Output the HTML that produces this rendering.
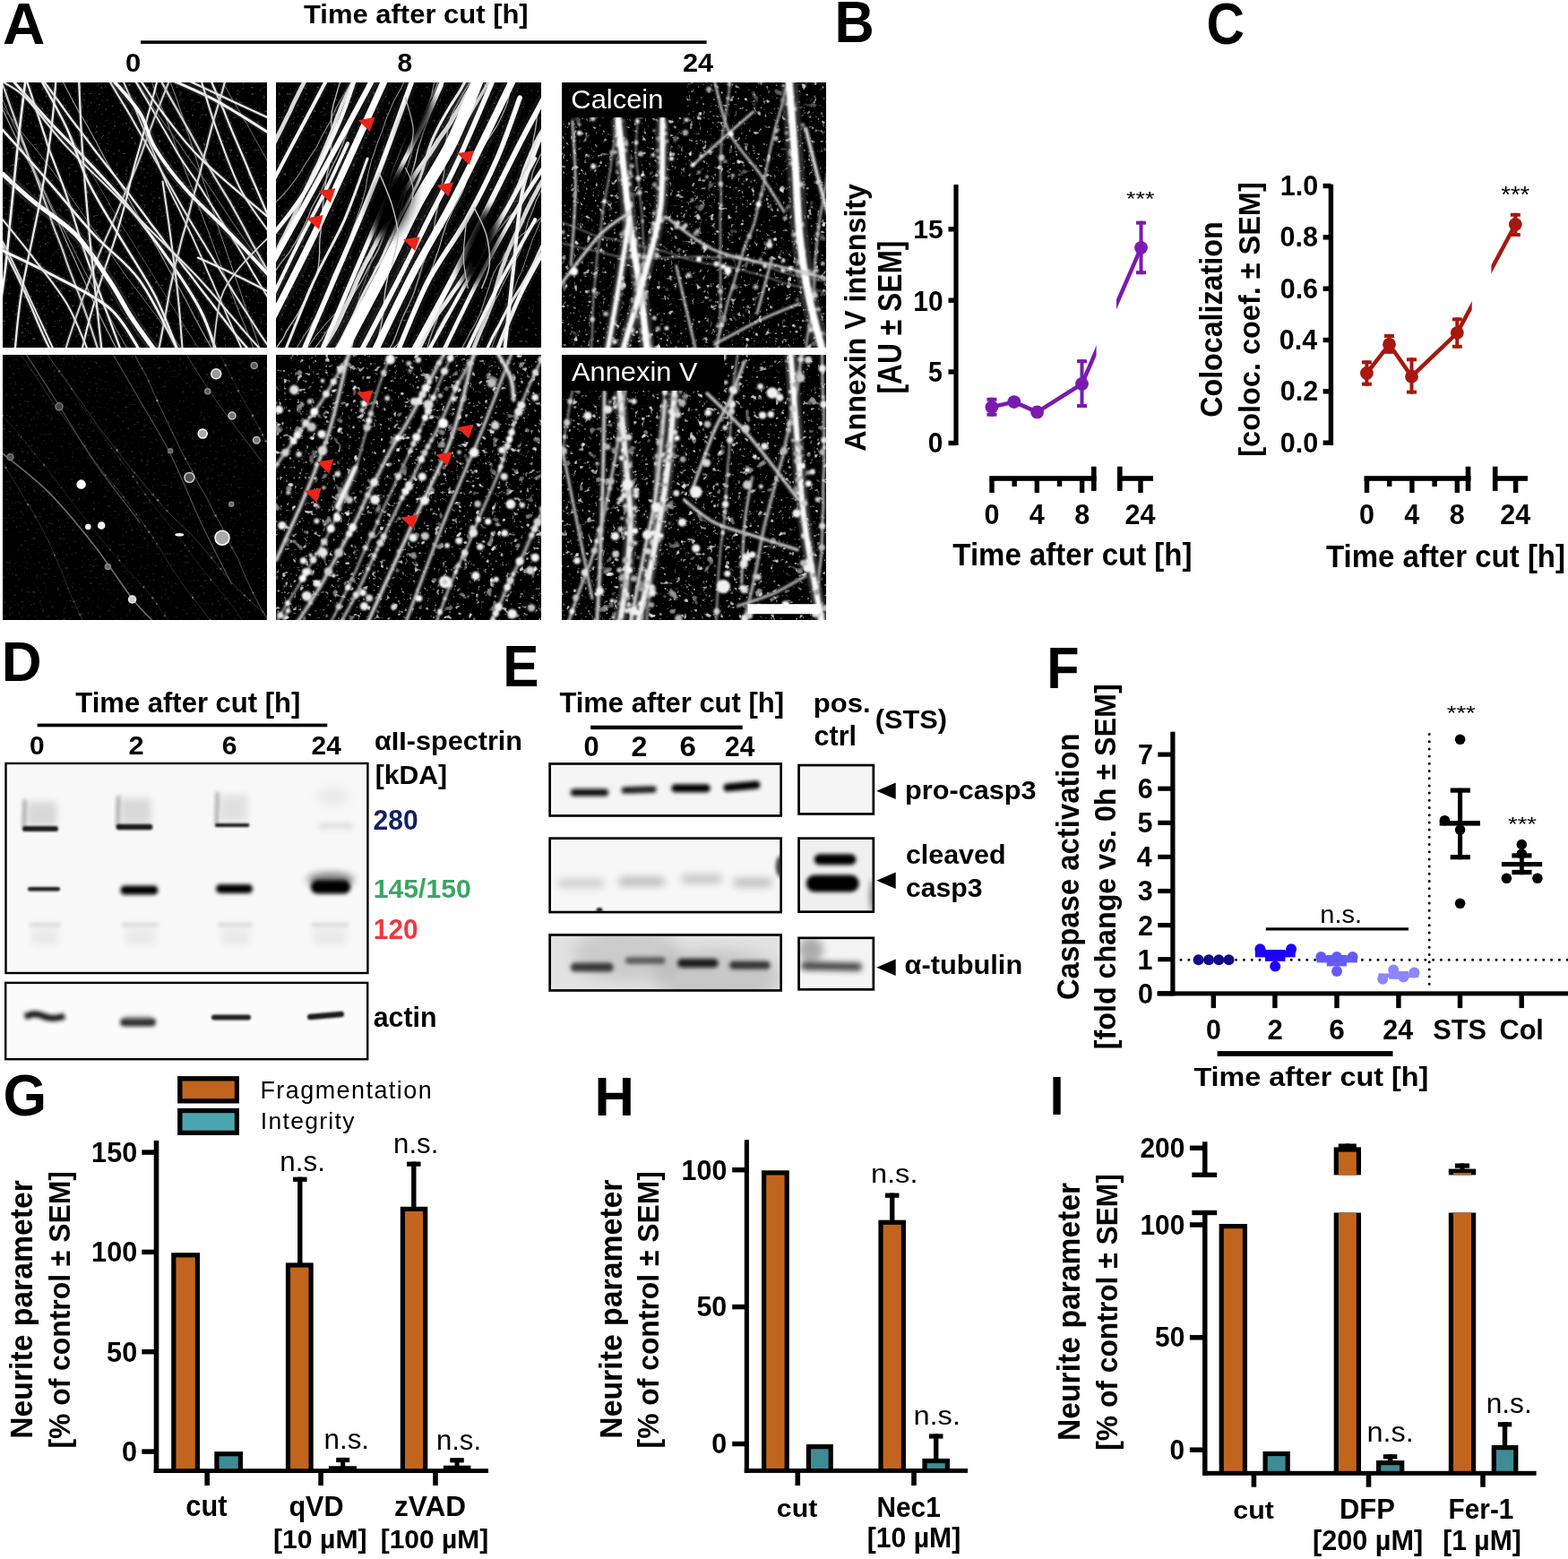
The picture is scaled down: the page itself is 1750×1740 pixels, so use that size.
<!DOCTYPE html>
<html><head><meta charset="utf-8"><title>Figure</title>
<style>html,body{margin:0;padding:0;background:#fff;}svg{display:block;}text{font-family:'Liberation Sans', Arial, Helvetica, sans-serif;font-weight:bold;}</style>
</head><body>
<svg width="1750" height="1740" viewBox="0 0 1750 1740">
<rect width="1750" height="1740" fill="#fff"/>
<text transform="translate(931.61,47.4) scale(0.9507,1)" font-size="64.49">B</text>
<rect x="1064.4" y="206" width="5.2" height="291" fill="#000"/>
<rect x="1058.5" y="491.8" width="8.5" height="5.4" fill="#000"/>
<rect x="1058.5" y="412.3" width="8.5" height="5.4" fill="#000"/>
<rect x="1058.5" y="332.5" width="8.5" height="5.4" fill="#000"/>
<rect x="1058.5" y="253.1" width="8.5" height="5.4" fill="#000"/>
<text transform="translate(1019.3,266.3) scale(0.9969,1)" font-size="30.14">15</text>
<text transform="translate(1019.31,346.59) scale(0.9520,1)" font-size="31.41">10</text>
<text transform="translate(1036.05,425.98) scale(0.8915,1)" font-size="31.86">5</text>
<text transform="translate(1035.7,505.39) scale(0.9518,1)" font-size="31.41">0</text>
<text transform="translate(965.7,503.7) rotate(-90) scale(0.9523,1)" font-size="33.8">Annexin V intensity</text>
<text transform="translate(1006.31,439.45) rotate(-90) scale(0.8787,1)" font-size="36.15">[AU ± SEM]</text>
<rect x="1104.3" y="531.2" width="119.3" height="5.6" fill="#000"/>
<rect x="1247" y="531.2" width="40" height="5.6" fill="#000"/>
<rect x="1104.3" y="534" width="5.4" height="16" fill="#000"/>
<rect x="1154.62" y="534" width="5.4" height="16" fill="#000"/>
<rect x="1204.94" y="534" width="5.4" height="16" fill="#000"/>
<rect x="1129.46" y="534" width="5.4" height="9" fill="#000"/>
<rect x="1179.78" y="534" width="5.4" height="9" fill="#000"/>
<rect x="1270.3" y="534" width="5.4" height="16" fill="#000"/>
<rect x="1218" y="520.7" width="5.6" height="27.2" fill="#000"/>
<rect x="1247" y="520.7" width="5.6" height="27.2" fill="#000"/>
<text transform="translate(1098.54,585.35) scale(1.0000,1)" font-size="30.5">0</text>
<text transform="translate(1148.7,585.04) scale(1.0000,1)" font-size="30.5">4</text>
<text transform="translate(1199.18,585.35) scale(1.0000,1)" font-size="30.5">8</text>
<text transform="translate(1255.61,585.35) scale(1.0000,1)" font-size="30.5">24</text>
<text transform="translate(1063.37,630.9) scale(0.9184,1)" font-size="35.94">Time after cut [h]</text>
<defs><clipPath id="cb1"><rect x="1000" y="150" width="223.6" height="400"/><rect x="1246" y="150" width="100" height="400"/></clipPath></defs>
<g clip-path="url(#cb1)">
<polyline points="1106.9,454.3 1131.8,448.6 1157.6,459.9 1207.5,428.5 1273.5,276.4" fill="none" stroke="#7A1AB0" stroke-width="4.5" stroke-linejoin="round"/>
</g>
<line x1="1106.9" y1="443.8" x2="1106.9" y2="464.7" stroke="#7A1AB0" stroke-width="4"/>
<line x1="1101.4" y1="445.8" x2="1112.4" y2="445.8" stroke="#7A1AB0" stroke-width="4"/>
<line x1="1101.4" y1="462.7" x2="1112.4" y2="462.7" stroke="#7A1AB0" stroke-width="4"/>
<line x1="1207.5" y1="401.2" x2="1207.5" y2="455" stroke="#7A1AB0" stroke-width="4"/>
<line x1="1202" y1="403.2" x2="1213" y2="403.2" stroke="#7A1AB0" stroke-width="4"/>
<line x1="1202" y1="453" x2="1213" y2="453" stroke="#7A1AB0" stroke-width="4"/>
<line x1="1273.5" y1="246.7" x2="1273.5" y2="306.2" stroke="#7A1AB0" stroke-width="4"/>
<line x1="1268" y1="248.7" x2="1279" y2="248.7" stroke="#7A1AB0" stroke-width="4"/>
<line x1="1268" y1="304.2" x2="1279" y2="304.2" stroke="#7A1AB0" stroke-width="4"/>
<circle cx="1106.9" cy="454.3" r="7.4" fill="#7A1AB0"/>
<circle cx="1131.8" cy="448.6" r="7.4" fill="#7A1AB0"/>
<circle cx="1157.6" cy="459.9" r="7.4" fill="#7A1AB0"/>
<circle cx="1207.5" cy="428.5" r="7.4" fill="#7A1AB0"/>
<circle cx="1273.5" cy="276.4" r="7.4" fill="#7A1AB0"/>
<text transform="translate(1257,229.47) scale(1.1743,1)" font-size="22.86" style="font-weight:normal">***</text>
<text transform="translate(1346.55,49.35) scale(0.9072,1)" font-size="64.79">C</text>
<rect x="1482.7" y="205.7" width="5.4" height="291.3" fill="#000"/>
<rect x="1476.6" y="491.5" width="8.8" height="5.4" fill="#000"/>
<rect x="1476.6" y="434.16" width="8.8" height="5.4" fill="#000"/>
<rect x="1476.6" y="376.82" width="8.8" height="5.4" fill="#000"/>
<rect x="1476.6" y="319.48" width="8.8" height="5.4" fill="#000"/>
<rect x="1476.6" y="262.14" width="8.8" height="5.4" fill="#000"/>
<rect x="1476.6" y="204.8" width="8.8" height="5.4" fill="#000"/>
<text transform="translate(1428.83,504.72) scale(1.0000,1)" font-size="30.5">0.0</text>
<text transform="translate(1428.83,447.38) scale(1.0000,1)" font-size="30.5">0.2</text>
<text transform="translate(1427.76,390.04) scale(1.0000,1)" font-size="30.5">0.4</text>
<text transform="translate(1428.67,332.7) scale(1.0000,1)" font-size="30.5">0.6</text>
<text transform="translate(1428.52,275.36) scale(1.0000,1)" font-size="30.5">0.8</text>
<text transform="translate(1428.83,218.02) scale(1.0000,1)" font-size="30.5">1.0</text>
<text transform="translate(1364.16,465.79) rotate(-90) scale(0.9363,1)" font-size="34.42">Colocalization</text>
<text transform="translate(1405.73,509.69) rotate(-90) scale(0.9638,1)" font-size="33.69">[coloc. coef. ± SEM]</text>
<rect x="1522.5" y="531.2" width="119" height="5.6" fill="#000"/>
<rect x="1666" y="531.2" width="39" height="5.6" fill="#000"/>
<rect x="1522.8" y="534" width="5.4" height="16" fill="#000"/>
<rect x="1573.2" y="534" width="5.4" height="16" fill="#000"/>
<rect x="1623.6" y="534" width="5.4" height="16" fill="#000"/>
<rect x="1548" y="534" width="5.4" height="9" fill="#000"/>
<rect x="1598.4" y="534" width="5.4" height="9" fill="#000"/>
<rect x="1688.9" y="534" width="5.4" height="16" fill="#000"/>
<rect x="1635.7" y="520.7" width="5.6" height="27.2" fill="#000"/>
<rect x="1665.9" y="520.7" width="5.6" height="27.2" fill="#000"/>
<text transform="translate(1517.04,585.35) scale(1.0000,1)" font-size="30.5">0</text>
<text transform="translate(1567.28,585.04) scale(1.0000,1)" font-size="30.5">4</text>
<text transform="translate(1617.84,585.35) scale(1.0000,1)" font-size="30.5">8</text>
<text transform="translate(1674.21,585.35) scale(1.0000,1)" font-size="30.5">24</text>
<text transform="translate(1479.97,633) scale(0.9490,1)" font-size="34.78">Time after cut [h]</text>
<defs><clipPath id="cc1"><rect x="1400" y="150" width="242.7" height="400"/><rect x="1664.4" y="150" width="100" height="400"/></clipPath></defs>
<g clip-path="url(#cc1)">
<polyline points="1525.4,416.5 1550.5,384.3 1575.5,420.2 1626.3,371.6 1691.3,250.5" fill="none" stroke="#A6180E" stroke-width="4.5" stroke-linejoin="round"/>
</g>
<line x1="1525.4" y1="402.3" x2="1525.4" y2="430.7" stroke="#A6180E" stroke-width="4"/>
<line x1="1519.9" y1="404.3" x2="1530.9" y2="404.3" stroke="#A6180E" stroke-width="4"/>
<line x1="1519.9" y1="428.7" x2="1530.9" y2="428.7" stroke="#A6180E" stroke-width="4"/>
<line x1="1550.5" y1="373" x2="1550.5" y2="394.8" stroke="#A6180E" stroke-width="4"/>
<line x1="1545" y1="375" x2="1556" y2="375" stroke="#A6180E" stroke-width="4"/>
<line x1="1545" y1="392.8" x2="1556" y2="392.8" stroke="#A6180E" stroke-width="4"/>
<line x1="1575.5" y1="399.3" x2="1575.5" y2="439.6" stroke="#A6180E" stroke-width="4"/>
<line x1="1570" y1="401.3" x2="1581" y2="401.3" stroke="#A6180E" stroke-width="4"/>
<line x1="1570" y1="437.6" x2="1581" y2="437.6" stroke="#A6180E" stroke-width="4"/>
<line x1="1626.3" y1="354.4" x2="1626.3" y2="388.8" stroke="#A6180E" stroke-width="4"/>
<line x1="1620.8" y1="356.4" x2="1631.8" y2="356.4" stroke="#A6180E" stroke-width="4"/>
<line x1="1620.8" y1="386.8" x2="1631.8" y2="386.8" stroke="#A6180E" stroke-width="4"/>
<line x1="1691.3" y1="237.8" x2="1691.3" y2="264" stroke="#A6180E" stroke-width="4"/>
<line x1="1685.8" y1="239.8" x2="1696.8" y2="239.8" stroke="#A6180E" stroke-width="4"/>
<line x1="1685.8" y1="262" x2="1696.8" y2="262" stroke="#A6180E" stroke-width="4"/>
<circle cx="1525.4" cy="416.5" r="7.4" fill="#A6180E"/>
<circle cx="1550.5" cy="384.3" r="7.4" fill="#A6180E"/>
<circle cx="1575.5" cy="420.2" r="7.4" fill="#A6180E"/>
<circle cx="1626.3" cy="371.6" r="7.4" fill="#A6180E"/>
<circle cx="1691.3" cy="250.5" r="7.4" fill="#A6180E"/>
<text transform="translate(1675.19,226.25) scale(1.0832,1)" font-size="25.43" style="font-weight:normal">***</text>
<text transform="translate(2.96,49) scale(1.0183,1)" font-size="64.35">A</text>
<text transform="translate(338.99,25.77) scale(1.0275,1)" font-size="30.16">Time after cut [h]</text>
<rect x="157" y="45.3" width="631.6" height="3.6" fill="#000"/>
<text transform="translate(140.06,80) scale(1.0316,1)" font-size="30">0</text>
<text transform="translate(443.4,79.7) scale(0.9920,1)" font-size="30.14">8</text>
<text transform="translate(761.92,79.8) scale(1.0183,1)" font-size="30.29">24</text>
<defs><clipPath id="cp1"><rect x="3" y="92" width="295" height="296"/></clipPath><filter id="fp1" filterUnits="userSpaceOnUse" x="-2" y="87" width="305" height="306"><feGaussianBlur stdDeviation="0.55"/></filter></defs>
<g clip-path="url(#cp1)"><rect x="3" y="92" width="295" height="296" fill="#000"/>
<filter id="spk1" filterUnits="userSpaceOnUse" x="3" y="92" width="295" height="296"><feTurbulence type="fractalNoise" baseFrequency="0.3" numOctaves="2" seed="2"/><feColorMatrix type="matrix" values="3 0 0 0 -2.05 3 0 0 0 -2.05 3 0 0 0 -2.05 0 0 0 0 1"/><feGaussianBlur stdDeviation="0.6"/></filter>
<rect x="3" y="92" width="295" height="296" filter="url(#spk1)" opacity="0.35" style="mix-blend-mode:screen"/>
<g filter="url(#fp1)">
<path d="M-71.7,243.7 -67.7,250.6 -63.7,257.5" stroke="#757575" stroke-width="1.26" fill="none" stroke-linejoin="round" stroke-linecap="round"/>
<path d="M-30.5,256.4 -26,263.1 -21.5,269.6" stroke="#575757" stroke-width="1.2" fill="none" stroke-linejoin="round" stroke-linecap="round"/>
<path d="M-17,79 -13.7,86.3 -10.2,93.5 -6.8,100.7 -3.5,108 -0.1,115.3 3.2,122.5 6.6,129.8 10,137 13.4,144.3 16.9,151.5 20.4,158.6 24,165.8 27.7,172.9 31.4,180 35.2,187 39,194.1 42.9,201.1 46.4,208.3 49.7,215.6 53,222.8 56.3,230.1 59.7,237.3 63.1,244.6 66.5,251.8 69.7,259.2 72.8,266.5 76.1,273.8 79.3,281.1 82.8,288.4 86,295.7 89.3,303 92.6,310.3 95.9,317.6 98.9,325 102.3,332.2 105.6,339.5 109,346.8 112.3,354 115.8,361.2 119.4,368.4 123,375.5 126.6,382.7 130.3,389.8 133.7,397 137.1,404.2 140.6,411.4" stroke="#9d9d9d" stroke-width="1.29" fill="none" stroke-linejoin="round" stroke-linecap="round"/>
<path d="M-20.3,86.1 -15.6,92.6 -11,99.1 -6.5,105.7 -1.9,112.3 2.8,118.7 7.5,125.2 12.2,131.7 17,138.1 21.9,144.4 26.8,150.7 31.9,156.9 37.1,163 42.2,169.1 47,175.5 51.9,181.9 56.7,188.3 61.4,194.8 66.2,201.1 70.8,207.7 75.3,214.3 79.8,220.9 84.3,227.5 88.8,234.1 93.4,240.7 98.1,247.1 102.8,253.6 107.4,260.2 112,266.8 116.6,273.3 121.1,279.9 125.7,286.4 130.3,293 134.8,299.6 139.3,306.2 144.1,312.6 149,318.9 153.9,325.3 158.7,331.6 163.5,338.1 168.3,344.5 173.1,350.8 177.9,357.2 182.8,363.6 187.9,369.8 192.9,376 197.6,382.4 202.3,388.9 207.2,395.3 212,401.6 216.9,408 221.6,414.5" stroke="#8f8f8f" stroke-width="0.83" fill="none" stroke-linejoin="round" stroke-linecap="round"/>
<path d="M-19.2,67.2 -15.5,74.4 -11.9,81.5 -8.2,88.6 -4.6,95.7 -1,102.9 2.4,110.1 5.7,117.4 8.7,124.8 12,132.1 15.3,139.4 18.6,146.7 22,153.9 25.3,161.2 28.6,168.5 32,175.7 35.4,183 38.8,190.2 42.2,197.5 45.6,204.7 49.2,211.9 52.7,219 56.1,226.3 59.6,233.5 63.2,240.6 66.8,247.7 70.4,254.9 74,262.1 77.6,269.2 81.2,276.3 84.7,283.5 88.4,290.6 92,297.8 95.6,304.9 99.3,312 103.1,319 106.9,326.1 110.8,333.1 114.6,340.1 118.4,347.2 122.4,354.1 126.3,361 130.2,368.1 134.1,375.1 138,382 142.1,388.9 146.1,395.8 150.1,402.7 154.2,409.6" stroke="#919191" stroke-width="0.93" fill="none" stroke-linejoin="round" stroke-linecap="round"/>
<path d="M60,71.5 63.8,78.5 67.4,85.6 71.1,92.7 74.8,99.9 78.4,107 82.2,114.1 86,121.1 90.1,128 94.2,134.8 98.2,141.7 102,148.8 105.9,155.8 109.6,162.8 113.3,169.9 117.1,177 121,184 125,190.9 129.2,197.7 133.4,204.5 137.5,211.4 141.5,218.3 145.4,225.3 149.3,232.3 153.3,239.2 157.5,246 161.6,252.9 165.7,259.8 169.8,266.6 173.8,273.6 177.7,280.6 181.5,287.6 185.2,294.7 189,301.7 193,308.7 196.8,315.7 200.8,322.6 204.6,329.7 208.4,336.7 212,343.8 215.6,351 219.4,358 223.1,365.1 226.9,372.1 230.8,379.1 234.7,386.1 238.5,393.1 242.3,400.2 245.9,407.4 249.7,414.4" stroke="#959595" stroke-width="1.2" fill="none" stroke-linejoin="round" stroke-linecap="round"/>
<path d="M34.2,70.8 38.1,77.8 42,84.7 45.9,91.7 49.9,98.6 54,105.5 57.9,112.5 62.1,119.3 66,126.3 69.8,133.3 73.7,140.4 77.3,147.5 81,154.6 84.7,161.6 88.5,168.7 92.3,175.7 96.1,182.8 100,189.8 104,196.7 108.1,203.6 112.2,210.5 116.2,217.4 120.2,224.3 124.1,231.3 128.1,238.2 132.1,245.1 136.2,252 140.6,258.7 144.9,265.4 149.2,272.2 153.3,279 157.6,285.8 161.8,292.6 166,299.4 170.2,306.2 174.3,313.1 178.5,319.9 182.8,326.7 187.1,333.4 191.3,340.2 195.5,347 199.7,353.8 203.8,360.7 208.1,367.4 212.4,374.2 216.6,381 221,387.7 225.3,394.5 229.7,401.1 234,407.9 238.1,414.7" stroke="#5d5d5d" stroke-width="0.94" fill="none" stroke-linejoin="round" stroke-linecap="round"/>
<path d="M181.2,68.6 183.8,76.2 186.8,83.6 189.8,91 192.7,98.5 195.5,106 198.1,113.5 200.7,121.1 203.2,128.7 205.7,136.3 208.1,143.9 210.7,151.5 213.1,159.1 215.6,166.7 218.2,174.3 220.5,182 222.8,189.6 225.3,197.2 227.8,204.8 230.5,212.3 232.9,220 235.3,227.6 237.8,235.2 240.1,242.9 242.5,250.5 245,258.1 247.6,265.7 250.2,273.2 252.8,280.8 255.4,288.4 258,295.9 260.6,303.5 263.2,311 266,318.6 268.5,326.1 271,333.7 273.5,341.3 276.1,348.9 278.8,356.4 281.4,364 284.1,371.5 286.6,379.1 289.3,386.7 291.8,394.3 294.4,401.8 296.9,409.4" stroke="#828282" stroke-width="1.03" fill="none" stroke-linejoin="round" stroke-linecap="round"/>
<path d="M161.6,71.1 164.4,78.6 167.2,86 170.3,93.4 173,100.9 175.9,108.4 178.8,115.9 181.9,123.3 184.7,130.7 187.4,138.3 190.1,145.8 192.9,153.3 195.4,160.9 198.1,168.4 201,175.9 204,183.3 206.8,190.8 209.7,198.3 212.7,205.7 215.7,213.1 218.5,220.6 221.1,228.1 223.9,235.6 226.7,243.1 229.4,250.6 232.4,258.1 235.2,265.6 237.9,273.1 240.6,280.6 243.4,288.1 246.3,295.6 249.2,303.1 252.2,310.5 255.1,317.9 258,325.4 260.9,332.8 263.8,340.3 266.6,347.8 269.6,355.2 272.8,362.5 275.8,369.9 278.7,377.4 281.5,384.9 284.2,392.4 287,399.9 289.5,407.5 292.2,415.1" stroke="#797979" stroke-width="1.12" fill="none" stroke-linejoin="round" stroke-linecap="round"/>
<path d="M233.6,65.5 237.6,72.4 241.6,79.4 245.6,86.3 249.5,93.3 253.4,100.3 257.3,107.2 261.4,114.1 265.4,121 269.3,128 273.4,134.9 277.4,141.8 281.3,148.8 285.1,155.8 289,162.8 292.9,169.8 296.8,176.8 300.8,183.7 304.8,190.7 308.9,197.5 313,204.4 317.2,211.2 321.4,218" stroke="#595959" stroke-width="1.17" fill="none" stroke-linejoin="round" stroke-linecap="round"/>
<path d="M139.8,71.4 144.4,78 148.8,84.7 153.1,91.4 157.4,98.1 161.8,104.8 166.1,111.6 170.4,118.3 174.6,125.1 179.1,131.7 183.7,138.3 188.4,144.8 193,151.2 197.8,157.7 202.4,164.2 207,170.8 211.5,177.4 216.2,183.9 220.8,190.4 225.5,196.9 230.1,203.4 234.6,210 239,216.7 243.4,223.4 247.8,230.1 252.2,236.8 256.5,243.5 260.9,250.2 265.5,256.7 270.1,263.3 274.7,269.8 279.2,276.4 283.8,283 288.5,289.5 293.2,296 297.7,302.5 302.3,309.1 307.1,315.5 311.8,322 316.4,328.5 321.4,334.8" stroke="#5a5a5a" stroke-width="1.24" fill="none" stroke-linejoin="round" stroke-linecap="round"/>
<path d="M361.3,250.4 364.1,257.9 366.8,265.4" stroke="#888888" stroke-width="0.81" fill="none" stroke-linejoin="round" stroke-linecap="round"/>
<path d="M-64.7,216.3 -60.6,223.2 -56.6,230.1" stroke="#727272" stroke-width="4.67" fill="none" opacity="0.2" stroke-linejoin="round"/>
<path d="M-64.7,216.3 -60.6,223.2 -56.6,230.1" stroke="#d0d0d0" stroke-width="1.8" fill="none" stroke-linejoin="round" stroke-linecap="round"/>
<path d="M-29.3,269.8 -24.8,276.3 -20.1,282.9" stroke="#7f7f7f" stroke-width="6.4" fill="none" opacity="0.2" stroke-linejoin="round"/>
<path d="M-29.3,269.8 -24.8,276.3 -20.1,282.9" stroke="#e7e7e7" stroke-width="2.46" fill="none" stroke-linejoin="round" stroke-linecap="round"/>
<path d="M-17.3,229.8 -13.6,236.9 -10,244.1 -6.4,251.2 -2.9,258.4 0.7,265.5 4.5,272.6 8.1,279.7 11.6,286.9 15.1,294.1 18.6,301.3 22,308.5 25.4,315.8 28.7,323.1 32,330.4 35.3,337.6 38.8,344.9 42.1,352.1 45.5,359.4 48.9,366.6 52.2,373.9 55.5,381.2 58.9,388.4 62.2,395.7 65.6,402.9 69.1,410.2" stroke="#878787" stroke-width="4.83" fill="none" opacity="0.2" stroke-linejoin="round"/>
<path d="M-17.3,229.8 -13.6,236.9 -10,244.1 -6.4,251.2 -2.9,258.4 0.7,265.5 4.5,272.6 8.1,279.7 11.6,286.9 15.1,294.1 18.6,301.3 22,308.5 25.4,315.8 28.7,323.1 32,330.4 35.3,337.6 38.8,344.9 42.1,352.1 45.5,359.4 48.9,366.6 52.2,373.9 55.5,381.2 58.9,388.4 62.2,395.7 65.6,402.9 69.1,410.2" stroke="#f5f5f5" stroke-width="1.86" fill="none" stroke-linejoin="round" stroke-linecap="round"/>
<path d="M-18.2,227.1 -14.9,234.4 -11.6,241.7 -8.5,249.1 -5.2,256.4 -1.9,263.6 1.5,270.9 4.8,278.2 8.1,285.4 11.6,292.7 15.1,299.8 18.7,307 22.1,314.2 25.5,321.5 28.8,328.8 32,336.1 35.2,343.4 38.3,350.8 41.4,358.2 44.5,365.5 47.7,372.9 51.1,380.2 54.5,387.4 57.7,394.7 60.8,402.1 63.9,409.4" stroke="#818181" stroke-width="5.83" fill="none" opacity="0.2" stroke-linejoin="round"/>
<path d="M-18.2,227.1 -14.9,234.4 -11.6,241.7 -8.5,249.1 -5.2,256.4 -1.9,263.6 1.5,270.9 4.8,278.2 8.1,285.4 11.6,292.7 15.1,299.8 18.7,307 22.1,314.2 25.5,321.5 28.8,328.8 32,336.1 35.2,343.4 38.3,350.8 41.4,358.2 44.5,365.5 47.7,372.9 51.1,380.2 54.5,387.4 57.7,394.7 60.8,402.1 63.9,409.4" stroke="#ebebeb" stroke-width="2.24" fill="none" stroke-linejoin="round" stroke-linecap="round"/>
<path d="M-5.8,65.6 -3.5,73.3 -1.2,80.9 1.1,88.6 3.5,96.2 6.3,103.7 8.9,111.3 11.6,118.8 14.3,126.3 17,133.9 19.6,141.4 22.4,148.9 25.1,156.5 28,163.9 30.7,171.4 33.5,178.9 36.2,186.5 38.9,194 41.7,201.5 44.4,209 47.2,216.5 49.8,224.1 52.5,231.6 55.1,239.2 57.6,246.8 60.3,254.3 63.2,261.8 66.1,269.2 69,276.7 71.7,284.2 74.2,291.8 76.9,299.4 79.8,306.8 82.7,314.3 85.4,321.8 88.3,329.2 91.1,336.7 93.8,344.3 96.5,351.8 99.2,359.3 101.8,366.9 104.3,374.5 106.8,382.1 109.2,389.7 111.6,397.3 114.2,404.9 116.9,412.5" stroke="#6f6f6f" stroke-width="5.75" fill="none" opacity="0.2" stroke-linejoin="round"/>
<path d="M-5.8,65.6 -3.5,73.3 -1.2,80.9 1.1,88.6 3.5,96.2 6.3,103.7 8.9,111.3 11.6,118.8 14.3,126.3 17,133.9 19.6,141.4 22.4,148.9 25.1,156.5 28,163.9 30.7,171.4 33.5,178.9 36.2,186.5 38.9,194 41.7,201.5 44.4,209 47.2,216.5 49.8,224.1 52.5,231.6 55.1,239.2 57.6,246.8 60.3,254.3 63.2,261.8 66.1,269.2 69,276.7 71.7,284.2 74.2,291.8 76.9,299.4 79.8,306.8 82.7,314.3 85.4,321.8 88.3,329.2 91.1,336.7 93.8,344.3 96.5,351.8 99.2,359.3 101.8,366.9 104.3,374.5 106.8,382.1 109.2,389.7 111.6,397.3 114.2,404.9 116.9,412.5" stroke="#cacaca" stroke-width="2.21" fill="none" stroke-linejoin="round" stroke-linecap="round"/>
<path d="M23.1,69.6 25.4,77.2 27.9,84.9 30.5,92.4 33.1,100 35.6,107.6 38,115.2 40.4,122.8 43,130.4 45.5,138 47.9,145.6 50.5,153.2 52.8,160.9 55.4,168.4 58.3,175.9 61.2,183.3 64.1,190.8 67,198.3 69.8,205.7 72.5,213.3 75.1,220.9 77.6,228.5 80.1,236.1 82.6,243.7 84.9,251.3 87.2,259 89.6,266.6 92.2,274.2 94.7,281.8 97.2,289.4 100,296.9 102.9,304.3 105.8,311.8 108.6,319.3 111.3,326.8 114,334.3 116.6,341.9 119.5,349.4 122.3,356.8 125.1,364.4 127.8,371.9 130.6,379.4 133.4,386.9 136.3,394.3 139.2,401.8 142.1,409.2" stroke="#898989" stroke-width="5.54" fill="none" opacity="0.2" stroke-linejoin="round"/>
<path d="M23.1,69.6 25.4,77.2 27.9,84.9 30.5,92.4 33.1,100 35.6,107.6 38,115.2 40.4,122.8 43,130.4 45.5,138 47.9,145.6 50.5,153.2 52.8,160.9 55.4,168.4 58.3,175.9 61.2,183.3 64.1,190.8 67,198.3 69.8,205.7 72.5,213.3 75.1,220.9 77.6,228.5 80.1,236.1 82.6,243.7 84.9,251.3 87.2,259 89.6,266.6 92.2,274.2 94.7,281.8 97.2,289.4 100,296.9 102.9,304.3 105.8,311.8 108.6,319.3 111.3,326.8 114,334.3 116.6,341.9 119.5,349.4 122.3,356.8 125.1,364.4 127.8,371.9 130.6,379.4 133.4,386.9 136.3,394.3 139.2,401.8 142.1,409.2" stroke="#f9f9f9" stroke-width="2.13" fill="none" stroke-linejoin="round" stroke-linecap="round"/>
<path d="M33.6,69.7 38.3,76.1 43,82.5 47.7,89 52.4,95.5 57.2,102 61.9,108.4 66.6,114.9 71.2,121.4 75.9,127.9 80.6,134.3 85.5,140.7 90.4,147 95.2,153.4 100,159.8 104.7,166.3 109.6,172.6 114.5,178.9 119.4,185.3 124.3,191.5 129.3,197.9 134.2,204.2 139.1,210.4 144.1,216.7 148.8,223.2 153.6,229.6 158.4,236 163.1,242.4 167.8,249 172.6,255.3 177.6,261.6 182.3,268.1 187.1,274.5 192,280.7 196.9,287.1 201.8,293.4 206.7,299.8 211.7,306 216.5,312.4 221.3,318.8 226.1,325.2 231,331.5 235.9,337.9 240.7,344.2 245.5,350.6 250.4,357 255.2,363.4 260.1,369.7 265.2,375.9 270.3,382 275.5,388.1 280.7,394.2 285.9,400.3 291.1,406.4 296.4,412.4" stroke="#898989" stroke-width="5.86" fill="none" opacity="0.2" stroke-linejoin="round"/>
<path d="M33.6,69.7 38.3,76.1 43,82.5 47.7,89 52.4,95.5 57.2,102 61.9,108.4 66.6,114.9 71.2,121.4 75.9,127.9 80.6,134.3 85.5,140.7 90.4,147 95.2,153.4 100,159.8 104.7,166.3 109.6,172.6 114.5,178.9 119.4,185.3 124.3,191.5 129.3,197.9 134.2,204.2 139.1,210.4 144.1,216.7 148.8,223.2 153.6,229.6 158.4,236 163.1,242.4 167.8,249 172.6,255.3 177.6,261.6 182.3,268.1 187.1,274.5 192,280.7 196.9,287.1 201.8,293.4 206.7,299.8 211.7,306 216.5,312.4 221.3,318.8 226.1,325.2 231,331.5 235.9,337.9 240.7,344.2 245.5,350.6 250.4,357 255.2,363.4 260.1,369.7 265.2,375.9 270.3,382 275.5,388.1 280.7,394.2 285.9,400.3 291.1,406.4 296.4,412.4" stroke="#f9f9f9" stroke-width="2.25" fill="none" stroke-linejoin="round" stroke-linecap="round"/>
<path d="M107.2,65.6 111.2,72.5 115.3,79.4 119.4,86.2 123.7,92.9 127.8,99.8 131.9,106.7 136.1,113.5 140.2,120.4 144.4,127.2 148.3,134.2 152.2,141.2 156.1,148.1 160,155.1 163.9,162.1 167.8,169.1 171.8,176 175.8,183 179.6,190 183.6,197 187.6,203.9 191.7,210.7 195.7,217.7 199.6,224.7 203.5,231.6 207.6,238.5 211.6,245.4 215.7,252.3 219.9,259.1 224,266 228.2,272.8 232.3,279.7 236.5,286.5 240.6,293.4 244.8,300.2 248.9,307 253.2,313.8 257.3,320.6 261.4,327.5 265.7,334.2 270,341 274.3,347.8 278.6,354.5 282.9,361.2 287.2,368 291.5,374.7 296.1,381.3 300.7,387.8 305.1,394.5 309.6,401.1 313.9,407.9 318.2,414.6" stroke="#7c7c7c" stroke-width="5.5" fill="none" opacity="0.2" stroke-linejoin="round"/>
<path d="M107.2,65.6 111.2,72.5 115.3,79.4 119.4,86.2 123.7,92.9 127.8,99.8 131.9,106.7 136.1,113.5 140.2,120.4 144.4,127.2 148.3,134.2 152.2,141.2 156.1,148.1 160,155.1 163.9,162.1 167.8,169.1 171.8,176 175.8,183 179.6,190 183.6,197 187.6,203.9 191.7,210.7 195.7,217.7 199.6,224.7 203.5,231.6 207.6,238.5 211.6,245.4 215.7,252.3 219.9,259.1 224,266 228.2,272.8 232.3,279.7 236.5,286.5 240.6,293.4 244.8,300.2 248.9,307 253.2,313.8 257.3,320.6 261.4,327.5 265.7,334.2 270,341 274.3,347.8 278.6,354.5 282.9,361.2 287.2,368 291.5,374.7 296.1,381.3 300.7,387.8 305.1,394.5 309.6,401.1 313.9,407.9 318.2,414.6" stroke="#e3e3e3" stroke-width="2.12" fill="none" stroke-linejoin="round" stroke-linecap="round"/>
<path d="M127,66 130.2,73.3 133.3,80.7 136.5,88.1 139.6,95.4 142.8,102.7 146,110.1 149.3,117.4 152.3,124.8 155.3,132.2 158.4,139.6 161.5,146.9 164.6,154.3 167.8,161.7 170.9,169 174,176.4 177.2,183.7 180.2,191.2 183.2,198.6 186.2,206 189.7,213.2 193.2,220.4 196.8,227.5 200.4,234.7 203.7,241.9 207.2,249.1 210.8,256.3 214.2,263.5 217.5,270.8 220.8,278.1 224.1,285.4 227.4,292.7 230.5,300.1 233.7,307.4 237,314.7 240.1,322 243.4,329.3 246.7,336.6 249.9,344 253,351.3 256.2,358.7 259.4,366 262.6,373.3 265.9,380.6 269.1,387.9 272.5,395.2 275.9,402.4 279.4,409.6" stroke="#7f7f7f" stroke-width="4.46" fill="none" opacity="0.2" stroke-linejoin="round"/>
<path d="M127,66 130.2,73.3 133.3,80.7 136.5,88.1 139.6,95.4 142.8,102.7 146,110.1 149.3,117.4 152.3,124.8 155.3,132.2 158.4,139.6 161.5,146.9 164.6,154.3 167.8,161.7 170.9,169 174,176.4 177.2,183.7 180.2,191.2 183.2,198.6 186.2,206 189.7,213.2 193.2,220.4 196.8,227.5 200.4,234.7 203.7,241.9 207.2,249.1 210.8,256.3 214.2,263.5 217.5,270.8 220.8,278.1 224.1,285.4 227.4,292.7 230.5,300.1 233.7,307.4 237,314.7 240.1,322 243.4,329.3 246.7,336.6 249.9,344 253,351.3 256.2,358.7 259.4,366 262.6,373.3 265.9,380.6 269.1,387.9 272.5,395.2 275.9,402.4 279.4,409.6" stroke="#e8e8e8" stroke-width="1.71" fill="none" stroke-linejoin="round" stroke-linecap="round"/>
<path d="M139.9,71.8 144.1,78.7 148.1,85.6 152.2,92.4 156.3,99.3 160.5,106.2 164.6,113 168.7,119.9 172.7,126.8 176.7,133.7 180.7,140.6 184.8,147.5 188.7,154.5 192.7,161.4 196.7,168.4 200.9,175.2 205.2,181.9 209.6,188.6 214.2,195.1 218.8,201.7 223.2,208.4 227.4,215.2 231.6,222 235.9,228.8 240.1,235.5 244.3,242.3 248.6,249.1 252.9,255.8 257.3,262.5 261.6,269.3 265.7,276.1 269.9,283 273.9,289.9 277.9,296.8 281.9,303.7 286,310.6 290.2,317.4 294.4,324.2 298.5,331.1 302.5,338 306.5,345 310.7,351.7 314.9,358.6 319,365.4" stroke="#858585" stroke-width="4.83" fill="none" opacity="0.2" stroke-linejoin="round"/>
<path d="M139.9,71.8 144.1,78.7 148.1,85.6 152.2,92.4 156.3,99.3 160.5,106.2 164.6,113 168.7,119.9 172.7,126.8 176.7,133.7 180.7,140.6 184.8,147.5 188.7,154.5 192.7,161.4 196.7,168.4 200.9,175.2 205.2,181.9 209.6,188.6 214.2,195.1 218.8,201.7 223.2,208.4 227.4,215.2 231.6,222 235.9,228.8 240.1,235.5 244.3,242.3 248.6,249.1 252.9,255.8 257.3,262.5 261.6,269.3 265.7,276.1 269.9,283 273.9,289.9 277.9,296.8 281.9,303.7 286,310.6 290.2,317.4 294.4,324.2 298.5,331.1 302.5,338 306.5,345 310.7,351.7 314.9,358.6 319,365.4" stroke="#f3f3f3" stroke-width="1.86" fill="none" stroke-linejoin="round" stroke-linecap="round"/>
<path d="M169.5,71.9 173.5,78.8 177.4,85.8 181.1,92.9 185,99.9 188.8,106.9 192.8,113.9 196.8,120.8 200.7,127.7 204.6,134.7 208.6,141.7 212.5,148.7 216.3,155.7 220.1,162.7 223.9,169.8 227.7,176.8 231.7,183.8 235.6,190.7 239.6,197.7 243.7,204.5 247.9,211.3 252.1,218.2 256.2,225 260.1,232 264,239 267.9,246 271.7,253 275.4,260.1 279.1,267.2 282.9,274.2 286.9,281.2 290.8,288.2 294.7,295.1 298.7,302.1 302.7,309 306.6,316 310.4,323 314.2,330.1 317.8,337.2 321.3,344.4" stroke="#747474" stroke-width="6.01" fill="none" opacity="0.2" stroke-linejoin="round"/>
<path d="M169.5,71.9 173.5,78.8 177.4,85.8 181.1,92.9 185,99.9 188.8,106.9 192.8,113.9 196.8,120.8 200.7,127.7 204.6,134.7 208.6,141.7 212.5,148.7 216.3,155.7 220.1,162.7 223.9,169.8 227.7,176.8 231.7,183.8 235.6,190.7 239.6,197.7 243.7,204.5 247.9,211.3 252.1,218.2 256.2,225 260.1,232 264,239 267.9,246 271.7,253 275.4,260.1 279.1,267.2 282.9,274.2 286.9,281.2 290.8,288.2 294.7,295.1 298.7,302.1 302.7,309 306.6,316 310.4,323 314.2,330.1 317.8,337.2 321.3,344.4" stroke="#d3d3d3" stroke-width="2.31" fill="none" stroke-linejoin="round" stroke-linecap="round"/>
<path d="M225.7,65 228.6,72.4 231.4,79.9 234.4,87.3 237.5,94.7 240.7,102 243.8,109.4 246.9,116.7 250.1,124.1 253,131.6 256,139 259,146.4 262.2,153.7 265.3,161.1 268.4,168.4 271.6,175.8 274.7,183.2 277.7,190.6 280.7,198 283.9,205.3 287.1,212.6 290.3,220 293.4,227.4 296.6,234.7 299.8,242.1 303,249.4 306.1,256.8 309,264.2 311.9,271.7 314.6,279.2 317.4,286.7 320.3,294.1" stroke="#838383" stroke-width="5.84" fill="none" opacity="0.2" stroke-linejoin="round"/>
<path d="M225.7,65 228.6,72.4 231.4,79.9 234.4,87.3 237.5,94.7 240.7,102 243.8,109.4 246.9,116.7 250.1,124.1 253,131.6 256,139 259,146.4 262.2,153.7 265.3,161.1 268.4,168.4 271.6,175.8 274.7,183.2 277.7,190.6 280.7,198 283.9,205.3 287.1,212.6 290.3,220 293.4,227.4 296.6,234.7 299.8,242.1 303,249.4 306.1,256.8 309,264.2 311.9,271.7 314.6,279.2 317.4,286.7 320.3,294.1" stroke="#eeeeee" stroke-width="2.25" fill="none" stroke-linejoin="round" stroke-linecap="round"/>
<path d="M320,313.4 325.7,319 331.2,324.8" stroke="#737373" stroke-width="5.79" fill="none" opacity="0.2" stroke-linejoin="round"/>
<path d="M320,313.4 325.7,319 331.2,324.8" stroke="#d1d1d1" stroke-width="2.23" fill="none" stroke-linejoin="round" stroke-linecap="round"/>
<path d="M372.1,202.9 376.3,209.7 380.5,216.5" stroke="#777777" stroke-width="6.58" fill="none" opacity="0.2" stroke-linejoin="round"/>
<path d="M372.1,202.9 376.3,209.7 380.5,216.5" stroke="#dadada" stroke-width="2.53" fill="none" stroke-linejoin="round" stroke-linecap="round"/>
<path d="M-42.6,304.1 -45,311.8 -47.2,319.5" stroke="#7b7b7b" stroke-width="5.29" fill="none" opacity="0.2" stroke-linejoin="round"/>
<path d="M-42.6,304.1 -45,311.8 -47.2,319.5" stroke="#e1e1e1" stroke-width="2.03" fill="none" stroke-linejoin="round" stroke-linecap="round"/>
<path d="M197.4,66.1 194.8,73.6 192.1,81.2 189.3,88.7 186.5,96.2 183.6,103.6 180.6,111.1 177.6,118.5 174.6,125.9 171.7,133.3 169,140.8 166.2,148.4 163.5,155.9 160.7,163.4 158.1,170.9 155.3,178.4 152.4,185.9 149.3,193.3 146.2,200.6 143,208 139.7,215.2 136.6,222.6 133.5,230 130.5,237.4 127.4,244.8 124.3,252.2 121.1,259.5 117.8,266.8 114.7,274.2 111.5,281.5 108.6,289 105.6,296.4 102.9,303.9 100.2,311.4 97.5,319 94.8,326.5 92,334 89.3,341.5 86.6,349.1 83.9,356.6 81.4,364.2 78.9,371.8 76.4,379.4 74.1,387.1 72.1,394.8 70.1,402.5 67.8,410.2" stroke="#717171" stroke-width="5.41" fill="none" opacity="0.2" stroke-linejoin="round"/>
<path d="M197.4,66.1 194.8,73.6 192.1,81.2 189.3,88.7 186.5,96.2 183.6,103.6 180.6,111.1 177.6,118.5 174.6,125.9 171.7,133.3 169,140.8 166.2,148.4 163.5,155.9 160.7,163.4 158.1,170.9 155.3,178.4 152.4,185.9 149.3,193.3 146.2,200.6 143,208 139.7,215.2 136.6,222.6 133.5,230 130.5,237.4 127.4,244.8 124.3,252.2 121.1,259.5 117.8,266.8 114.7,274.2 111.5,281.5 108.6,289 105.6,296.4 102.9,303.9 100.2,311.4 97.5,319 94.8,326.5 92,334 89.3,341.5 86.6,349.1 83.9,356.6 81.4,364.2 78.9,371.8 76.4,379.4 74.1,387.1 72.1,394.8 70.1,402.5 67.8,410.2" stroke="#cdcdcd" stroke-width="2.08" fill="none" stroke-linejoin="round" stroke-linecap="round"/>
<path d="M181.8,65.7 179.9,73.5 177.8,81.2 175.8,89 173.7,96.7 171.7,104.4 169.7,112.2 167.6,119.9 165.4,127.6 163.4,135.3 161.5,143.1 159.6,150.9 157.6,158.6 155.4,166.3 153.1,174 150.9,181.7 148.9,189.4 147,197.2 145,204.9 143.2,212.7 141.4,220.5 139.4,228.3 137.3,236 135.1,243.7 132.9,251.4 130.7,259.1 128.3,266.7 125.8,274.3 123.1,281.8 120.6,289.4 117.9,297 115.5,304.6 113,312.2 110.6,319.8 108.2,327.5 106.1,335.2 103.8,342.8 101.6,350.5 99.4,358.2 97.3,365.9 95.4,373.7 93.6,381.5 91.7,389.3 89.8,397 87.8,404.8 85.8,412.5" stroke="#848484" stroke-width="5.34" fill="none" opacity="0.2" stroke-linejoin="round"/>
<path d="M181.8,65.7 179.9,73.5 177.8,81.2 175.8,89 173.7,96.7 171.7,104.4 169.7,112.2 167.6,119.9 165.4,127.6 163.4,135.3 161.5,143.1 159.6,150.9 157.6,158.6 155.4,166.3 153.1,174 150.9,181.7 148.9,189.4 147,197.2 145,204.9 143.2,212.7 141.4,220.5 139.4,228.3 137.3,236 135.1,243.7 132.9,251.4 130.7,259.1 128.3,266.7 125.8,274.3 123.1,281.8 120.6,289.4 117.9,297 115.5,304.6 113,312.2 110.6,319.8 108.2,327.5 106.1,335.2 103.8,342.8 101.6,350.5 99.4,358.2 97.3,365.9 95.4,373.7 93.6,381.5 91.7,389.3 89.8,397 87.8,404.8 85.8,412.5" stroke="#f0f0f0" stroke-width="2.05" fill="none" stroke-linejoin="round" stroke-linecap="round"/>
<path d="M256.7,70.7 254.7,78.4 252.6,86.1 250.3,93.8 248.2,101.5 245.9,109.2 243.6,116.9 241.3,124.5 239,132.2 236.8,139.9 234.8,147.6 232.8,155.4 230.9,163.2 228.7,170.8 226.8,178.6 224.9,186.4 222.9,194.1 220.7,201.8 218.6,209.5 216.4,217.2 214.2,224.9 212.3,232.7 210.3,240.4 208.3,248.2 206.1,255.9 203.8,263.5 201.8,271.3 199.9,279 197.9,286.8 195.9,294.5 194.2,302.4 192.5,310.2 190.8,318 189.1,325.8 187.8,333.7 186.4,341.6 185,349.5 183.6,357.3 182,365.2 180.5,373 179,380.9 177.4,388.7 175.7,396.6 174.2,404.4 172.8,412.3" stroke="#777777" stroke-width="5.86" fill="none" opacity="0.2" stroke-linejoin="round"/>
<path d="M256.7,70.7 254.7,78.4 252.6,86.1 250.3,93.8 248.2,101.5 245.9,109.2 243.6,116.9 241.3,124.5 239,132.2 236.8,139.9 234.8,147.6 232.8,155.4 230.9,163.2 228.7,170.8 226.8,178.6 224.9,186.4 222.9,194.1 220.7,201.8 218.6,209.5 216.4,217.2 214.2,224.9 212.3,232.7 210.3,240.4 208.3,248.2 206.1,255.9 203.8,263.5 201.8,271.3 199.9,279 197.9,286.8 195.9,294.5 194.2,302.4 192.5,310.2 190.8,318 189.1,325.8 187.8,333.7 186.4,341.6 185,349.5 183.6,357.3 182,365.2 180.5,373 179,380.9 177.4,388.7 175.7,396.6 174.2,404.4 172.8,412.3" stroke="#d9d9d9" stroke-width="2.25" fill="none" stroke-linejoin="round" stroke-linecap="round"/>
<path d="M3,194.1 C8.7,199.2 23.4,213.4 37,224.7 C50.6,236 70.5,247.4 84.7,262.1 C98.8,276.9 111.6,297.6 122.1,313.2 C132.6,328.8 139.1,342.7 147.6,355.7 C156.1,368.7 168.9,385.5 173.1,391.4" stroke="#7f7f7f" stroke-width="12" fill="none" opacity="0.25"/>
<path d="M3,194.1 C8.7,199.2 23.4,213.4 37,224.7 C50.6,236 70.5,247.4 84.7,262.1 C98.8,276.9 111.6,297.6 122.1,313.2 C132.6,328.8 139.1,342.7 147.6,355.7 C156.1,368.7 168.9,385.5 173.1,391.4" stroke="#ffffff" stroke-width="5" fill="none" stroke-linecap="round"/>
<path d="M13.2,88.6 C20,96.3 39.9,119.2 54,134.5 C68.2,149.8 83.2,164.3 98.3,180.5 C113.3,196.6 128.9,212.8 144.2,231.5 C159.5,250.2 176.8,273.5 190.1,292.7 C203.5,312 215.7,330.7 224.2,347.2 C232.7,363.6 238.3,384 241.2,391.4" stroke="#7d7d7d" stroke-width="7.2" fill="none" opacity="0.25"/>
<path d="M13.2,88.6 C20,96.3 39.9,119.2 54,134.5 C68.2,149.8 83.2,164.3 98.3,180.5 C113.3,196.6 128.9,212.8 144.2,231.5 C159.5,250.2 176.8,273.5 190.1,292.7 C203.5,312 215.7,330.7 224.2,347.2 C232.7,363.6 238.3,384 241.2,391.4" stroke="#fafafa" stroke-width="3" fill="none" stroke-linecap="round"/>
<path d="M125.5,88.6 C130.6,94.8 148.2,113.3 156.1,126 C164.1,138.8 164.6,151 173.1,165.2 C181.6,179.3 193,194.9 207.2,211.1 C221.3,227.3 242.3,245.7 258.2,262.1 C274.1,278.6 295,301.8 302.4,309.8" stroke="#7f7f7f" stroke-width="9.1" fill="none" opacity="0.25"/>
<path d="M125.5,88.6 C130.6,94.8 148.2,113.3 156.1,126 C164.1,138.8 164.6,151 173.1,165.2 C181.6,179.3 193,194.9 207.2,211.1 C221.3,227.3 242.3,245.7 258.2,262.1 C274.1,278.6 295,301.8 302.4,309.8" stroke="#ffffff" stroke-width="3.8" fill="none" stroke-linecap="round"/>
<path d="M190.1,88.6 C198.6,92.6 222.5,102.2 241.2,112.4 C259.9,122.6 292.2,143.6 302.4,149.8" stroke="#7a7a7a" stroke-width="7.2" fill="none" opacity="0.25"/>
<path d="M190.1,88.6 C198.6,92.6 222.5,102.2 241.2,112.4 C259.9,122.6 292.2,143.6 302.4,149.8" stroke="#f5f5f5" stroke-width="3" fill="none" stroke-linecap="round"/>
<path d="M207.2,88.6 C215.7,92.6 242.3,105 258.2,112.4 C274.1,119.8 295,129.4 302.4,132.8" stroke="#757575" stroke-width="5.3" fill="none" opacity="0.25"/>
<path d="M207.2,88.6 C215.7,92.6 242.3,105 258.2,112.4 C274.1,119.8 295,129.4 302.4,132.8" stroke="#ebebeb" stroke-width="2.2" fill="none" stroke-linecap="round"/>
<path d="M28.5,88.6 C27.1,100.5 22.6,136.8 20,160.1 C17.5,183.3 15.5,205.4 13.2,228.1 C10.9,250.8 8.4,278.6 6.4,296.2 C4.4,313.7 2.1,327.3 1.3,333.6" stroke="#7a7a7a" stroke-width="6.2" fill="none" opacity="0.25"/>
<path d="M28.5,88.6 C27.1,100.5 22.6,136.8 20,160.1 C17.5,183.3 15.5,205.4 13.2,228.1 C10.9,250.8 8.4,278.6 6.4,296.2 C4.4,313.7 2.1,327.3 1.3,333.6" stroke="#f5f5f5" stroke-width="2.6" fill="none" stroke-linecap="round"/>
<path d="M62.5,88.6 C61.7,97.7 60,122.6 57.4,143 C54.9,163.5 50.6,191.2 47.2,211.1 C43.8,230.9 41,242.3 37,262.1 C33.1,282 26.8,308.6 23.4,330.2 C20,351.7 17.7,381.2 16.6,391.4" stroke="#787878" stroke-width="5.3" fill="none" opacity="0.25"/>
<path d="M62.5,88.6 C61.7,97.7 60,122.6 57.4,143 C54.9,163.5 50.6,191.2 47.2,211.1 C43.8,230.9 41,242.3 37,262.1 C33.1,282 26.8,308.6 23.4,330.2 C20,351.7 17.7,381.2 16.6,391.4" stroke="#f0f0f0" stroke-width="2.2" fill="none" stroke-linecap="round"/>
<path d="M1.3,279.1 C10.1,283.4 33.9,293.9 54,304.7 C74.2,315.4 105.1,329.3 122.1,343.8 C139.1,358.2 150.4,383.5 156.1,391.4" stroke="#7d7d7d" stroke-width="7.2" fill="none" opacity="0.25"/>
<path d="M1.3,279.1 C10.1,283.4 33.9,293.9 54,304.7 C74.2,315.4 105.1,329.3 122.1,343.8 C139.1,358.2 150.4,383.5 156.1,391.4" stroke="#fafafa" stroke-width="3" fill="none" stroke-linecap="round"/>
<path d="M88.1,88.6 C88.6,100.5 89.8,134 91.5,160.1 C93.2,186.1 96,219.6 98.3,245.1 C100.5,270.6 102.5,288.8 105.1,313.2 C107.6,337.5 112.2,378.4 113.6,391.4" stroke="#757575" stroke-width="5.3" fill="none" opacity="0.25"/>
<path d="M88.1,88.6 C88.6,100.5 89.8,134 91.5,160.1 C93.2,186.1 96,219.6 98.3,245.1 C100.5,270.6 102.5,288.8 105.1,313.2 C107.6,337.5 112.2,378.4 113.6,391.4" stroke="#ebebeb" stroke-width="2.2" fill="none" stroke-linecap="round"/>
<path d="M181.6,202.6 C183,212.5 187.3,240.9 190.1,262.1 C193,283.4 196.4,308.6 198.6,330.2 C200.9,351.7 202.9,381.2 203.7,391.4" stroke="#737373" stroke-width="4.8" fill="none" opacity="0.25"/>
<path d="M181.6,202.6 C183,212.5 187.3,240.9 190.1,262.1 C193,283.4 196.4,308.6 198.6,330.2 C200.9,351.7 202.9,381.2 203.7,391.4" stroke="#e6e6e6" stroke-width="2" fill="none" stroke-linecap="round"/>
<path d="M220.8,287.6 C227,290.5 244.6,298.1 258.2,304.7 C271.8,311.2 295,323.1 302.4,326.8" stroke="#787878" stroke-width="5.3" fill="none" opacity="0.25"/>
<path d="M220.8,287.6 C227,290.5 244.6,298.1 258.2,304.7 C271.8,311.2 295,323.1 302.4,326.8" stroke="#f0f0f0" stroke-width="2.2" fill="none" stroke-linecap="round"/>
<path d="M302.4,262.1 C296.5,268.4 276.1,287.6 266.7,299.6 C257.3,311.5 251.1,318.3 246.3,333.6 C241.5,348.9 239.2,381.8 237.8,391.4" stroke="#6e6e6e" stroke-width="3.8" fill="none" opacity="0.25"/>
<path d="M302.4,262.1 C296.5,268.4 276.1,287.6 266.7,299.6 C257.3,311.5 251.1,318.3 246.3,333.6 C241.5,348.9 239.2,381.8 237.8,391.4" stroke="#dcdcdc" stroke-width="1.6" fill="none" stroke-linecap="round"/>
<path d="M1.3,143 C10.1,153 36.7,182.7 54,202.6 C71.3,222.4 88.1,243.7 105.1,262.1 C122.1,280.6 140.5,291.6 156.1,313.2 C171.7,334.7 191.6,378.4 198.6,391.4" stroke="#7a7a7a" stroke-width="6.2" fill="none" opacity="0.25"/>
<path d="M1.3,143 C10.1,153 36.7,182.7 54,202.6 C71.3,222.4 88.1,243.7 105.1,262.1 C122.1,280.6 140.5,291.6 156.1,313.2 C171.7,334.7 191.6,378.4 198.6,391.4" stroke="#f5f5f5" stroke-width="2.6" fill="none" stroke-linecap="round"/>
<path d="M1.3,90.3 C5.8,93.4 16.9,97.4 28.5,109 C40.1,120.6 55.5,143 71.1,160.1 C86.6,177.1 105.1,194.1 122.1,211.1 C139.1,228.1 156.1,245.1 173.1,262.1 C190.1,279.1 207.2,294.7 224.2,313.2 C241.2,331.6 263.9,359.7 275.2,372.7 C286.5,385.8 289.4,388.3 292.2,391.4" stroke="#757575" stroke-width="4.8" fill="none" opacity="0.25"/>
<path d="M1.3,90.3 C5.8,93.4 16.9,97.4 28.5,109 C40.1,120.6 55.5,143 71.1,160.1 C86.6,177.1 105.1,194.1 122.1,211.1 C139.1,228.1 156.1,245.1 173.1,262.1 C190.1,279.1 207.2,294.7 224.2,313.2 C241.2,331.6 263.9,359.7 275.2,372.7 C286.5,385.8 289.4,388.3 292.2,391.4" stroke="#ebebeb" stroke-width="2" fill="none" stroke-linecap="round"/>
<path d="M156.1,88.6 C160.4,94.8 170.3,111.3 181.6,126 C193,140.8 204,157.2 224.2,177.1 C244.3,196.9 289.4,233.8 302.4,245.1" stroke="#787878" stroke-width="5.3" fill="none" opacity="0.25"/>
<path d="M156.1,88.6 C160.4,94.8 170.3,111.3 181.6,126 C193,140.8 204,157.2 224.2,177.1 C244.3,196.9 289.4,233.8 302.4,245.1" stroke="#f0f0f0" stroke-width="2.2" fill="none" stroke-linecap="round"/>
<path d="M45.5,88.6 C50.4,97.7 65.7,124 74.5,143 C83.2,162 88.6,182.7 98.3,202.6 C107.9,222.4 119.8,240.9 132.3,262.1 C144.8,283.4 162.1,308.6 173.1,330.2 C184.2,351.7 194.4,381.2 198.6,391.4" stroke="#7a7a7a" stroke-width="5.8" fill="none" opacity="0.25"/>
<path d="M45.5,88.6 C50.4,97.7 65.7,124 74.5,143 C83.2,162 88.6,182.7 98.3,202.6 C107.9,222.4 119.8,240.9 132.3,262.1 C144.8,283.4 162.1,308.6 173.1,330.2 C184.2,351.7 194.4,381.2 198.6,391.4" stroke="#f5f5f5" stroke-width="2.4" fill="none" stroke-linecap="round"/>
<path d="M224.2,88.6 C227,97.7 233.8,122.6 241.2,143 C248.5,163.5 258.2,191.2 268.4,211.1 C278.6,230.9 296.8,253.6 302.4,262.1" stroke="#757575" stroke-width="4.8" fill="none" opacity="0.25"/>
<path d="M224.2,88.6 C227,97.7 233.8,122.6 241.2,143 C248.5,163.5 258.2,191.2 268.4,211.1 C278.6,230.9 296.8,253.6 302.4,262.1" stroke="#ebebeb" stroke-width="2" fill="none" stroke-linecap="round"/>
<path d="M3,245.1 C8.7,252.2 25.1,272 37,287.6 C48.9,303.2 64.2,321.4 74.5,338.7 C84.7,356 94.3,382.6 98.3,391.4" stroke="#737373" stroke-width="4.8" fill="none" opacity="0.25"/>
<path d="M3,245.1 C8.7,252.2 25.1,272 37,287.6 C48.9,303.2 64.2,321.4 74.5,338.7 C84.7,356 94.3,382.6 98.3,391.4" stroke="#e6e6e6" stroke-width="2" fill="none" stroke-linecap="round"/>
</g></g>
<defs><clipPath id="cp2"><rect x="308" y="92" width="296" height="296"/></clipPath><filter id="fp2" filterUnits="userSpaceOnUse" x="303" y="87" width="306" height="306"><feGaussianBlur stdDeviation="0.7"/></filter></defs>
<g clip-path="url(#cp2)"><rect x="308" y="92" width="296" height="296" fill="#000"/>
<filter id="spk2" filterUnits="userSpaceOnUse" x="308" y="92" width="296" height="296"><feTurbulence type="fractalNoise" baseFrequency="0.3" numOctaves="2" seed="3"/><feColorMatrix type="matrix" values="3 0 0 0 -2.05 3 0 0 0 -2.05 3 0 0 0 -2.05 0 0 0 0 1"/><feGaussianBlur stdDeviation="0.6"/></filter>
<rect x="308" y="92" width="296" height="296" filter="url(#spk2)" opacity="0.35" style="mix-blend-mode:screen"/>
<g filter="url(#fp2)">
<path d="M166,276.4 168.5,268.8 172.7,262" stroke="#adadad" stroke-width="1.51" fill="none" stroke-linejoin="round" stroke-linecap="round"/>
<path d="M194.1,207.4 198,200.4 202.6,193.9" stroke="#808080" stroke-width="1.31" fill="none" stroke-linejoin="round" stroke-linecap="round"/>
<path d="M214.5,166.6 217.6,159.3 220.4,151.7" stroke="#919191" stroke-width="1.28" fill="none" stroke-linejoin="round" stroke-linecap="round"/>
<path d="M230.7,292.3 234.8,285.4 239.5,278.9" stroke="#919191" stroke-width="1" fill="none" stroke-linejoin="round" stroke-linecap="round"/>
<path d="M269.7,164.2 273.6,157.2 276.5,149.7" stroke="#bbbbbb" stroke-width="1.17" fill="none" stroke-linejoin="round" stroke-linecap="round"/>
<path d="M274,256.9 277.9,249.9 281.1,242.6" stroke="#989898" stroke-width="1.32" fill="none" stroke-linejoin="round" stroke-linecap="round"/>
<path d="M285.9,324.2 292,319.1 297.8,313.5 303.3,307.7 308.1,301.3 312.6,294.7 317.6,288.4 322.6,282.2 326.7,275.4 330.9,268.6 334.8,261.6 338.3,254.4 341.9,247.2 344.9,239.8 347.8,232.3 351.5,225.3 355.4,218.3 359.3,211.3 362.4,203.9 365.9,196.7 369.2,189.4 372.7,182.2 376.3,175.1 379.4,167.7 382.6,160.4 385.4,152.9 388.6,145.6 391.9,138.3 395.1,130.9 399,124 402.6,116.8 405.2,109.2 407.6,101.6 410.3,94.1 413.5,86.7 416.6,79.4 420.1,72.2 423.3,64.8" stroke="#a6a6a6" stroke-width="1.35" fill="none" stroke-linejoin="round" stroke-linecap="round"/>
<path d="M287.4,244.5 293.2,238.9 298.6,233 304.8,228 310.8,222.7 316.4,217 321.6,210.9 326.5,204.6 331.3,198.2 335.7,191.5 339.8,184.6 344.1,177.9 348.6,171.3 353.1,164.6 356.6,157.4 360.2,150.3 364.1,143.4 368.1,136.4 371.1,129 374.5,121.8 378.4,114.8 382.4,107.8 386.6,101 390.7,94.1 394.4,87 398.4,80.1 402.2,73.1 406.1,66.1" stroke="#7f7f7f" stroke-width="1.27" fill="none" stroke-linejoin="round" stroke-linecap="round"/>
<path d="M295.8,411.4 299.6,404.4 303.1,397.2 307.2,390.4 311.6,383.7 316.3,377.2 319.6,369.9 323.9,363.1 328.4,356.6 332.7,349.8 336.3,342.7 340,335.6 342.9,328.1 346.4,320.9 350,313.8 353.2,306.4 355.2,298.7 356.1,290.7 356.6,282.7 356.6,274.7 357,266.7 357.9,258.8 358.5,250.8 359.4,242.9 360,234.9 360.6,226.9 361.7,219 362.6,211 363.6,203.1 364.8,195.2 366.6,187.4 368,179.5 369.6,171.7 369.4,163.7 370.1,155.7 370.5,147.7 369.9,139.7 369.8,131.7 370.5,123.8 372.3,116 374.6,108.3 376.7,100.6 379.1,93 382.1,85.5 385,78.1 387.9,70.6" stroke="#bababa" stroke-width="1.41" fill="none" stroke-linejoin="round" stroke-linecap="round"/>
<path d="M316.9,412.9 321.1,406.1 325.2,399.2 329.2,392.3 332.9,385.2 337.1,378.4 341.4,371.6 346.1,365.1 349.9,358.1 354.4,351.5 358.4,344.5 361.3,337.1 363.7,329.5 366.3,321.9 369,314.4 371.6,306.8 375.2,299.7 378.7,292.5 382.6,285.5 386,278.2 388.6,270.7 391.2,263.1 393.6,255.5 396.6,248 399.2,240.5 401.8,232.9 404.3,225.3 406.3,217.6 408.3,209.8 409.4,201.9 410.9,194 412.8,186.3 414.7,178.5 417.5,171 419.9,163.4 422.6,155.9 425.6,148.4 428.3,140.9 430.8,133.3 433.9,125.9 437,118.6 440.3,111.3 444.3,104.3 448.3,97.4 451.3,90 453.8,82.4 456.9,75 459.8,67.6" stroke="#989898" stroke-width="1.01" fill="none" stroke-linejoin="round" stroke-linecap="round"/>
<path d="M323,414.1 327.8,407.7 332.6,401.3 337.7,395.2 342.6,388.8 347.2,382.3 351.8,375.7 357,369.6 361.9,363.3 367.3,357.4 372.7,351.5 378.4,345.9 383.9,340.1 389.1,334 393.6,327.4 398.1,320.8 403,314.4 406.6,307.3 409.9,300 413.6,292.9 417.7,286 421.4,279 425.3,272 428.4,264.6 431.2,257.1 433.1,249.3 434.8,241.5 437.4,233.9 440.1,226.4 442.8,218.9 445.7,211.4 448.6,204 451.6,196.6 453.9,188.9 456.4,181.3 458.4,173.6 460.7,165.9 463.2,158.3 465.8,150.7 467.9,143 471.1,135.7 473.9,128.2 476.7,120.7 479.3,113.1 481.7,105.5 483.4,97.7 485.4,89.9 488.2,82.4 490.8,74.9 492.3,67" stroke="#b6b6b6" stroke-width="0.97" fill="none" stroke-linejoin="round" stroke-linecap="round"/>
<path d="M336.9,412.3 340.5,405.2 344.9,398.5 349.2,391.8 353.9,385.3 358.7,378.9 362.9,372.1 367.6,365.6 372.5,359.3 377.2,352.8 381.8,346.3 386.6,339.9 391.3,333.4 395.5,326.6 399.9,319.9 404,313 407.6,305.9 411.4,298.8 415,291.7 419.1,284.8 422.8,277.7 425.3,270.2 428,262.6 431.4,255.4 434,247.8 436.4,240.1 437.7,232.3 438.8,224.3 440.7,216.6 442.5,208.8 443.7,200.9 446.2,193.3 448.3,185.6 451.5,178.2 454.3,170.7 456.3,163 459.6,155.6 462.5,148.2 466,141 470.1,134.1 473.4,126.9 476.8,119.6 479.8,112.2 483.2,104.9 486.6,97.7 489.2,90.2 492,82.6 495.2,75.3 498.3,67.9" stroke="#9c9c9c" stroke-width="1.3" fill="none" stroke-linejoin="round" stroke-linecap="round"/>
<path d="M392.5,414.2 393.2,406.2 392.9,398.2 393.1,390.2 393.4,382.3 393.4,374.3 394.1,366.3 395.5,358.4 396.3,350.4 397.9,342.6 400.1,334.9 401.9,327.1 404.9,319.7 407.9,312.3 410.3,304.7 413,297.1 414.7,289.3 416.2,281.5 417,273.5 418.5,265.6 419.9,257.8 422.4,250.2 424.7,242.5 426.5,234.7 429.2,227.2 431.1,219.4 432.8,211.6 434.8,203.8 436.4,196 439,188.4 441.9,181 444.9,173.6 447.7,166.1 450.8,158.7 454.6,151.7 458.4,144.6 463.5,138.4 467.8,131.7 472.6,125.3 477.8,119.2 482.2,112.5 486.8,106 490.3,98.8 494.5,92 498.7,85.2 502.8,78.3 506.7,71.4" stroke="#7e7e7e" stroke-width="0.85" fill="none" stroke-linejoin="round" stroke-linecap="round"/>
<path d="M413.8,413.2 415.7,405.4 417.5,397.6 419.2,389.8 420.8,381.9 422.7,374.2 424.7,366.4 426.2,358.6 427.2,350.6 428,342.7 428.9,334.7 429.6,326.7 430.9,318.9 432.4,311 433.8,303.1 434.5,295.1 435.7,287.2 437.7,279.5 439,271.6 440.2,263.7 442.6,256.1 444.5,248.3 446,240.4 447.7,232.6 449.6,224.8 452.1,217.3 454.5,209.6 457,202 459.4,194.4 461.7,186.7 463.7,179 465.4,171.1 467.3,163.4 469.9,155.8 472.2,148.2 475,140.6 477.9,133.2 480.9,125.8 484.2,118.5 487.2,111.1 490.5,103.8 493.9,96.6 495.2,88.7 496.9,80.9 499,73.1 502.3,65.8" stroke="#d1d1d1" stroke-width="1.38" fill="none" stroke-linejoin="round" stroke-linecap="round"/>
<path d="M418.7,409.5 423.7,403.2 428.5,396.9 433.5,390.6 437.9,383.9 441,376.6 443.8,369 446.6,361.5 449.4,354.1 452.9,346.9 456.4,339.7 459.7,332.4 462.6,324.9 465.1,317.3 467.6,309.7 469.8,302 472,294.3 475,286.9 477.6,279.4 480.2,271.8 482,264 484.3,256.3 485.3,248.4 486.5,240.5 488.1,232.6 489.8,224.8 491.4,217 493,209.1 494,201.2 495.6,193.4 496.1,185.4 497,177.4 496.2,169.5 496.9,161.5 498.7,153.7 499.8,145.8 501.5,138 503.3,130.2 506.5,122.9 510.4,115.9 514.3,108.9 518.2,101.9 522.5,95.2 526.2,88 530.3,81.2 534.6,74.4 538.2,67.3" stroke="#9b9b9b" stroke-width="1.45" fill="none" stroke-linejoin="round" stroke-linecap="round"/>
<path d="M419.8,413.5 425.1,407.5 430,401.2 434.9,394.9 439.4,388.3 445.2,382.8 450.3,376.6 454.2,369.6 457.2,362.2 460.7,355 463,347.3 464.7,339.5 466.7,331.8 470.2,324.6 473.4,317.3 477.1,310.2 480.8,303 483.7,295.6 486.1,288 488.8,280.5 491.3,272.8 493.4,265.1 495.8,257.5 498.3,249.9 501.6,242.6 504.9,235.3 508.7,228.3 512.5,221.2 516.1,214.1 519.1,206.7 521.8,199.1 524.4,191.6 527.9,184.4 531.9,177.4 535.6,170.4 539.5,163.4 543.8,156.7 548.4,150.1 552.8,143.4 556.7,136.4 560.2,129.2 563.4,121.9 566.3,114.4 568.2,106.7 569.4,98.8 571.3,91 572.6,83.1 573.2,75.1 574,67.2" stroke="#c9c9c9" stroke-width="1.02" fill="none" stroke-linejoin="round" stroke-linecap="round"/>
<path d="M468.2,413.1 472.4,406.3 476.7,399.5 480,392.3 482.7,384.7 484.9,377 487.7,369.5 491.7,362.6 495.4,355.5 499.9,348.9 504.2,342.2 507.8,335 511.6,328 516.1,321.4 519.9,314.3 523.6,307.2 526.9,299.9 530.4,292.7 534.7,286 539.6,279.6 544.3,273.2 549.1,266.8 553.7,260.2 558.8,254.1 563.8,247.8 568.7,241.5 574.5,236 579.5,229.8 583.4,222.8 587.8,216.1 591.2,208.9 592.8,201 594.3,193.2 597.3,185.7 600.7,178.5 604.1,171.3 607.1,163.8 610.4,156.5 613.1,149 614.7,141.2 616.2,133.3 618.1,125.5 620.6,117.9 623.1,110.3 625.5,102.7" stroke="#a0a0a0" stroke-width="1.35" fill="none" stroke-linejoin="round" stroke-linecap="round"/>
<path d="M502.9,413.9 506,406.5 510,399.6 513.2,392.3 517.3,385.4 521.1,378.3 524.6,371.1 528.9,364.4 532.5,357.2 535.8,350 538.6,342.5 541,334.8 543.4,327.2 546.1,319.7 548.5,312 551.2,304.5 555.1,297.5 559.7,291 563,283.7 567.8,277.3 573.2,271.4 578.7,265.6 584.7,260.3 591,255.4 596.7,249.7 602.5,244.2 608.8,239.3 614.8,234.1 620.8,228.7 626.4,223" stroke="#8d8d8d" stroke-width="1.19" fill="none" stroke-linejoin="round" stroke-linecap="round"/>
<path d="M472,408.9 474.1,401.2 475.8,393.4 477.6,385.6 479.9,377.9 482.5,370.4 485.3,362.9 488.2,355.4 490.7,347.8 492.8,340.1 495.7,332.6 499.1,325.4 502.4,318.1 506.1,311 510.4,304.2 514.5,297.4 519.1,290.9 523.4,284.1 528.2,277.7 533.9,272.1 540.1,267 545,260.7 549.4,254 554.4,247.7 559.8,241.9 564.7,235.5 568.6,228.6 572.6,221.6 577,215 580.9,208 584.2,200.7 586.7,193.1 589.8,185.7 592.1,178 593.1,170.1 594.6,162.2 595.5,154.3 597.2,146.5 598.4,138.6 599.4,130.6 601.1,122.8 603.2,115.1 605.2,107.3 607.9,99.8 611.1,92.5 614.1,85.1 616.9,77.6 618.7,69.8" stroke="#b6b6b6" stroke-width="1.28" fill="none" stroke-linejoin="round" stroke-linecap="round"/>
<path d="M516.7,414.6 520,407.3 523.7,400.2 525.7,392.4 528.4,384.9 531.5,377.5 534.4,370.1 538,362.9 541.4,355.7 545.5,348.8 549.5,341.9 552.7,334.6 556.9,327.8 560,320.4 563.5,313.2 567.4,306.2 570.7,298.9 574.7,292 578.4,284.9 581.7,277.6 584.3,270 585.6,262.1 587.3,254.3 589.5,246.6 592.8,239.4 595.7,231.9 598.2,224.3 601.8,217.1 605.3,209.9 609.1,202.9 612.2,195.5 614.6,187.9 615,179.9 616.3,172 617.9,164.2 619,156.3 620.7,148.5 622.9,140.8 626.9,133.9" stroke="#c8c8c8" stroke-width="0.91" fill="none" stroke-linejoin="round" stroke-linecap="round"/>
<path d="M541.8,409 544.3,401.4 546.8,393.8 549.5,386.2 552.1,378.6 554.9,371.1 558.1,363.8 561.1,356.4 564.1,349 567.3,341.7 569.8,334.1 572.6,326.6 575.4,319.1 578,311.5 581.7,304.4 584.4,296.9 586.9,289.3 589.4,281.7 592.1,274.2 594.6,266.6 598,259.3 600.9,251.9 604.3,244.6 607.5,237.3 611.5,230.3 615.9,223.7 620.2,216.9 624.7,210.3" stroke="#9b9b9b" stroke-width="0.91" fill="none" stroke-linejoin="round" stroke-linecap="round"/>
<path d="M641.9,296.7 644.8,289.3 647.6,281.8" stroke="#9d9d9d" stroke-width="1" fill="none" stroke-linejoin="round" stroke-linecap="round"/>
<path d="M668.9,239.2 673.6,232.8 678.6,226.5" stroke="#818181" stroke-width="1.48" fill="none" stroke-linejoin="round" stroke-linecap="round"/>
<path d="M690.1,229.2 695.6,223.4 700,216.7" stroke="#c5c5c5" stroke-width="1.29" fill="none" stroke-linejoin="round" stroke-linecap="round"/>
<path d="M707.1,304 710,296.6 712.6,289" stroke="#b8b8b8" stroke-width="1.39" fill="none" stroke-linejoin="round" stroke-linecap="round"/>
<path d="M727.6,211.4 731.7,204.6 736.5,198.2" stroke="#b1b1b1" stroke-width="1.57" fill="none" stroke-linejoin="round" stroke-linecap="round"/>
<path d="M159.9,204.7 163.3,197.5 166.3,190.1" stroke="#878787" stroke-width="8.38" fill="none" opacity="0.12" stroke-linejoin="round"/>
<path d="M159.9,204.7 163.3,197.5 166.3,190.1" stroke="#f7f7f7" stroke-width="3.22" fill="none" stroke-linejoin="round" stroke-linecap="round"/>
<path d="M235.5,326.1 239.8,319.3 243.8,312.4" stroke="#7f7f7f" stroke-width="10.75" fill="none" opacity="0.12" stroke-linejoin="round"/>
<path d="M235.5,326.1 239.8,319.3 243.8,312.4" stroke="#e8e8e8" stroke-width="4.14" fill="none" stroke-linejoin="round" stroke-linecap="round"/>
<path d="M272.1,204.1 275.8,197.1 279.2,189.8" stroke="#7e7e7e" stroke-width="9.71" fill="none" opacity="0.12" stroke-linejoin="round"/>
<path d="M272.1,204.1 275.8,197.1 279.2,189.8" stroke="#e6e6e6" stroke-width="3.74" fill="none" stroke-linejoin="round" stroke-linecap="round"/>
<path d="M287.6,195.6 291.3,188.5 294.9,181.3 298.4,174.1 302,167 305.9,160 309.4,152.8 313.1,145.7 316.6,138.5 320.1,131.3 323.7,124.2 326.9,116.8 330.4,109.7 334,102.5 337.6,95.4 341.2,88.2 344.2,80.8 346.8,73.2 349.3,65.6" stroke="#777777" stroke-width="12.15" fill="none" opacity="0.12" stroke-linejoin="round"/>
<path d="M287.6,195.6 291.3,188.5 294.9,181.3 298.4,174.1 302,167 305.9,160 309.4,152.8 313.1,145.7 316.6,138.5 320.1,131.3 323.7,124.2 326.9,116.8 330.4,109.7 334,102.5 337.6,95.4 341.2,88.2 344.2,80.8 346.8,73.2 349.3,65.6" stroke="#d9d9d9" stroke-width="4.67" fill="none" stroke-linejoin="round" stroke-linecap="round"/>
<path d="M285.2,326.9 289,319.9 292.9,312.9 296.3,305.6 299.8,298.4 303.3,291.3 306.7,284 310.4,276.9 313.8,269.6 317.7,262.7 321.1,255.5 324.6,248.3 328,241 331.2,233.7 334.5,226.4 337.8,219.1 341.1,211.8 344.7,204.7 348,197.4 351.4,190.2 355.1,183.1 358.3,175.7 361.4,168.4 364.5,161 367.6,153.6 370.6,146.2 373.4,138.7 376,131.1 379,123.7 381.9,116.2 385.4,109.1 389.1,102 392.7,94.8 395.9,87.5 399.6,80.4 403.3,73.3 406.6,66" stroke="#818181" stroke-width="10.97" fill="none" opacity="0.12" stroke-linejoin="round"/>
<path d="M285.2,326.9 289,319.9 292.9,312.9 296.3,305.6 299.8,298.4 303.3,291.3 306.7,284 310.4,276.9 313.8,269.6 317.7,262.7 321.1,255.5 324.6,248.3 328,241 331.2,233.7 334.5,226.4 337.8,219.1 341.1,211.8 344.7,204.7 348,197.4 351.4,190.2 355.1,183.1 358.3,175.7 361.4,168.4 364.5,161 367.6,153.6 370.6,146.2 373.4,138.7 376,131.1 379,123.7 381.9,116.2 385.4,109.1 389.1,102 392.7,94.8 395.9,87.5 399.6,80.4 403.3,73.3 406.6,66" stroke="#ebebeb" stroke-width="4.22" fill="none" stroke-linejoin="round" stroke-linecap="round"/>
<path d="M361.6,413.4 365.4,406.4 369.1,399.3 373.1,392.4 377.4,385.6 381.3,378.6 384.8,371.4 388.5,364.3 392.1,357.2 395.6,350 398.9,342.7 402.1,335.4 405.5,328.2 409.3,321.1 413,314 416.7,306.9 420,299.6 424.1,292.7 427.5,285.5 430.6,278.1 433.9,270.8 437.5,263.7 440.5,256.3 443.5,248.8 446.9,241.6 450.7,234.6 454.5,227.5 458.2,220.5 461.7,213.3 465.3,206.1 468.6,198.8 471.3,191.3 473.6,183.6 476,176 478.1,168.3 480.7,160.7 483.7,153.3 487.1,146.1 490.7,138.9 494.6,131.9 498.6,125 502.7,118.1 507,111.4 511.4,104.7 515.4,97.8 519.3,90.8 522.8,83.6 526.6,76.5 530.5,69.5" stroke="#858585" stroke-width="8.19" fill="none" opacity="0.12" stroke-linejoin="round"/>
<path d="M361.6,413.4 365.4,406.4 369.1,399.3 373.1,392.4 377.4,385.6 381.3,378.6 384.8,371.4 388.5,364.3 392.1,357.2 395.6,350 398.9,342.7 402.1,335.4 405.5,328.2 409.3,321.1 413,314 416.7,306.9 420,299.6 424.1,292.7 427.5,285.5 430.6,278.1 433.9,270.8 437.5,263.7 440.5,256.3 443.5,248.8 446.9,241.6 450.7,234.6 454.5,227.5 458.2,220.5 461.7,213.3 465.3,206.1 468.6,198.8 471.3,191.3 473.6,183.6 476,176 478.1,168.3 480.7,160.7 483.7,153.3 487.1,146.1 490.7,138.9 494.6,131.9 498.6,125 502.7,118.1 507,111.4 511.4,104.7 515.4,97.8 519.3,90.8 522.8,83.6 526.6,76.5 530.5,69.5" stroke="#f2f2f2" stroke-width="3.15" fill="none" stroke-linejoin="round" stroke-linecap="round"/>
<path d="M345.8,413.5 349.5,406.4 353.6,399.5 357.8,392.7 362.1,386 366.4,379.3 370.6,372.4 374.6,365.5 378.1,358.3 381.5,351.1 384.7,343.8 388.3,336.6 391.9,329.4 394.8,322 397.9,314.6 401.2,307.3 404.7,300.2 408.3,293 412.2,286 415.9,278.9 419.5,271.8 423.1,264.6 427,257.6 431,250.7 434.7,243.6 438.4,236.5 442.1,229.4 445.7,222.3 449.8,215.4 454.3,208.8 458.9,202.3 462.9,195.4 467.3,188.7 472,182.2 476.6,175.6 481.3,169.2 485.6,162.4 489.8,155.6 494.4,149 499.1,142.6 503.4,135.8 507.3,128.8 511.5,122.1 515.6,115.2 519.2,108 523.3,101.2 527.4,94.3 531.2,87.3 535.3,80.4 539.1,73.4 542.8,66.3" stroke="#7c7c7c" stroke-width="12.9" fill="none" opacity="0.12" stroke-linejoin="round"/>
<path d="M345.8,413.5 349.5,406.4 353.6,399.5 357.8,392.7 362.1,386 366.4,379.3 370.6,372.4 374.6,365.5 378.1,358.3 381.5,351.1 384.7,343.8 388.3,336.6 391.9,329.4 394.8,322 397.9,314.6 401.2,307.3 404.7,300.2 408.3,293 412.2,286 415.9,278.9 419.5,271.8 423.1,264.6 427,257.6 431,250.7 434.7,243.6 438.4,236.5 442.1,229.4 445.7,222.3 449.8,215.4 454.3,208.8 458.9,202.3 462.9,195.4 467.3,188.7 472,182.2 476.6,175.6 481.3,169.2 485.6,162.4 489.8,155.6 494.4,149 499.1,142.6 503.4,135.8 507.3,128.8 511.5,122.1 515.6,115.2 519.2,108 523.3,101.2 527.4,94.3 531.2,87.3 535.3,80.4 539.1,73.4 542.8,66.3" stroke="#e2e2e2" stroke-width="4.96" fill="none" stroke-linejoin="round" stroke-linecap="round"/>
<path d="M380.7,413.2 383.9,405.8 386.6,398.3 389.6,390.9 392.4,383.4 394.3,375.6 396.5,367.9 398.5,360.2 401,352.6 403.8,345.1 407,337.8 410.2,330.4 413.7,323.2 417.5,316.2 421.8,309.4 425.8,302.5 430,295.7 434.1,288.9 438,281.9 442,274.9 445.8,267.9 449.7,260.9 453.4,253.8 456.9,246.6 460.2,239.3 463.8,232.2 467,224.9 470.6,217.7 474.5,210.7 478.2,203.6 481.7,196.4 485,189.1 488.4,181.9 492.4,175 496.9,168.4 501.7,162 506.4,155.5 510.8,148.8 515.3,142.2 519.6,135.4 523.6,128.5 527.6,121.6 531.7,114.8 535.8,107.9 539.9,101 543.8,94 547.6,87 551.3,79.9 555.3,73 559.4,66" stroke="#7b7b7b" stroke-width="9.12" fill="none" opacity="0.12" stroke-linejoin="round"/>
<path d="M380.7,413.2 383.9,405.8 386.6,398.3 389.6,390.9 392.4,383.4 394.3,375.6 396.5,367.9 398.5,360.2 401,352.6 403.8,345.1 407,337.8 410.2,330.4 413.7,323.2 417.5,316.2 421.8,309.4 425.8,302.5 430,295.7 434.1,288.9 438,281.9 442,274.9 445.8,267.9 449.7,260.9 453.4,253.8 456.9,246.6 460.2,239.3 463.8,232.2 467,224.9 470.6,217.7 474.5,210.7 478.2,203.6 481.7,196.4 485,189.1 488.4,181.9 492.4,175 496.9,168.4 501.7,162 506.4,155.5 510.8,148.8 515.3,142.2 519.6,135.4 523.6,128.5 527.6,121.6 531.7,114.8 535.8,107.9 539.9,101 543.8,94 547.6,87 551.3,79.9 555.3,73 559.4,66" stroke="#e1e1e1" stroke-width="3.51" fill="none" stroke-linejoin="round" stroke-linecap="round"/>
<path d="M458,409.9 460.9,402.4 464.4,395.2 468.2,388.1 471.6,380.9 475.2,373.8 478.8,366.6 482.6,359.6 486.6,352.7 491.4,346.3 496.2,339.8 500.7,333.3 505.2,326.6 510,320.2 514.5,313.6 518.9,306.9 523.1,300.1 527.6,293.5 531.8,286.7 535.9,279.8 539.8,272.9 544.2,266.2 548.4,259.3 553,252.8 557.3,246.1 561.6,239.3 565.8,232.5 569.6,225.5 573.5,218.5 577.1,211.4 580.4,204.1 583.2,196.6 585.6,188.9 588.5,181.5 591.6,174.1 594.8,166.8 598,159.4 601.7,152.3 605.8,145.5 609.8,138.6 613.9,131.7 618.4,125.1 622.9,118.5 627.3,111.8" stroke="#858585" stroke-width="12.25" fill="none" opacity="0.12" stroke-linejoin="round"/>
<path d="M458,409.9 460.9,402.4 464.4,395.2 468.2,388.1 471.6,380.9 475.2,373.8 478.8,366.6 482.6,359.6 486.6,352.7 491.4,346.3 496.2,339.8 500.7,333.3 505.2,326.6 510,320.2 514.5,313.6 518.9,306.9 523.1,300.1 527.6,293.5 531.8,286.7 535.9,279.8 539.8,272.9 544.2,266.2 548.4,259.3 553,252.8 557.3,246.1 561.6,239.3 565.8,232.5 569.6,225.5 573.5,218.5 577.1,211.4 580.4,204.1 583.2,196.6 585.6,188.9 588.5,181.5 591.6,174.1 594.8,166.8 598,159.4 601.7,152.3 605.8,145.5 609.8,138.6 613.9,131.7 618.4,125.1 622.9,118.5 627.3,111.8" stroke="#f2f2f2" stroke-width="4.71" fill="none" stroke-linejoin="round" stroke-linecap="round"/>
<path d="M519.1,413.5 522.4,406.2 525.1,398.7 527.6,391.1 530.5,383.6 533.5,376.2 536.5,368.8 539.8,361.5 542.8,354.1 545.7,346.6 548.7,339.2 551,331.6 553,323.8 555.1,316.1 557.5,308.4 559.6,300.7 562.5,293.3 565.1,285.7 568.1,278.3 571.3,271 574.5,263.6 578,256.4 581.5,249.2 584.7,241.9 587.9,234.6 591.5,227.4 595.1,220.3 598.9,213.3 602.7,206.2 606.9,199.4 611.2,192.6 615.5,185.9 619.7,179.1 623.9,172.3 628.1,165.5" stroke="#767676" stroke-width="12" fill="none" opacity="0.12" stroke-linejoin="round"/>
<path d="M519.1,413.5 522.4,406.2 525.1,398.7 527.6,391.1 530.5,383.6 533.5,376.2 536.5,368.8 539.8,361.5 542.8,354.1 545.7,346.6 548.7,339.2 551,331.6 553,323.8 555.1,316.1 557.5,308.4 559.6,300.7 562.5,293.3 565.1,285.7 568.1,278.3 571.3,271 574.5,263.6 578,256.4 581.5,249.2 584.7,241.9 587.9,234.6 591.5,227.4 595.1,220.3 598.9,213.3 602.7,206.2 606.9,199.4 611.2,192.6 615.5,185.9 619.7,179.1 623.9,172.3 628.1,165.5" stroke="#d7d7d7" stroke-width="4.62" fill="none" stroke-linejoin="round" stroke-linecap="round"/>
<path d="M533.9,411.3 537.1,404 540.2,396.6 543.6,389.3 547,382.1 550.5,374.9 554.3,367.9 558.2,360.9 561.8,353.7 565.4,346.6 569.4,339.7 573.4,332.8 577.7,326 582.1,319.3 586.1,312.4 589.9,305.4 593.7,298.3 597.3,291.2 600.4,283.8 603.8,276.6 607.3,269.4 610.6,262.1 613.5,254.6 616.3,247.1 620.1,240.1 624.1,233.2" stroke="#848484" stroke-width="8.21" fill="none" opacity="0.12" stroke-linejoin="round"/>
<path d="M533.9,411.3 537.1,404 540.2,396.6 543.6,389.3 547,382.1 550.5,374.9 554.3,367.9 558.2,360.9 561.8,353.7 565.4,346.6 569.4,339.7 573.4,332.8 577.7,326 582.1,319.3 586.1,312.4 589.9,305.4 593.7,298.3 597.3,291.2 600.4,283.8 603.8,276.6 607.3,269.4 610.6,262.1 613.5,254.6 616.3,247.1 620.1,240.1 624.1,233.2" stroke="#f1f1f1" stroke-width="3.16" fill="none" stroke-linejoin="round" stroke-linecap="round"/>
<path d="M627.3,194.7 631.2,187.7 636,181.3" stroke="#888888" stroke-width="12.37" fill="none" opacity="0.12" stroke-linejoin="round"/>
<path d="M627.3,194.7 631.2,187.7 636,181.3" stroke="#f8f8f8" stroke-width="4.76" fill="none" stroke-linejoin="round" stroke-linecap="round"/>
<path d="M670.6,285.6 673.4,278.1 675.9,270.5" stroke="#797979" stroke-width="12.72" fill="none" opacity="0.12" stroke-linejoin="round"/>
<path d="M670.6,285.6 673.4,278.1 675.9,270.5" stroke="#dddddd" stroke-width="4.89" fill="none" stroke-linejoin="round" stroke-linecap="round"/>
<path d="M737.5,327.2 740.4,319.8 744.2,312.7" stroke="#7d7d7d" stroke-width="10.16" fill="none" opacity="0.12" stroke-linejoin="round"/>
<path d="M737.5,327.2 740.4,319.8 744.2,312.7" stroke="#e4e4e4" stroke-width="3.91" fill="none" stroke-linejoin="round" stroke-linecap="round"/>
<path d="M304.6,292.7 C313.7,276.3 340.3,228.4 359,194.1 C377.8,159.8 407.2,104.8 416.9,86.9" stroke="#7f7f7f" stroke-width="14.4" fill="none" opacity="0.12"/>
<path d="M304.6,292.7 C313.7,276.3 340.3,228.4 359,194.1 C377.8,159.8 407.2,104.8 416.9,86.9" stroke="#ffffff" stroke-width="6" fill="none" stroke-linecap="round"/>
<path d="M304.6,202.6 L365.8,86.9" stroke="#7a7a7a" stroke-width="9.6" fill="none" opacity="0.12"/>
<path d="M304.6,202.6 L365.8,86.9" stroke="#f5f5f5" stroke-width="4" fill="none" stroke-linecap="round"/>
<path d="M304.6,354 C312.3,338.7 336.4,291.6 350.5,262.1 C364.7,232.6 376.3,206.3 389.7,177.1 C403,147.9 423.7,101.9 430.5,86.9" stroke="#7f7f7f" stroke-width="18" fill="none" opacity="0.12"/>
<path d="M304.6,354 C312.3,338.7 336.4,291.6 350.5,262.1 C364.7,232.6 376.3,206.3 389.7,177.1 C403,147.9 423.7,101.9 430.5,86.9" stroke="#ffffff" stroke-width="7.5" fill="none" stroke-linecap="round"/>
<path d="M338.6,391.4 C345.4,375.5 366.1,327.6 379.5,296.2 C392.8,264.7 405,237.5 418.6,202.6 C432.2,167.7 454,106.2 461.1,86.9" stroke="#7d7d7d" stroke-width="13.2" fill="none" opacity="0.12"/>
<path d="M338.6,391.4 C345.4,375.5 366.1,327.6 379.5,296.2 C392.8,264.7 405,237.5 418.6,202.6 C432.2,167.7 454,106.2 461.1,86.9" stroke="#fafafa" stroke-width="5.5" fill="none" stroke-linecap="round"/>
<path d="M381.2,391.4 C388.8,377 413.2,331.9 427.1,304.7 C441,277.4 451.8,252.2 464.5,228.1 C477.3,204 492,183.6 503.6,160.1 C515.3,136.5 529.2,99.1 534.3,86.9" stroke="#7f7f7f" stroke-width="31.2" fill="none" opacity="0.12"/>
<path d="M381.2,391.4 C388.8,377 413.2,331.9 427.1,304.7 C441,277.4 451.8,252.2 464.5,228.1 C477.3,204 492,183.6 503.6,160.1 C515.3,136.5 529.2,99.1 534.3,86.9" stroke="#ffffff" stroke-width="13" fill="none" stroke-linecap="round"/>
<path d="M418.6,391.4 C425.7,377 446.9,331.9 461.1,304.7 C475.3,277.4 489.5,255 503.6,228.1 C517.8,201.2 534.6,166.6 546.2,143 C557.8,119.5 568.9,96.3 573.4,86.9" stroke="#7f7f7f" stroke-width="19.2" fill="none" opacity="0.12"/>
<path d="M418.6,391.4 C425.7,377 446.9,331.9 461.1,304.7 C475.3,277.4 489.5,255 503.6,228.1 C517.8,201.2 534.6,166.6 546.2,143 C557.8,119.5 568.9,96.3 573.4,86.9" stroke="#ffffff" stroke-width="8" fill="none" stroke-linecap="round"/>
<path d="M461.1,391.4 C468.2,378.4 489.5,340.4 503.6,313.2 C517.8,285.9 533.4,253.6 546.2,228.1 C558.9,202.6 570,179.9 580.2,160.1 C590.4,140.2 602.9,117.5 607.4,109" stroke="#7d7d7d" stroke-width="14.4" fill="none" opacity="0.12"/>
<path d="M461.1,391.4 C468.2,378.4 489.5,340.4 503.6,313.2 C517.8,285.9 533.4,253.6 546.2,228.1 C558.9,202.6 570,179.9 580.2,160.1 C590.4,140.2 602.9,117.5 607.4,109" stroke="#fafafa" stroke-width="6" fill="none" stroke-linecap="round"/>
<path d="M495.1,391.4 C502.2,377 523.5,331.9 537.7,304.7 C551.8,277.4 568.6,247.9 580.2,228.1 C591.8,208.3 602.9,192.7 607.4,185.6" stroke="#7a7a7a" stroke-width="10.8" fill="none" opacity="0.12"/>
<path d="M495.1,391.4 C502.2,377 523.5,331.9 537.7,304.7 C551.8,277.4 568.6,247.9 580.2,228.1 C591.8,208.3 602.9,192.7 607.4,185.6" stroke="#f5f5f5" stroke-width="4.5" fill="none" stroke-linecap="round"/>
<path d="M554.7,391.4 C558.9,381.2 571.4,348.9 580.2,330.2 C589,311.5 602.9,287.6 607.4,279.1" stroke="#7a7a7a" stroke-width="10.8" fill="none" opacity="0.12"/>
<path d="M554.7,391.4 C558.9,381.2 571.4,348.9 580.2,330.2 C589,311.5 602.9,287.6 607.4,279.1" stroke="#f5f5f5" stroke-width="4.5" fill="none" stroke-linecap="round"/>
<path d="M359,391.4 C366.4,374.1 389.1,320.5 403.3,287.6 C417.4,254.8 431.6,221 444.1,194.1 C456.6,167.1 469.6,143.9 478.1,126 C486.6,108.2 492.3,93.4 495.1,86.9" stroke="#7d7d7d" stroke-width="12" fill="none" opacity="0.12"/>
<path d="M359,391.4 C366.4,374.1 389.1,320.5 403.3,287.6 C417.4,254.8 431.6,221 444.1,194.1 C456.6,167.1 469.6,143.9 478.1,126 C486.6,108.2 492.3,93.4 495.1,86.9" stroke="#fafafa" stroke-width="5" fill="none" stroke-linecap="round"/>
<path d="M318.2,391.4 C323.6,378.4 339.5,337.5 350.5,313.2 C361.6,288.8 374.6,267.8 384.6,245.1 C394.5,222.4 405.8,188.4 410.1,177.1" stroke="#757575" stroke-width="7.2" fill="none" opacity="0.12"/>
<path d="M318.2,391.4 C323.6,378.4 339.5,337.5 350.5,313.2 C361.6,288.8 374.6,267.8 384.6,245.1 C394.5,222.4 405.8,188.4 410.1,177.1" stroke="#ebebeb" stroke-width="3" fill="none" stroke-linecap="round"/>
<path d="M563.2,391.4 C564.9,375.5 570,326.2 573.4,296.2 C576.8,266.1 577.9,236.6 583.6,211.1 C589.3,185.6 603.5,154.4 607.4,143" stroke="#7a7a7a" stroke-width="9.6" fill="none" opacity="0.12"/>
<path d="M563.2,391.4 C564.9,375.5 570,326.2 573.4,296.2 C576.8,266.1 577.9,236.6 583.6,211.1 C589.3,185.6 603.5,154.4 607.4,143" stroke="#f5f5f5" stroke-width="4" fill="none" stroke-linecap="round"/>
<path d="M444.1,391.4 C449.8,378.4 465.4,337.5 478.1,313.2 C490.9,288.8 507.9,267.8 520.7,245.1 C533.4,222.4 544.8,199.7 554.7,177.1 C564.6,154.4 575.9,120.4 580.2,109" stroke="#7d7d7d" stroke-width="13.2" fill="none" opacity="0.12"/>
<path d="M444.1,391.4 C449.8,378.4 465.4,337.5 478.1,313.2 C490.9,288.8 507.9,267.8 520.7,245.1 C533.4,222.4 544.8,199.7 554.7,177.1 C564.6,154.4 575.9,120.4 580.2,109" stroke="#fafafa" stroke-width="5.5" fill="none" stroke-linecap="round"/>
<path d="M304.6,262.1 C310.8,253.6 329.5,232.4 342,211.1 C354.5,189.8 370.4,155.2 379.5,134.5 C388.5,113.8 393.6,94.8 396.5,86.9" stroke="#7a7a7a" stroke-width="10.8" fill="none" opacity="0.12"/>
<path d="M304.6,262.1 C310.8,253.6 329.5,232.4 342,211.1 C354.5,189.8 370.4,155.2 379.5,134.5 C388.5,113.8 393.6,94.8 396.5,86.9" stroke="#f5f5f5" stroke-width="4.5" fill="none" stroke-linecap="round"/>
<path d="M520.7,391.4 C526.3,379.8 541.9,346.1 554.7,321.7 C567.4,297.3 590.1,257.9 597.2,245.1" stroke="#7a7a7a" stroke-width="9.6" fill="none" opacity="0.12"/>
<path d="M520.7,391.4 C526.3,379.8 541.9,346.1 554.7,321.7 C567.4,297.3 590.1,257.9 597.2,245.1" stroke="#f5f5f5" stroke-width="4" fill="none" stroke-linecap="round"/>
<path d="M403.3,391.4 C410.1,378.4 431.6,337.5 444.1,313.2 C456.6,288.8 466.8,267.8 478.1,245.1 C489.5,222.4 500,203.4 512.2,177.1 C524.3,150.7 544.8,101.9 551.3,86.9" stroke="#7d7d7d" stroke-width="13.2" fill="none" opacity="0.12"/>
<path d="M403.3,391.4 C410.1,378.4 431.6,337.5 444.1,313.2 C456.6,288.8 466.8,267.8 478.1,245.1 C489.5,222.4 500,203.4 512.2,177.1 C524.3,150.7 544.8,101.9 551.3,86.9" stroke="#fafafa" stroke-width="5.5" fill="none" stroke-linecap="round"/>
<path d="M304.6,330.2 C309.4,320.3 323.6,290.5 333.5,270.6 C343.4,250.8 355.1,229.5 364.1,211.1 C373.2,192.7 384,168.6 388,160.1" stroke="#7a7a7a" stroke-width="9.6" fill="none" opacity="0.12"/>
<path d="M304.6,330.2 C309.4,320.3 323.6,290.5 333.5,270.6 C343.4,250.8 355.1,229.5 364.1,211.1 C373.2,192.7 384,168.6 388,160.1" stroke="#f5f5f5" stroke-width="4" fill="none" stroke-linecap="round"/>
<path d="M478.1,391.4 C483.8,381.2 499.4,353.1 512.2,330.2 C524.9,307.2 540.5,279.1 554.7,253.6 C568.9,228.1 590.1,189.8 597.2,177.1" stroke="#7a7a7a" stroke-width="9.6" fill="none" opacity="0.12"/>
<path d="M478.1,391.4 C483.8,381.2 499.4,353.1 512.2,330.2 C524.9,307.2 540.5,279.1 554.7,253.6 C568.9,228.1 590.1,189.8 597.2,177.1" stroke="#f5f5f5" stroke-width="4" fill="none" stroke-linecap="round"/>
<filter id="soft5" filterUnits="userSpaceOnUse" x="300" y="80" width="320" height="320"><feGaussianBlur stdDeviation="7"/></filter>
<ellipse cx="437" cy="226" rx="20" ry="42" transform="rotate(20 437 226)" fill="#000" filter="url(#soft5)"/>
<ellipse cx="535" cy="275" rx="18" ry="44" transform="rotate(15 535 275)" fill="#000" filter="url(#soft5)"/>
<ellipse cx="465" cy="137" rx="12" ry="34" transform="rotate(25 465 137)" fill="#000" filter="url(#soft5)"/>
<path d="M423.7,194.1 C426,199.7 433.9,216.8 437.3,228.1 C440.7,239.4 444.1,250.8 444.1,262.1 C444.1,273.5 438.4,290.5 437.3,296.2" stroke="#c8c8c8" stroke-width="1.4" fill="none" stroke-linecap="round"/>
<path d="M452.6,187.3 C454,191.2 460.5,201.4 461.1,211.1 C461.7,220.7 456.9,239.4 456,245.1" stroke="#bebebe" stroke-width="1.2" fill="none" stroke-linecap="round"/>
<path d="M529.2,231.5 C531.4,236.6 539.9,251.4 542.8,262.1 C545.6,272.9 547,286.2 546.2,296.2 C545.3,306.1 539.1,317.4 537.7,321.7" stroke="#c8c8c8" stroke-width="1.4" fill="none" stroke-linecap="round"/>
<path d="M520.7,245.1 C520.1,252.2 517,274.9 517.3,287.6 C517.5,300.4 521.5,316 522.4,321.7" stroke="#bebebe" stroke-width="1.2" fill="none" stroke-linecap="round"/>
<path d="M452.6,109 C454,114.7 460.3,133.1 461.1,143 C462,153 458.3,164.3 457.7,168.6" stroke="#b4b4b4" stroke-width="1.2" fill="none" stroke-linecap="round"/>
</g></g>
<polygon points="399.9,134.2 418.6,130.8 412.6,146.8" fill="#EA2418"/>
<polygon points="510.1,171.1 529.2,168.2 523.7,183.9" fill="#EA2418"/>
<polygon points="355.6,213.1 374.3,210.2 368.9,226.4" fill="#EA2418"/>
<polygon points="487.5,206.8 506.2,203.4 500.6,219.3" fill="#EA2418"/>
<polygon points="342,243.4 360.7,240 356,256.2" fill="#EA2418"/>
<polygon points="450.1,267.2 468.8,264.2 463.2,280" fill="#EA2418"/>
<defs><clipPath id="cp3"><rect x="627" y="92" width="295" height="296"/></clipPath><filter id="fp3" filterUnits="userSpaceOnUse" x="622" y="87" width="305" height="306"><feGaussianBlur stdDeviation="0.8"/></filter></defs>
<g clip-path="url(#cp3)"><rect x="627" y="92" width="295" height="296" fill="#000"/>
<filter id="spk3" filterUnits="userSpaceOnUse" x="627" y="92" width="295" height="296"><feTurbulence type="fractalNoise" baseFrequency="0.25" numOctaves="2" seed="4"/><feColorMatrix type="matrix" values="6 0 0 0 -4.1 6 0 0 0 -4.1 6 0 0 0 -4.1 0 0 0 0 1"/><feGaussianBlur stdDeviation="0.6"/></filter>
<rect x="627" y="92" width="295" height="296" filter="url(#spk3)" opacity="0.6" style="mix-blend-mode:screen"/>
<filter id="spk4" filterUnits="userSpaceOnUse" x="627" y="92" width="295" height="296"><feTurbulence type="fractalNoise" baseFrequency="0.13" numOctaves="2" seed="24"/><feColorMatrix type="matrix" values="5 0 0 0 -3.5 5 0 0 0 -3.5 5 0 0 0 -3.5 0 0 0 0 1"/><feGaussianBlur stdDeviation="0.6"/></filter>
<rect x="627" y="92" width="295" height="296" filter="url(#spk4)" opacity="0.95" style="mix-blend-mode:screen"/>
<filter id="spk5" filterUnits="userSpaceOnUse" x="627" y="92" width="295" height="296"><feTurbulence type="fractalNoise" baseFrequency="0.08" numOctaves="2" seed="14"/><feColorMatrix type="matrix" values="4 0 0 0 -2.9 4 0 0 0 -2.9 4 0 0 0 -2.9 0 0 0 0 1"/><feGaussianBlur stdDeviation="0.6"/></filter>
<rect x="627" y="92" width="295" height="296" filter="url(#spk5)" opacity="0.5" style="mix-blend-mode:screen"/>
<g filter="url(#fp3)">
<path d="M602,176 601.7,184 601.3,192" stroke="#4e4e4e" stroke-width="4.2" fill="none" opacity="0.3" stroke-linejoin="round"/>
<path d="M602,176 601.7,184 601.3,192" stroke="#8f8f8f" stroke-width="1.62" fill="none" stroke-linejoin="round" stroke-linecap="round"/>
<circle cx="601.3" cy="192" r="2.3" fill="#f1f1f1"/>
<circle cx="601.7" cy="184" r="2.6" fill="#dbdbdb"/>
<circle cx="602" cy="176" r="1.6" fill="#c4c4c4"/>
<circle cx="602" cy="176" r="2.9" fill="#fdfdfd"/>
<circle cx="601.3" cy="192" r="2.3" fill="#c0c0c0"/>
<circle cx="601.7" cy="184" r="2.5" fill="#bbbbbb"/>
<circle cx="601.7" cy="184" r="2.7" fill="#fcfcfc"/>
<circle cx="601.7" cy="184" r="2" fill="#fefefe"/>
<path d="M696.2,70.9 694.5,78.7 693.4,86.6 692.3,94.6 691.7,102.5 690.1,110.4 689,118.3 688,126.2 687.5,134.2 686.9,142.2 686,150.2 685.3,158.1 684.3,166.1 683.2,174 682.1,181.9 681.1,189.8 679.8,197.7 678.3,205.6 676.8,213.5 675.1,221.3 673.8,229.2 672.6,237.1 671.8,245 670.9,253 670.2,261 669.2,268.9 667.7,276.8 666.6,284.7 665.8,292.6 665.2,300.6 664.7,308.6 663.8,316.5 662.9,324.5 662.3,332.5 662.1,340.5 661.5,348.4 661.1,356.4 661.2,364.4 661,372.4 660.3,380.4 659.8,388.4 658.9,396.3 658.1,404.3 657.8,412.3" stroke="#5f5f5f" stroke-width="3.58" fill="none" opacity="0.3" stroke-linejoin="round"/>
<path d="M696.2,70.9 694.5,78.7 693.4,86.6 692.3,94.6 691.7,102.5 690.1,110.4 689,118.3 688,126.2 687.5,134.2 686.9,142.2 686,150.2 685.3,158.1 684.3,166.1 683.2,174 682.1,181.9 681.1,189.8 679.8,197.7 678.3,205.6 676.8,213.5 675.1,221.3 673.8,229.2 672.6,237.1 671.8,245 670.9,253 670.2,261 669.2,268.9 667.7,276.8 666.6,284.7 665.8,292.6 665.2,300.6 664.7,308.6 663.8,316.5 662.9,324.5 662.3,332.5 662.1,340.5 661.5,348.4 661.1,356.4 661.2,364.4 661,372.4 660.3,380.4 659.8,388.4 658.9,396.3 658.1,404.3 657.8,412.3" stroke="#acacac" stroke-width="1.38" fill="none" stroke-linejoin="round" stroke-linecap="round"/>
<circle cx="672.6" cy="237.1" r="1.9" fill="#bbbbbb"/>
<circle cx="657.8" cy="412.3" r="1.5" fill="#d7d7d7"/>
<circle cx="688" cy="126.2" r="2.2" fill="#f9f9f9"/>
<circle cx="662.9" cy="324.5" r="2.5" fill="#e7e7e7"/>
<circle cx="658.1" cy="404.3" r="2.2" fill="#c8c8c8"/>
<circle cx="661.1" cy="356.4" r="2.8" fill="#dedede"/>
<circle cx="692.3" cy="94.6" r="1.6" fill="#d9d9d9"/>
<circle cx="664.7" cy="308.6" r="1.6" fill="#bebebe"/>
<path d="M709.8,71.3 709.8,79.3 710,87.3 710.8,95.3 711.4,103.3 711.6,111.3 711.5,119.3 711.2,127.3 711.4,135.3 711,143.3 710.4,151.2 710,159.2 709.7,167.2 709.8,175.2 710.5,183.2 711.5,191.1 712.4,199.1 713.1,207 713.8,215 714.6,223 715.6,230.9 716.5,238.9 717.1,246.8 717.3,254.8 717.6,262.8 718.2,270.8 719,278.8 719,286.8 718.7,294.8 718.2,302.7 717.8,310.7 717.5,318.7 717,326.7 717.4,334.7 718.1,342.7 719.2,350.6 720.6,358.5 722.3,366.3 724.7,373.9 726.4,381.7 727.3,389.7 729,397.5 730.4,405.4 731.4,413.3" stroke="#575757" stroke-width="3.28" fill="none" opacity="0.3" stroke-linejoin="round"/>
<path d="M709.8,71.3 709.8,79.3 710,87.3 710.8,95.3 711.4,103.3 711.6,111.3 711.5,119.3 711.2,127.3 711.4,135.3 711,143.3 710.4,151.2 710,159.2 709.7,167.2 709.8,175.2 710.5,183.2 711.5,191.1 712.4,199.1 713.1,207 713.8,215 714.6,223 715.6,230.9 716.5,238.9 717.1,246.8 717.3,254.8 717.6,262.8 718.2,270.8 719,278.8 719,286.8 718.7,294.8 718.2,302.7 717.8,310.7 717.5,318.7 717,326.7 717.4,334.7 718.1,342.7 719.2,350.6 720.6,358.5 722.3,366.3 724.7,373.9 726.4,381.7 727.3,389.7 729,397.5 730.4,405.4 731.4,413.3" stroke="#9f9f9f" stroke-width="1.26" fill="none" stroke-linejoin="round" stroke-linecap="round"/>
<circle cx="713.8" cy="215" r="2.8" fill="#cbcbcb"/>
<circle cx="710" cy="159.2" r="2.4" fill="#eeeeee"/>
<circle cx="712.4" cy="199.1" r="3" fill="#e2e2e2"/>
<circle cx="711.4" cy="135.3" r="2.6" fill="#e6e6e6"/>
<circle cx="719" cy="286.8" r="2.8" fill="#ededed"/>
<circle cx="709.8" cy="71.3" r="2.4" fill="#fafafa"/>
<circle cx="727.3" cy="389.7" r="2.9" fill="#c4c4c4"/>
<circle cx="717.1" cy="246.8" r="1.6" fill="#f6f6f6"/>
<path d="M815.3,69.9 814.6,77.9 814.6,85.9 814,93.8 813.6,101.8 812.7,109.8 811.5,117.7 810.5,125.6 809.4,133.6 807.9,141.4 806.4,149.3 805.4,157.2 804.7,165.2 804.5,173.2 804.3,181.2 804.1,189.2 804.1,197.2 804.3,205.2 804.6,213.2 804.7,221.2 804.6,229.2 804.2,237.1 803.8,245.1 803.8,253.1 804,261.1 804.1,269.1 804,277.1 803.8,285.1 803.7,293.1 803.9,301.1 804.3,309.1 804,317.1 804,325.1 804.5,333.1 804.2,341.1 803.6,349.1 803.5,357.1 803.3,365.1 802.2,373 801,380.9 800.7,388.9 800.2,396.9 799.5,404.8 799.3,412.8" stroke="#646464" stroke-width="3.84" fill="none" opacity="0.3" stroke-linejoin="round"/>
<path d="M815.3,69.9 814.6,77.9 814.6,85.9 814,93.8 813.6,101.8 812.7,109.8 811.5,117.7 810.5,125.6 809.4,133.6 807.9,141.4 806.4,149.3 805.4,157.2 804.7,165.2 804.5,173.2 804.3,181.2 804.1,189.2 804.1,197.2 804.3,205.2 804.6,213.2 804.7,221.2 804.6,229.2 804.2,237.1 803.8,245.1 803.8,253.1 804,261.1 804.1,269.1 804,277.1 803.8,285.1 803.7,293.1 803.9,301.1 804.3,309.1 804,317.1 804,325.1 804.5,333.1 804.2,341.1 803.6,349.1 803.5,357.1 803.3,365.1 802.2,373 801,380.9 800.7,388.9 800.2,396.9 799.5,404.8 799.3,412.8" stroke="#b7b7b7" stroke-width="1.48" fill="none" stroke-linejoin="round" stroke-linecap="round"/>
<circle cx="800.7" cy="388.9" r="2.3" fill="#e4e4e4"/>
<circle cx="804" cy="325.1" r="2.9" fill="#c6c6c6"/>
<circle cx="804.2" cy="341.1" r="2.1" fill="#b4b4b4"/>
<circle cx="812.7" cy="109.8" r="1.8" fill="#ededed"/>
<circle cx="814" cy="93.8" r="2.4" fill="#c1c1c1"/>
<circle cx="804.3" cy="205.2" r="2.7" fill="#dfdfdf"/>
<circle cx="804.6" cy="229.2" r="1.9" fill="#efefef"/>
<circle cx="814.6" cy="85.9" r="2.6" fill="#d6d6d6"/>
<path d="M881.7,68.8 881.1,76.8 879.9,84.7 878.5,92.6 876.6,100.3 874.7,108.1 873,115.9 870.8,123.6 868.7,131.3 866.3,139 864.5,146.8 862.6,154.5 860.7,162.3 859,170.1 857.4,178 855.9,185.8 854.5,193.7 853.2,201.6 851.5,209.4 849.6,217.2 847.6,224.9 845.6,232.7 844,240.5 842.1,248.3 839.4,255.8 836.3,263.2 833,270.5 830.2,278 827.8,285.6 825.6,293.3 823.3,300.9 821,308.6 818.9,316.3 816.5,324 813.9,331.5 811.7,339.2 809.9,347 807.9,354.8 805.7,362.5 803.7,370.2 801.6,377.9 800.1,385.8 799,393.7 797.7,401.6 796.8,409.6" stroke="#717171" stroke-width="4.6" fill="none" opacity="0.3" stroke-linejoin="round"/>
<path d="M881.7,68.8 881.1,76.8 879.9,84.7 878.5,92.6 876.6,100.3 874.7,108.1 873,115.9 870.8,123.6 868.7,131.3 866.3,139 864.5,146.8 862.6,154.5 860.7,162.3 859,170.1 857.4,178 855.9,185.8 854.5,193.7 853.2,201.6 851.5,209.4 849.6,217.2 847.6,224.9 845.6,232.7 844,240.5 842.1,248.3 839.4,255.8 836.3,263.2 833,270.5 830.2,278 827.8,285.6 825.6,293.3 823.3,300.9 821,308.6 818.9,316.3 816.5,324 813.9,331.5 811.7,339.2 809.9,347 807.9,354.8 805.7,362.5 803.7,370.2 801.6,377.9 800.1,385.8 799,393.7 797.7,401.6 796.8,409.6" stroke="#cecece" stroke-width="1.77" fill="none" stroke-linejoin="round" stroke-linecap="round"/>
<circle cx="847.6" cy="224.9" r="1.8" fill="#b5b5b5"/>
<circle cx="849.6" cy="217.2" r="2.4" fill="#bababa"/>
<circle cx="823.3" cy="300.9" r="2.4" fill="#dddddd"/>
<circle cx="799" cy="393.7" r="2.1" fill="#f7f7f7"/>
<circle cx="836.3" cy="263.2" r="2.8" fill="#b9b9b9"/>
<circle cx="857.4" cy="178" r="1.9" fill="#eaeaea"/>
<circle cx="805.7" cy="362.5" r="2.5" fill="#e6e6e6"/>
<circle cx="830.2" cy="278" r="1.8" fill="#cacaca"/>
<path d="M942.9,71.6 941.7,79.5 940,87.4 938,95.1 936.7,103 935,110.8 933.4,118.7 932.1,126.5 931,134.5 930.3,142.4 929.4,150.4 929,158.4 927.9,166.3 926.9,174.2 925.6,182.1 924.3,190 923,197.9 922,205.9 920.3,213.7 918.8,221.5 917.5,229.4 916,237.3 914.8,245.2 913.6,253.1 912.6,261 911.9,269 911.2,277 910.4,285 909.6,292.9 909.4,300.9 908.9,308.9 908.8,316.9 908,324.9 907.1,332.8 906.7,340.8 905.5,348.7 904.8,356.7 903.2,364.5 901.6,372.3 900.4,380.3 900.2,388.3 899.8,396.2 898.8,404.2 898,412.1" stroke="#686868" stroke-width="4.95" fill="none" opacity="0.3" stroke-linejoin="round"/>
<path d="M942.9,71.6 941.7,79.5 940,87.4 938,95.1 936.7,103 935,110.8 933.4,118.7 932.1,126.5 931,134.5 930.3,142.4 929.4,150.4 929,158.4 927.9,166.3 926.9,174.2 925.6,182.1 924.3,190 923,197.9 922,205.9 920.3,213.7 918.8,221.5 917.5,229.4 916,237.3 914.8,245.2 913.6,253.1 912.6,261 911.9,269 911.2,277 910.4,285 909.6,292.9 909.4,300.9 908.9,308.9 908.8,316.9 908,324.9 907.1,332.8 906.7,340.8 905.5,348.7 904.8,356.7 903.2,364.5 901.6,372.3 900.4,380.3 900.2,388.3 899.8,396.2 898.8,404.2 898,412.1" stroke="#bebebe" stroke-width="1.9" fill="none" stroke-linejoin="round" stroke-linecap="round"/>
<circle cx="933.4" cy="118.7" r="2.4" fill="#d6d6d6"/>
<circle cx="907.1" cy="332.8" r="2.3" fill="#d4d4d4"/>
<circle cx="941.7" cy="79.5" r="2.9" fill="#cecece"/>
<circle cx="938" cy="95.1" r="1.6" fill="#cacaca"/>
<circle cx="929.4" cy="150.4" r="2.5" fill="#f2f2f2"/>
<circle cx="912.6" cy="261" r="2.6" fill="#bebebe"/>
<circle cx="903.2" cy="364.5" r="2.3" fill="#b5b5b5"/>
<circle cx="913.6" cy="253.1" r="2.1" fill="#d2d2d2"/>
<path d="M603.5,237.7 610.7,241.2 618,244.5 625.5,247.4 632.9,250.3 640.4,253.1 647.8,256.2 655.1,259.3 662.5,262.4 670.3,264.4 678.1,266 686,267.3 693.8,269.2 701.6,271 709.3,273 716.9,275.4 724.8,276.9 732.6,278.8 740.5,280.2 748.1,282.6 755.6,285.2 763.2,287.9 770.9,290.1 778.7,291.9 786.5,293.7 794.4,294.9 802.3,296 810.3,296.9 818.1,298.5 825.7,300.8 833.5,302.8 841.2,305 848.9,307 856.6,309.3 864.1,312.1 871.6,314.9 879.3,317.1 887,319 894.9,320.6 902.7,322.3 910.6,323.7 918.4,325.4 926.3,326.7 934,328.7 941.8,330.8 949.6,332.5" stroke="#8e8e8e" stroke-width="1.38" fill="none" stroke-linejoin="round" stroke-linecap="round"/>
<path d="M600,264.5 607.7,266.3 615.6,268 623.3,270.1 631,272.3 638.8,274 646.5,276.1 654.3,277.8 662.1,279.6 669.9,281.5 677.7,283.3 685.5,285.3 693.3,287 701.2,287.9 709.2,288.3 717.2,288.1 725.2,287.9 733.2,287.7 741.2,287.8 749.2,287.3 757.2,287.1 765.2,286.8 773.2,286.4 781.2,286.4 789.1,287 797.1,287.5 805.1,287.3 813.1,287.4 821.1,288.4 829,289.6 836.8,291.4 844.5,293.5 852.2,295.7 859.7,298.4 867,301.6 874.7,304 882.3,306.4 890.1,308.2 897.9,309.9 905.8,311.1 913.7,312.5 921.6,313.5 929.6,314.4 937.5,315.8 945.5,315.7" stroke="#a5a5a5" stroke-width="1.28" fill="none" stroke-linejoin="round" stroke-linecap="round"/>
<path d="M972,298.6 979.5,301.3 986.9,304.5" stroke="#787878" stroke-width="1" fill="none" stroke-linejoin="round" stroke-linecap="round"/>
<circle cx="702.1" cy="246.3" r="2.8" fill="#cccccc"/>
<circle cx="702.8" cy="244.4" r="1.2" fill="#c5c5c5"/>
<circle cx="705" cy="185.2" r="2.7" fill="#a2a2a2"/>
<circle cx="689.5" cy="156.8" r="1.9" fill="#cbcbcb"/>
<circle cx="690.1" cy="141.8" r="2.9" fill="#c9c9c9"/>
<circle cx="697.7" cy="168" r="2.4" fill="#e2e2e2"/>
<circle cx="696.3" cy="259.4" r="2.2" fill="#cacaca"/>
<circle cx="690.8" cy="146.8" r="2.5" fill="#a7a7a7"/>
<circle cx="703.1" cy="268.8" r="2.6" fill="#fdfdfd"/>
<circle cx="717.2" cy="370.5" r="2.4" fill="#f6f6f6"/>
<circle cx="708.6" cy="289.3" r="1.4" fill="#f2f2f2"/>
<circle cx="710.1" cy="271.4" r="1.4" fill="#e7e7e7"/>
<circle cx="695.8" cy="193.1" r="2.5" fill="#dedede"/>
<circle cx="720.2" cy="331.8" r="2.8" fill="#d6d6d6"/>
<circle cx="715.7" cy="391" r="2.5" fill="#b0b0b0"/>
<circle cx="683.1" cy="170.3" r="2.7" fill="#aeaeae"/>
<circle cx="719.1" cy="357.3" r="2.3" fill="#bbbbbb"/>
<circle cx="707" cy="308.7" r="1.5" fill="#a2a2a2"/>
<circle cx="693.7" cy="154.2" r="1.8" fill="#f7f7f7"/>
<circle cx="719.2" cy="310" r="2.3" fill="#dbdbdb"/>
<circle cx="725.3" cy="374.4" r="1.8" fill="#cfcfcf"/>
<circle cx="693.9" cy="164.4" r="1.7" fill="#d2d2d2"/>
<circle cx="709.7" cy="267.9" r="2.3" fill="#d1d1d1"/>
<circle cx="703.4" cy="193" r="2.3" fill="#d4d4d4"/>
<circle cx="703.5" cy="247.5" r="2.1" fill="#fafafa"/>
<circle cx="693.8" cy="163.9" r="1.9" fill="#b7b7b7"/>
<circle cx="696.9" cy="168.4" r="1.7" fill="#939393"/>
<circle cx="705.4" cy="196.6" r="1.5" fill="#d6d6d6"/>
<circle cx="687" cy="169.8" r="1.7" fill="#fdfdfd"/>
<circle cx="714" cy="337.5" r="1.4" fill="#bfbfbf"/>
<circle cx="700.7" cy="251.5" r="1.1" fill="#ebebeb"/>
<circle cx="719" cy="333.3" r="2.5" fill="#979797"/>
<circle cx="692.7" cy="129" r="1.1" fill="#e8e8e8"/>
<circle cx="734.3" cy="366.9" r="2.7" fill="#adadad"/>
<circle cx="702.1" cy="205.4" r="2.6" fill="#f1f1f1"/>
<circle cx="717.6" cy="377.6" r="1.5" fill="#aeaeae"/>
<circle cx="701.4" cy="198.5" r="2.5" fill="#d5d5d5"/>
<circle cx="710" cy="298.3" r="1.5" fill="#cccccc"/>
<circle cx="689.9" cy="157.6" r="2.2" fill="#d9d9d9"/>
<circle cx="711.8" cy="289.8" r="1.6" fill="#a6a6a6"/>
<circle cx="697.1" cy="257.2" r="1.5" fill="#c5c5c5"/>
<circle cx="698.9" cy="157.4" r="1.9" fill="#cecece"/>
<circle cx="688.6" cy="191.6" r="1.5" fill="#d8d8d8"/>
<circle cx="716.9" cy="359" r="2" fill="#d1d1d1"/>
<circle cx="707.2" cy="272.8" r="2.2" fill="#e0e0e0"/>
<circle cx="698.1" cy="160" r="2.3" fill="#c1c1c1"/>
<circle cx="698.7" cy="269.3" r="2.8" fill="#e8e8e8"/>
<circle cx="695.9" cy="173.4" r="2.3" fill="#aaaaaa"/>
<circle cx="708.7" cy="278.7" r="2.6" fill="#c9c9c9"/>
<circle cx="717.7" cy="299.1" r="2.9" fill="#9a9a9a"/>
<circle cx="705.2" cy="285.7" r="2.7" fill="#cacaca"/>
<circle cx="690.6" cy="181.1" r="2.3" fill="#b6b6b6"/>
<circle cx="716.2" cy="379" r="1.5" fill="#a9a9a9"/>
<circle cx="709" cy="257" r="1.1" fill="#d6d6d6"/>
<circle cx="693.8" cy="261.5" r="2.7" fill="#9e9e9e"/>
<circle cx="703.8" cy="229.5" r="2.7" fill="#f5f5f5"/>
<circle cx="704.9" cy="226.6" r="1.9" fill="#d5d5d5"/>
<circle cx="692.8" cy="201.1" r="1.7" fill="#bfbfbf"/>
<circle cx="700.1" cy="203.9" r="1.9" fill="#ededed"/>
<circle cx="705.8" cy="260.1" r="1.5" fill="#c9c9c9"/>
<circle cx="698.7" cy="224.5" r="2.9" fill="#dfdfdf"/>
<circle cx="693.7" cy="147.9" r="1.6" fill="#fafafa"/>
<circle cx="709" cy="316.9" r="2.7" fill="#959595"/>
<circle cx="690" cy="161.5" r="2.9" fill="#f9f9f9"/>
<circle cx="697" cy="245.8" r="1.5" fill="#9d9d9d"/>
<circle cx="710" cy="299" r="2.8" fill="#dfdfdf"/>
<circle cx="694.6" cy="135" r="1.3" fill="#999999"/>
<circle cx="721.1" cy="358.9" r="1.3" fill="#b2b2b2"/>
<circle cx="688.7" cy="184.3" r="1.1" fill="#dddddd"/>
<circle cx="701.8" cy="248.5" r="3" fill="#b2b2b2"/>
<circle cx="738.1" cy="246.1" r="2.7" fill="#f4f4f4"/>
<circle cx="734.4" cy="175.7" r="1.8" fill="#e5e5e5"/>
<circle cx="698.3" cy="378.1" r="1.9" fill="#a0a0a0"/>
<circle cx="740.4" cy="138.8" r="2.9" fill="#e9e9e9"/>
<circle cx="743.9" cy="199.2" r="2.1" fill="#acacac"/>
<circle cx="733.5" cy="168" r="2.2" fill="#aaaaaa"/>
<circle cx="737.1" cy="192.3" r="2.9" fill="#a5a5a5"/>
<circle cx="730" cy="145.7" r="1.5" fill="#bcbcbc"/>
<circle cx="706" cy="349.1" r="1.2" fill="#a5a5a5"/>
<circle cx="723.6" cy="291.5" r="2" fill="#c7c7c7"/>
<circle cx="698.8" cy="390.3" r="2.6" fill="#bdbdbd"/>
<circle cx="730.4" cy="206.2" r="2.6" fill="#9a9a9a"/>
<circle cx="736.7" cy="192.7" r="1.5" fill="#dbdbdb"/>
<circle cx="739.9" cy="171.7" r="1.1" fill="#b8b8b8"/>
<circle cx="732.9" cy="284.7" r="2.8" fill="#d0d0d0"/>
<circle cx="720.9" cy="294.7" r="2.1" fill="#d4d4d4"/>
<circle cx="714.2" cy="273.8" r="1.2" fill="#939393"/>
<circle cx="711.1" cy="323.5" r="2.9" fill="#e8e8e8"/>
<circle cx="734.7" cy="210.1" r="2.1" fill="#e5e5e5"/>
<circle cx="730.2" cy="268.3" r="1.2" fill="#e2e2e2"/>
<circle cx="726.8" cy="278.2" r="2" fill="#b0b0b0"/>
<circle cx="734.2" cy="264.6" r="1.3" fill="#d3d3d3"/>
<circle cx="714.1" cy="328.7" r="1.7" fill="#d4d4d4"/>
<circle cx="736.1" cy="176.1" r="1.4" fill="#d2d2d2"/>
<circle cx="733" cy="210.1" r="1.6" fill="#959595"/>
<circle cx="736" cy="254.6" r="1.6" fill="#999999"/>
<circle cx="729" cy="275.1" r="2.5" fill="#f2f2f2"/>
<circle cx="716.7" cy="295.5" r="1.9" fill="#eaeaea"/>
<circle cx="705.9" cy="335" r="2.6" fill="#999999"/>
<circle cx="728.8" cy="173" r="2.3" fill="#d2d2d2"/>
<circle cx="744.5" cy="157.5" r="2" fill="#b7b7b7"/>
<circle cx="706.4" cy="368.4" r="2.3" fill="#d8d8d8"/>
<circle cx="717.1" cy="332" r="2.3" fill="#bdbdbd"/>
<circle cx="743.1" cy="149" r="2.1" fill="#d0d0d0"/>
<circle cx="727.7" cy="275.6" r="2.9" fill="#a4a4a4"/>
<circle cx="718.9" cy="298.8" r="2.3" fill="#bebebe"/>
<circle cx="712.5" cy="320.1" r="2.2" fill="#d6d6d6"/>
<circle cx="733.1" cy="219.4" r="1.2" fill="#8c8c8c"/>
<circle cx="711.3" cy="353.3" r="1.6" fill="#ededed"/>
<circle cx="726.1" cy="266.3" r="1.1" fill="#e5e5e5"/>
<circle cx="720.4" cy="326.8" r="2.8" fill="#fbfbfb"/>
<circle cx="716.5" cy="318.1" r="2.1" fill="#f6f6f6"/>
<circle cx="731.6" cy="282.7" r="1.4" fill="#b4b4b4"/>
<circle cx="734.3" cy="154.8" r="2.6" fill="#929292"/>
<circle cx="720.2" cy="308.5" r="1.4" fill="#b3b3b3"/>
<circle cx="729.7" cy="249.9" r="2.6" fill="#f8f8f8"/>
<circle cx="735.1" cy="181.5" r="1.2" fill="#ececec"/>
<circle cx="743" cy="142.3" r="1.2" fill="#fbfbfb"/>
<circle cx="700" cy="378.5" r="1.7" fill="#c9c9c9"/>
<circle cx="740.5" cy="160.7" r="2.9" fill="#a5a5a5"/>
<circle cx="728.3" cy="255" r="2.2" fill="#b0b0b0"/>
<circle cx="737.7" cy="148.1" r="1.1" fill="#aeaeae"/>
<circle cx="706" cy="371" r="1.2" fill="#eeeeee"/>
<circle cx="729.7" cy="237.9" r="2.2" fill="#bebebe"/>
<circle cx="732.2" cy="264.6" r="1.5" fill="#adadad"/>
<circle cx="696.3" cy="367.7" r="1.9" fill="#919191"/>
<circle cx="723.6" cy="285.6" r="2.2" fill="#8c8c8c"/>
<circle cx="710.5" cy="332.1" r="2.6" fill="#d0d0d0"/>
<circle cx="717.4" cy="324.4" r="2.1" fill="#9e9e9e"/>
<circle cx="734.3" cy="235.4" r="2.3" fill="#979797"/>
<circle cx="894.5" cy="205.8" r="2.9" fill="#dcdcdc"/>
<circle cx="907.3" cy="331" r="2.9" fill="#f3f3f3"/>
<circle cx="909.1" cy="328" r="2.8" fill="#ebebeb"/>
<circle cx="903.5" cy="333.7" r="2.8" fill="#d0d0d0"/>
<circle cx="882.1" cy="135.6" r="2.8" fill="#ababab"/>
<circle cx="910.6" cy="360.9" r="2.3" fill="#eaeaea"/>
<circle cx="887.4" cy="215.2" r="1.8" fill="#dbdbdb"/>
<circle cx="911.2" cy="330" r="1.9" fill="#f6f6f6"/>
<circle cx="892" cy="267.5" r="1.9" fill="#a8a8a8"/>
<circle cx="882.6" cy="136.4" r="1.9" fill="#e8e8e8"/>
<circle cx="881.1" cy="121.3" r="1.4" fill="#b8b8b8"/>
<circle cx="889.5" cy="243.1" r="1.6" fill="#8e8e8e"/>
<circle cx="899.6" cy="316.5" r="2.4" fill="#a2a2a2"/>
<circle cx="906.7" cy="357.9" r="2.3" fill="#adadad"/>
<circle cx="897.1" cy="295.6" r="3" fill="#f9f9f9"/>
<circle cx="922.2" cy="373.6" r="1.2" fill="#959595"/>
<circle cx="906.7" cy="348.9" r="1.6" fill="#f4f4f4"/>
<circle cx="891.3" cy="268.9" r="2.8" fill="#e3e3e3"/>
<circle cx="918" cy="372.1" r="2.5" fill="#9b9b9b"/>
<circle cx="881.9" cy="170" r="2.5" fill="#999999"/>
<circle cx="880.4" cy="98.4" r="2.3" fill="#b2b2b2"/>
<circle cx="892.6" cy="304.6" r="2.5" fill="#929292"/>
<circle cx="881.3" cy="200.2" r="1.1" fill="#cfcfcf"/>
<circle cx="897.2" cy="300" r="1.6" fill="#bebebe"/>
<circle cx="879.2" cy="115" r="1.8" fill="#dedede"/>
<circle cx="888.6" cy="214.9" r="1.9" fill="#eaeaea"/>
<circle cx="898.1" cy="314.8" r="2.8" fill="#ececec"/>
<circle cx="896" cy="139.5" r="2.2" fill="#9b9b9b"/>
<circle cx="901.6" cy="329.8" r="1.3" fill="#afafaf"/>
<circle cx="877.7" cy="148.2" r="1.7" fill="#fdfdfd"/>
<circle cx="910.3" cy="345.2" r="1.9" fill="#c3c3c3"/>
<circle cx="881.7" cy="119.3" r="1.9" fill="#e5e5e5"/>
<circle cx="889.5" cy="269.5" r="2.7" fill="#b6b6b6"/>
<circle cx="880.1" cy="104.9" r="2" fill="#c3c3c3"/>
<circle cx="881.6" cy="155.6" r="1.4" fill="#f3f3f3"/>
<circle cx="896.8" cy="280.3" r="2.8" fill="#929292"/>
<circle cx="886.3" cy="261.8" r="2.8" fill="#cecece"/>
<circle cx="902" cy="315.2" r="2" fill="#b5b5b5"/>
<circle cx="879.4" cy="97.1" r="2.2" fill="#aeaeae"/>
<circle cx="882.7" cy="182.4" r="2.4" fill="#b2b2b2"/>
<circle cx="906.4" cy="342.4" r="1.7" fill="#bababa"/>
<circle cx="905.1" cy="368.2" r="2.6" fill="#fefefe"/>
<circle cx="881" cy="127.5" r="1.7" fill="#a8a8a8"/>
<circle cx="887.3" cy="121.1" r="2.2" fill="#eaeaea"/>
<circle cx="877.6" cy="116.5" r="1.8" fill="#afafaf"/>
<circle cx="917.4" cy="385.9" r="2.6" fill="#e0e0e0"/>
<circle cx="883" cy="98.1" r="1.9" fill="#bdbdbd"/>
<circle cx="908.3" cy="352.4" r="1.4" fill="#e1e1e1"/>
<circle cx="898.1" cy="310.7" r="2.2" fill="#e9e9e9"/>
<circle cx="888.1" cy="228.1" r="1.4" fill="#dfdfdf"/>
<circle cx="892.5" cy="268.2" r="2.7" fill="#e4e4e4"/>
<circle cx="897.5" cy="315.7" r="1.9" fill="#aaaaaa"/>
<circle cx="891.5" cy="292.2" r="3" fill="#b1b1b1"/>
<circle cx="884.8" cy="135.5" r="2.7" fill="#9a9a9a"/>
<circle cx="895.5" cy="251" r="2.4" fill="#adadad"/>
<circle cx="873.9" cy="112" r="2.8" fill="#979797"/>
<circle cx="884.7" cy="125" r="2" fill="#c2c2c2"/>
<circle cx="910.5" cy="362.4" r="1.8" fill="#fefefe"/>
<circle cx="882.5" cy="172.3" r="2.7" fill="#9e9e9e"/>
<circle cx="893.4" cy="260.4" r="2.8" fill="#afafaf"/>
<circle cx="775.6" cy="260" r="1.7" fill="#d3d3d3"/>
<circle cx="834" cy="288.1" r="1.6" fill="#ededed"/>
<circle cx="890.7" cy="302.9" r="2" fill="#c5c5c5"/>
<circle cx="762.6" cy="254.5" r="2.6" fill="#ededed"/>
<circle cx="781.6" cy="268.3" r="1" fill="#f5f5f5"/>
<circle cx="904.9" cy="305.7" r="2.9" fill="#a7a7a7"/>
<circle cx="897.3" cy="304.8" r="1.6" fill="#9a9a9a"/>
<circle cx="761.8" cy="252.7" r="1.2" fill="#cecece"/>
<circle cx="889.1" cy="302.6" r="1.8" fill="#a7a7a7"/>
<circle cx="823.6" cy="287" r="3" fill="#9a9a9a"/>
<circle cx="900.1" cy="305.7" r="2" fill="#b3b3b3"/>
<circle cx="908.3" cy="303.8" r="2.3" fill="#c1c1c1"/>
<circle cx="872.1" cy="300.1" r="1.1" fill="#bfbfbf"/>
<circle cx="841.3" cy="292.5" r="1.9" fill="#b3b3b3"/>
<circle cx="896.8" cy="305.6" r="2.9" fill="#8d8d8d"/>
<circle cx="786.5" cy="276" r="2.8" fill="#fefefe"/>
<circle cx="848.9" cy="289.2" r="1.8" fill="#c7c7c7"/>
<circle cx="853.7" cy="297.1" r="2.3" fill="#f1f1f1"/>
<circle cx="778.7" cy="258" r="2.7" fill="#b0b0b0"/>
<circle cx="776" cy="261.3" r="1.9" fill="#9b9b9b"/>
<circle cx="788.8" cy="273.5" r="1.6" fill="#a2a2a2"/>
<circle cx="874" cy="302.2" r="2.1" fill="#fdfdfd"/>
<circle cx="903.1" cy="302.3" r="2.1" fill="#c9c9c9"/>
<circle cx="802.1" cy="285.9" r="2" fill="#a3a3a3"/>
<circle cx="756.4" cy="248.8" r="2.6" fill="#f8f8f8"/>
<circle cx="765.2" cy="251.5" r="2.4" fill="#dedede"/>
<circle cx="761.4" cy="252.8" r="1.2" fill="#989898"/>
<circle cx="755.1" cy="253.3" r="2.4" fill="#eaeaea"/>
<circle cx="911.7" cy="302" r="2.1" fill="#cacaca"/>
<circle cx="741.6" cy="243.5" r="2.5" fill="#9b9b9b"/>
<path d="M689.9,132.8 C691.4,145.9 696.2,191 698.5,211.1 C700.7,231.2 700.7,233.8 703.6,253.6 C706.4,273.5 712.3,307.2 715.5,330.2 C718.6,353.1 721.1,381.2 722.3,391.4" stroke="#7f7f7f" stroke-width="16.8" fill="none" opacity="0.35"/>
<path d="M689.9,132.8 C691.4,145.9 696.2,191 698.5,211.1 C700.7,231.2 700.7,233.8 703.6,253.6 C706.4,273.5 712.3,307.2 715.5,330.2 C718.6,353.1 721.1,381.2 722.3,391.4" stroke="#ffffff" stroke-width="7" fill="none" stroke-linecap="round"/>
<path d="M739.3,132.8 C739,148.7 740.4,200.9 737.6,228.1 C734.7,255.3 729.4,268.9 722.3,296.2 C715.2,323.4 699.6,375.5 695.1,391.4" stroke="#7d7d7d" stroke-width="14.4" fill="none" opacity="0.35"/>
<path d="M739.3,132.8 C739,148.7 740.4,200.9 737.6,228.1 C734.7,255.3 729.4,268.9 722.3,296.2 C715.2,323.4 699.6,375.5 695.1,391.4" stroke="#fafafa" stroke-width="6" fill="none" stroke-linecap="round"/>
<path d="M701.9,245.1 C700.2,256.5 695.6,288.8 691.6,313.2 C687.7,337.5 680.3,378.4 678,391.4" stroke="#7d7d7d" stroke-width="12" fill="none" opacity="0.35"/>
<path d="M701.9,245.1 C700.2,256.5 695.6,288.8 691.6,313.2 C687.7,337.5 680.3,378.4 678,391.4" stroke="#fafafa" stroke-width="5" fill="none" stroke-linecap="round"/>
<path d="M880.5,88.6 C881.6,103.3 885.3,148.1 887.3,177.1 C889.3,206 889.8,236.6 892.4,262.1 C894.9,287.6 898.4,308.6 902.6,330.2 C906.9,351.7 915.4,381.2 917.9,391.4" stroke="#7f7f7f" stroke-width="19.2" fill="none" opacity="0.35"/>
<path d="M880.5,88.6 C881.6,103.3 885.3,148.1 887.3,177.1 C889.3,206 889.8,236.6 892.4,262.1 C894.9,287.6 898.4,308.6 902.6,330.2 C906.9,351.7 915.4,381.2 917.9,391.4" stroke="#ffffff" stroke-width="8" fill="none" stroke-linecap="round"/>
<path d="M742.7,241.7 C751.8,247.9 776.7,270.1 797.1,279.1 C817.5,288.2 843.6,290.8 865.2,296.2 C886.7,301.5 916.2,308.9 926.4,311.5" stroke="#6e6e6e" stroke-width="5.3" fill="none" opacity="0.35"/>
<path d="M742.7,241.7 C751.8,247.9 776.7,270.1 797.1,279.1 C817.5,288.2 843.6,290.8 865.2,296.2 C886.7,301.5 916.2,308.9 926.4,311.5" stroke="#dcdcdc" stroke-width="2.2" fill="none" stroke-linecap="round"/>
<path d="M797.1,88.6 C800,98.5 805.6,130.6 814.1,148.1 C822.6,165.7 838,179.3 848.2,194.1 C858.4,208.8 870.8,229.5 875.4,236.6" stroke="#696969" stroke-width="4.8" fill="none" opacity="0.35"/>
<path d="M797.1,88.6 C800,98.5 805.6,130.6 814.1,148.1 C822.6,165.7 838,179.3 848.2,194.1 C858.4,208.8 870.8,229.5 875.4,236.6" stroke="#d2d2d2" stroke-width="2" fill="none" stroke-linecap="round"/>
<path d="M771.6,185.6 C778.7,179.3 802.5,158.3 814.1,148.1 C825.8,137.9 836.8,128.3 841.4,124.3" stroke="#6e6e6e" stroke-width="4.8" fill="none" opacity="0.35"/>
<path d="M771.6,185.6 C778.7,179.3 802.5,158.3 814.1,148.1 C825.8,137.9 836.8,128.3 841.4,124.3" stroke="#dcdcdc" stroke-width="2" fill="none" stroke-linecap="round"/>
<path d="M797.1,384.6 C805.6,380.1 832.3,365.1 848.2,357.4 C864,349.7 885,341.8 892.4,338.7" stroke="#6e6e6e" stroke-width="4.8" fill="none" opacity="0.35"/>
<path d="M797.1,384.6 C805.6,380.1 832.3,365.1 848.2,357.4 C864,349.7 885,341.8 892.4,338.7" stroke="#dcdcdc" stroke-width="2" fill="none" stroke-linecap="round"/>
<path d="M861.8,287.6 L844.8,350.6" stroke="#696969" stroke-width="4.8" fill="none" opacity="0.35"/>
<path d="M861.8,287.6 L844.8,350.6" stroke="#d2d2d2" stroke-width="2" fill="none" stroke-linecap="round"/>
<path d="M625.3,318.3 C632.7,308.9 656.5,275.7 669.5,262.1 C682.6,248.5 697.9,240.9 703.6,236.6" stroke="#6e6e6e" stroke-width="6" fill="none" opacity="0.35"/>
<path d="M625.3,318.3 C632.7,308.9 656.5,275.7 669.5,262.1 C682.6,248.5 697.9,240.9 703.6,236.6" stroke="#dcdcdc" stroke-width="2.5" fill="none" stroke-linecap="round"/>
<path d="M754.6,296.2 L776.7,391.4" stroke="#696969" stroke-width="4.8" fill="none" opacity="0.35"/>
<path d="M754.6,296.2 L776.7,391.4" stroke="#d2d2d2" stroke-width="2" fill="none" stroke-linecap="round"/>
<path d="M899.2,143 C902,154.4 911.7,194.1 916.2,211.1 C920.8,228.1 924.7,239.4 926.4,245.1" stroke="#737373" stroke-width="7.2" fill="none" opacity="0.35"/>
<path d="M899.2,143 C902,154.4 911.7,194.1 916.2,211.1 C920.8,228.1 924.7,239.4 926.4,245.1" stroke="#e6e6e6" stroke-width="3" fill="none" stroke-linecap="round"/>
<path d="M638.9,134.5 C639.5,147.3 642.6,184.2 642.3,211.1 C642,238 638.1,282 637.2,296.2" stroke="#696969" stroke-width="4.8" fill="none" opacity="0.35"/>
<path d="M638.9,134.5 C639.5,147.3 642.6,184.2 642.3,211.1 C642,238 638.1,282 637.2,296.2" stroke="#d2d2d2" stroke-width="2" fill="none" stroke-linecap="round"/>
<circle cx="640.6" cy="303" r="4.5" fill="#fff"/>
<circle cx="812.4" cy="302.1" r="4" fill="#fff"/>
<circle cx="815.8" cy="149.8" r="3" fill="#fff"/>
<circle cx="846.5" cy="228.1" r="3" fill="#fff"/>
<circle cx="749.5" cy="177.1" r="2.5" fill="#fff"/>
<circle cx="773.3" cy="183.9" r="2.5" fill="#fff"/>
<circle cx="674.6" cy="224.7" r="2.5" fill="#fff"/>
<circle cx="882.2" cy="299.6" r="2.5" fill="#fff"/>
<circle cx="780.1" cy="289.3" r="3" fill="#fff"/>
<circle cx="646.6" cy="139" r="1.9" fill="#c7c7c7"/>
<circle cx="876.2" cy="243.6" r="2.4" fill="#bcbcbc"/>
<circle cx="748.6" cy="119.5" r="3.2" fill="#cccccc"/>
<circle cx="817.8" cy="195.9" r="2.2" fill="#b9b9b9"/>
<circle cx="686.1" cy="381.4" r="2.6" fill="#e7e7e7"/>
<circle cx="792.7" cy="169.8" r="1.9" fill="#e9e9e9"/>
<circle cx="866.1" cy="154.6" r="2.6" fill="#b8b8b8"/>
<circle cx="791.2" cy="99.8" r="3.1" fill="#adadad"/>
<circle cx="843.5" cy="320.3" r="2.7" fill="#bfbfbf"/>
<circle cx="646.7" cy="148.5" r="2.8" fill="#f6f6f6"/>
<circle cx="764.9" cy="148" r="3.3" fill="#aaaaaa"/>
<circle cx="812.3" cy="306.8" r="1.8" fill="#dbdbdb"/>
<circle cx="698.7" cy="160.7" r="2.7" fill="#b2b2b2"/>
<circle cx="805.2" cy="176" r="3.5" fill="#cbcbcb"/>
<circle cx="676" cy="350.2" r="2.8" fill="#bebebe"/>
<circle cx="661.6" cy="132.2" r="3.1" fill="#c3c3c3"/>
<circle cx="889.7" cy="334.8" r="1.6" fill="#b8b8b8"/>
<circle cx="859" cy="268.5" r="2.1" fill="#dadada"/>
<circle cx="719.1" cy="123.5" r="3.4" fill="#ababab"/>
<circle cx="744" cy="366.3" r="2.4" fill="#fbfbfb"/>
<circle cx="807.4" cy="297.4" r="2.9" fill="#f0f0f0"/>
<circle cx="629.2" cy="287.7" r="1.9" fill="#e6e6e6"/>
<circle cx="799.6" cy="294.6" r="3.1" fill="#ececec"/>
<circle cx="766" cy="133.7" r="2.5" fill="#d6d6d6"/>
<circle cx="782.2" cy="173.8" r="1.7" fill="#f9f9f9"/>
<circle cx="715.3" cy="171.7" r="3" fill="#bbbbbb"/>
<circle cx="717.9" cy="317.8" r="2.5" fill="#f5f5f5"/>
<circle cx="789" cy="197.4" r="1.8" fill="#d4d4d4"/>
<circle cx="780" cy="192.2" r="1.8" fill="#cfcfcf"/>
<circle cx="662.2" cy="185.8" r="3" fill="#f2f2f2"/>
<circle cx="694.8" cy="318.8" r="3.5" fill="#d3d3d3"/>
<circle cx="874.2" cy="290.9" r="2.2" fill="#f1f1f1"/>
<circle cx="706.3" cy="346.6" r="2.6" fill="#aeaeae"/>
<circle cx="768.6" cy="307.2" r="3" fill="#cbcbcb"/>
<circle cx="809.9" cy="180.2" r="1.6" fill="#b7b7b7"/>
<circle cx="866.2" cy="145.9" r="2.6" fill="#bcbcbc"/>
<circle cx="713.2" cy="284.8" r="2.4" fill="#d8d8d8"/>
<circle cx="686" cy="360.7" r="1.7" fill="#ececec"/>
<circle cx="913.7" cy="345.2" r="2.2" fill="#c2c2c2"/>
<circle cx="858.7" cy="273.6" r="3.5" fill="#efefef"/>
<circle cx="628" cy="259.1" r="2.3" fill="#bababa"/>
<circle cx="918.4" cy="294.1" r="2.2" fill="#d5d5d5"/>
<circle cx="800.9" cy="364.1" r="2" fill="#c7c7c7"/>
<circle cx="772.7" cy="223.2" r="1.9" fill="#bdbdbd"/>
<circle cx="730.3" cy="354.9" r="2.4" fill="#e0e0e0"/>
</g></g>
<rect x="627" y="92" width="139.5" height="39" fill="#000"/>
<text transform="translate(637.35,120.71) scale(1.0663,1)" font-size="28.98" style="font-weight:normal" fill="#fff">Calcein</text>
<defs><clipPath id="cp4"><rect x="3" y="396" width="295" height="296"/></clipPath><filter id="fp4" filterUnits="userSpaceOnUse" x="-2" y="391" width="305" height="306"><feGaussianBlur stdDeviation="0.6"/></filter></defs>
<g clip-path="url(#cp4)"><rect x="3" y="396" width="295" height="296" fill="#000"/>
<filter id="spk6" filterUnits="userSpaceOnUse" x="3" y="396" width="295" height="296"><feTurbulence type="fractalNoise" baseFrequency="0.3" numOctaves="2" seed="5"/><feColorMatrix type="matrix" values="3 0 0 0 -2.05 3 0 0 0 -2.05 3 0 0 0 -2.05 0 0 0 0 1"/><feGaussianBlur stdDeviation="0.6"/></filter>
<rect x="3" y="396" width="295" height="296" filter="url(#spk6)" opacity="0.2" style="mix-blend-mode:screen"/>
<g filter="url(#fp4)">
<path d="M-56,613.9 -52.2,621 -48.2,627.9" stroke="#3b3b3b" stroke-width="0.69" fill="none" stroke-linejoin="round" stroke-linecap="round"/>
<circle cx="-52.2" cy="621" r="1.2" fill="#5a5a5a"/>
<circle cx="-48.2" cy="627.9" r="1.4" fill="#666666"/>
<circle cx="-48.2" cy="627.9" r="0.8" fill="#787878"/>
<circle cx="-52.2" cy="621" r="0.9" fill="#595959"/>
<circle cx="-56" cy="613.9" r="1" fill="#626262"/>
<circle cx="-48.2" cy="627.9" r="0.8" fill="#464646"/>
<circle cx="-56" cy="613.9" r="0.7" fill="#818181"/>
<circle cx="-56" cy="613.9" r="1" fill="#797979"/>
<circle cx="-52.2" cy="621" r="1.4" fill="#737373"/>
<circle cx="-52.2" cy="621" r="0.7" fill="#5c5c5c"/>
<circle cx="-56" cy="613.9" r="0.9" fill="#6b6b6b"/>
<circle cx="-52.2" cy="621" r="0.9" fill="#5e5e5e"/>
<circle cx="-48.2" cy="627.9" r="1.1" fill="#777777"/>
<circle cx="-48.2" cy="627.9" r="0.7" fill="#3e3e3e"/>
<circle cx="-48.2" cy="627.9" r="0.8" fill="#565656"/>
<circle cx="-52.2" cy="621" r="1.2" fill="#595959"/>
<path d="M-19.5,481.7 -15.1,488.4 -10.6,495 -6.4,501.8 -2.2,508.6 2.1,515.4 6.5,522 10.7,528.8 14.9,535.7 19.1,542.5 23.1,549.4 27.2,556.3 31.3,563.1 35.5,570 39.6,576.8 43.5,583.8 47.4,590.8 51,597.9 54.6,605.1 58,612.3 61,619.7 64.1,627.1 67.3,634.5 70.5,641.8 73.3,649.3 76.2,656.7 79.1,664.2 82.4,671.5 85.9,678.7 89.3,685.9 92.5,693.2 96,700.4 99.6,707.6 102.9,714.9" stroke="#414141" stroke-width="0.68" fill="none" stroke-linejoin="round" stroke-linecap="round"/>
<circle cx="31.3" cy="563.1" r="1.2" fill="#767676"/>
<circle cx="102.9" cy="714.9" r="0.8" fill="#727272"/>
<circle cx="6.5" cy="522" r="1.3" fill="#414141"/>
<circle cx="39.6" cy="576.8" r="0.7" fill="#636363"/>
<circle cx="54.6" cy="605.1" r="0.6" fill="#555555"/>
<circle cx="85.9" cy="678.7" r="0.8" fill="#3c3c3c"/>
<circle cx="76.2" cy="656.7" r="0.8" fill="#585858"/>
<circle cx="61" cy="619.7" r="1.2" fill="#525252"/>
<circle cx="102.9" cy="714.9" r="1.3" fill="#777777"/>
<circle cx="39.6" cy="576.8" r="1.2" fill="#3c3c3c"/>
<circle cx="92.5" cy="693.2" r="0.8" fill="#767676"/>
<circle cx="89.3" cy="685.9" r="1.2" fill="#4d4d4d"/>
<circle cx="76.2" cy="656.7" r="0.6" fill="#525252"/>
<circle cx="102.9" cy="714.9" r="0.9" fill="#6b6b6b"/>
<circle cx="82.4" cy="671.5" r="1" fill="#555555"/>
<circle cx="6.5" cy="522" r="1" fill="#666666"/>
<path d="M-19.2,440.5 -13.8,446.4 -8.3,452.2 -2.8,458 2.6,463.9 8,469.8 13.4,475.7 18.5,481.9 23.7,488 28.8,494.1 33.8,500.3 38.8,506.6 43.8,512.8 49.1,518.9 54.1,525.1 59,531.4 63.5,538 68.4,544.4 73.2,550.8 78,557.1 82.9,563.5 87.8,569.8 92.7,576.1 97.7,582.4 102.7,588.6 107.6,594.9 112.7,601.1 117.7,607.4 122.8,613.5 128.1,619.5 133.3,625.6 138.5,631.6 143.8,637.6 149.4,643.4 154.8,649.3 160.2,655.2 165.5,661.2 170.4,667.5 175,674 179.3,680.8 183.9,687.3 188.8,693.7 193.6,700 198.3,706.5 202.9,713.1" stroke="#262626" stroke-width="0.9" fill="none" stroke-linejoin="round" stroke-linecap="round"/>
<circle cx="183.9" cy="687.3" r="1.1" fill="#626262"/>
<circle cx="175" cy="674" r="0.9" fill="#7b7b7b"/>
<circle cx="38.8" cy="506.6" r="0.8" fill="#6c6c6c"/>
<circle cx="23.7" cy="488" r="0.9" fill="#515151"/>
<circle cx="122.8" cy="613.5" r="0.7" fill="#646464"/>
<circle cx="-13.8" cy="446.4" r="1.2" fill="#747474"/>
<circle cx="170.4" cy="667.5" r="1.4" fill="#5b5b5b"/>
<circle cx="122.8" cy="613.5" r="1" fill="#4f4f4f"/>
<circle cx="49.1" cy="518.9" r="1.3" fill="#595959"/>
<circle cx="160.2" cy="655.2" r="1.2" fill="#5a5a5a"/>
<circle cx="68.4" cy="544.4" r="0.6" fill="#4f4f4f"/>
<circle cx="133.3" cy="625.6" r="1" fill="#737373"/>
<circle cx="2.6" cy="463.9" r="1.3" fill="#808080"/>
<circle cx="198.3" cy="706.5" r="0.8" fill="#3d3d3d"/>
<circle cx="28.8" cy="494.1" r="0.7" fill="#505050"/>
<circle cx="188.8" cy="693.7" r="1.1" fill="#757575"/>
<path d="M37.4,375.7 42.3,382 47.1,388.4 51.9,394.8 56.8,401.2 61.5,407.7 66.1,414.2 71,420.5 75.5,427.1 79.8,433.9 83.8,440.8 87.9,447.7 92.2,454.4 96.6,461.1 101.1,467.7 105.9,474.1 110.7,480.5 115.6,486.8 119.8,493.6 124.4,500.2 129.3,506.5 134.2,512.8 139.1,519.1 143.8,525.6 148.6,532 153.2,538.6 157.5,545.3 162.1,551.9 166.9,558.2 171.9,564.5 176.8,570.8 181.9,577 187,583.2 192.1,589.3 197,595.6 201.8,602.1 206.4,608.6 211,615.1 215.5,621.7 220.4,628.1 225.2,634.4 230.4,640.6 235.3,646.9 240.3,653.1 245.5,659.2 250.7,665.2 255.5,671.7 260.5,677.9 265.1,684.5 269.7,691 273.7,697.9 277.9,704.7 282.2,711.5 286.5,718.2" stroke="#262626" stroke-width="0.85" fill="none" stroke-linejoin="round" stroke-linecap="round"/>
<circle cx="148.6" cy="532" r="0.9" fill="#4d4d4d"/>
<circle cx="124.4" cy="500.2" r="0.9" fill="#474747"/>
<circle cx="153.2" cy="538.6" r="1.1" fill="#505050"/>
<circle cx="273.7" cy="697.9" r="0.9" fill="#6d6d6d"/>
<circle cx="162.1" cy="551.9" r="1.3" fill="#4a4a4a"/>
<circle cx="66.1" cy="414.2" r="1.2" fill="#767676"/>
<circle cx="148.6" cy="532" r="1.3" fill="#585858"/>
<circle cx="211" cy="615.1" r="1" fill="#3d3d3d"/>
<circle cx="206.4" cy="608.6" r="0.9" fill="#676767"/>
<circle cx="37.4" cy="375.7" r="1.4" fill="#5e5e5e"/>
<circle cx="273.7" cy="697.9" r="0.9" fill="#5d5d5d"/>
<circle cx="286.5" cy="718.2" r="0.6" fill="#414141"/>
<circle cx="235.3" cy="646.9" r="0.9" fill="#6c6c6c"/>
<circle cx="79.8" cy="433.9" r="0.9" fill="#7e7e7e"/>
<circle cx="166.9" cy="558.2" r="0.8" fill="#606060"/>
<circle cx="134.2" cy="512.8" r="0.9" fill="#4c4c4c"/>
<path d="M7.7,373 12.3,379.5 16.8,386.1 21.4,392.6 25.8,399.3 30.3,405.9 34.8,412.5 39.3,419.1 43.8,425.8 48,432.6 52.5,439.2 56.9,445.9 61.5,452.5 66.2,458.9 70.9,465.4 75.5,471.9 80.3,478.3 85.1,484.7 89.9,491.1 94.4,497.7 98.9,504.4 103.4,511 108,517.5 112.8,523.9 117.7,530.2 122.8,536.4 127.9,542.6 133.1,548.7 138.1,554.9 143,561.2 147.7,567.7 152.3,574.2 157.1,580.6 161.8,587.1 166.4,593.7 170.9,600.2 175,607.1 179.4,613.8 183.5,620.7 187.6,627.6 191.8,634.4 196.3,641 200.9,647.5 205.5,654.1 210.2,660.5 215.1,666.9 220,673.2 224.9,679.5 229.8,685.8 234.6,692.3 239.3,698.7 244.3,705 249.3,711.2 253.9,717.7" stroke="#262626" stroke-width="1.07" fill="none" stroke-linejoin="round" stroke-linecap="round"/>
<circle cx="161.8" cy="587.1" r="1.2" fill="#535353"/>
<circle cx="143" cy="561.2" r="0.6" fill="#404040"/>
<circle cx="16.8" cy="386.1" r="0.9" fill="#727272"/>
<circle cx="94.4" cy="497.7" r="1" fill="#7d7d7d"/>
<circle cx="166.4" cy="593.7" r="1.2" fill="#797979"/>
<circle cx="175" cy="607.1" r="0.9" fill="#666666"/>
<circle cx="127.9" cy="542.6" r="0.7" fill="#7b7b7b"/>
<circle cx="138.1" cy="554.9" r="1.1" fill="#4a4a4a"/>
<circle cx="152.3" cy="574.2" r="1" fill="#4c4c4c"/>
<circle cx="253.9" cy="717.7" r="0.6" fill="#4c4c4c"/>
<circle cx="215.1" cy="666.9" r="1.1" fill="#808080"/>
<circle cx="234.6" cy="692.3" r="1.1" fill="#6f6f6f"/>
<circle cx="234.6" cy="692.3" r="1" fill="#707070"/>
<circle cx="117.7" cy="530.2" r="0.9" fill="#707070"/>
<circle cx="12.3" cy="379.5" r="1.2" fill="#474747"/>
<circle cx="170.9" cy="600.2" r="1.2" fill="#464646"/>
<path d="M35.5,373.9 40.5,380.2 45.5,386.4 50.6,392.5 55.4,399 59.8,405.6 64.5,412.1 69.3,418.5 74,425 78.7,431.4 83.3,438 87.9,444.5 92.6,451 97,457.7 101.5,464.3 106,470.9 110.7,477.4 115.7,483.7 120.6,490 125.7,496.1 130.6,502.5 135.5,508.8 140.2,515.3 145.3,521.5 150.2,527.7 155.4,533.9 160.4,540.1 165.6,546.2 170.8,552.2 176.1,558.2 181,564.5 186.5,570.3 192.1,576 197.8,581.7 203.7,587.1 209.4,592.7 215.1,598.3 220.5,604.2 225.7,610.3 230.9,616.4 235.9,622.6 241,628.8 246.1,635 251.2,641.1 256.4,647.2 261.5,653.3 267.2,658.9 272.9,664.6 278.8,670 284.6,675.5 290.6,680.8 296.3,686.4 301.8,692.3 307.2,698.1 312.8,703.8 318.3,709.6" stroke="#464646" stroke-width="0.83" fill="none" stroke-linejoin="round" stroke-linecap="round"/>
<circle cx="150.2" cy="527.7" r="1.2" fill="#4a4a4a"/>
<circle cx="278.8" cy="670" r="1" fill="#767676"/>
<circle cx="130.6" cy="502.5" r="1.4" fill="#767676"/>
<circle cx="272.9" cy="664.6" r="0.7" fill="#6f6f6f"/>
<circle cx="278.8" cy="670" r="1" fill="#474747"/>
<circle cx="176.1" cy="558.2" r="1.3" fill="#7f7f7f"/>
<circle cx="69.3" cy="418.5" r="1.1" fill="#414141"/>
<circle cx="272.9" cy="664.6" r="1.2" fill="#636363"/>
<circle cx="312.8" cy="703.8" r="1.2" fill="#5f5f5f"/>
<circle cx="35.5" cy="373.9" r="1" fill="#5b5b5b"/>
<circle cx="235.9" cy="622.6" r="1.4" fill="#535353"/>
<circle cx="170.8" cy="552.2" r="1.4" fill="#4f4f4f"/>
<circle cx="186.5" cy="570.3" r="1.3" fill="#545454"/>
<circle cx="40.5" cy="380.2" r="0.8" fill="#5c5c5c"/>
<circle cx="246.1" cy="635" r="1" fill="#6e6e6e"/>
<circle cx="278.8" cy="670" r="0.8" fill="#818181"/>
<path d="M139.6,375.7 143.3,382.8 147.2,389.8 150.9,396.9 154.6,404 158.5,411 162.5,417.9 165.8,425.2 169.1,432.5 172.1,439.9 175.4,447.2 178.8,454.4 182.3,461.6 185.7,468.8 189.1,476.1 192.8,483.2 196.3,490.4 199.5,497.7 203.1,504.8 206.8,511.9 210.7,518.9 214.5,526 218,533.2 221.8,540.2 225.6,547.2 229.8,554.1 233.5,561.2 236.9,568.4 240.7,575.5 244.7,582.4 248.4,589.5 251.8,596.7 255,604 258.7,611.1 262.6,618.1 266.4,625.1 269.3,632.6 272.3,640 275.6,647.3 278.9,654.6 282.4,661.8 286.1,668.9 289.7,676 293.6,683 297.4,690.1 301.1,697.1 304.9,704.2 308.6,711.3 311.8,718.6" stroke="#494949" stroke-width="1.03" fill="none" stroke-linejoin="round" stroke-linecap="round"/>
<circle cx="293.6" cy="683" r="1.1" fill="#575757"/>
<circle cx="258.7" cy="611.1" r="1.2" fill="#616161"/>
<circle cx="214.5" cy="526" r="0.9" fill="#818181"/>
<circle cx="192.8" cy="483.2" r="0.7" fill="#797979"/>
<circle cx="206.8" cy="511.9" r="1.1" fill="#5a5a5a"/>
<circle cx="206.8" cy="511.9" r="0.9" fill="#727272"/>
<circle cx="240.7" cy="575.5" r="1.3" fill="#7b7b7b"/>
<circle cx="206.8" cy="511.9" r="1" fill="#696969"/>
<circle cx="143.3" cy="382.8" r="1.4" fill="#818181"/>
<circle cx="162.5" cy="417.9" r="1.1" fill="#414141"/>
<circle cx="158.5" cy="411" r="1.2" fill="#5c5c5c"/>
<circle cx="175.4" cy="447.2" r="1.4" fill="#7c7c7c"/>
<circle cx="258.7" cy="611.1" r="0.9" fill="#505050"/>
<circle cx="165.8" cy="425.2" r="1" fill="#727272"/>
<circle cx="282.4" cy="661.8" r="1" fill="#787878"/>
<circle cx="275.6" cy="647.3" r="0.7" fill="#414141"/>
<path d="M233.6,372 237.2,379.1 240.6,386.4 244.3,393.5 248.1,400.5 251.7,407.7 255.2,414.8 258.8,422 262.5,429.1 266,436.3 269.8,443.3 273.8,450.3 278,457.1 282,464 285.9,471 289.5,478.1 293,485.3 296.7,492.4 300.5,499.5 304.3,506.5 307.9,513.6 311.4,520.9 314.6,528.2 317.8,535.5 321,542.9" stroke="#242424" stroke-width="1.08" fill="none" stroke-linejoin="round" stroke-linecap="round"/>
<circle cx="293" cy="485.3" r="1.2" fill="#646464"/>
<circle cx="289.5" cy="478.1" r="1.1" fill="#515151"/>
<circle cx="314.6" cy="528.2" r="1.3" fill="#5d5d5d"/>
<circle cx="304.3" cy="506.5" r="1" fill="#484848"/>
<circle cx="266" cy="436.3" r="1.4" fill="#3e3e3e"/>
<circle cx="307.9" cy="513.6" r="1.3" fill="#4b4b4b"/>
<circle cx="282" cy="464" r="1.4" fill="#686868"/>
<circle cx="251.7" cy="407.7" r="1.4" fill="#494949"/>
<circle cx="251.7" cy="407.7" r="1.3" fill="#4d4d4d"/>
<circle cx="307.9" cy="513.6" r="0.7" fill="#4b4b4b"/>
<circle cx="304.3" cy="506.5" r="0.8" fill="#656565"/>
<circle cx="296.7" cy="492.4" r="1.2" fill="#787878"/>
<circle cx="314.6" cy="528.2" r="1.3" fill="#4a4a4a"/>
<circle cx="266" cy="436.3" r="1.1" fill="#636363"/>
<circle cx="293" cy="485.3" r="1.1" fill="#626262"/>
<circle cx="258.8" cy="422" r="0.9" fill="#5d5d5d"/>
<path d="M342.5,499.4 347.4,505.8 352.3,512.1" stroke="#3c3c3c" stroke-width="0.83" fill="none" stroke-linejoin="round" stroke-linecap="round"/>
<circle cx="352.3" cy="512.1" r="1.1" fill="#3c3c3c"/>
<circle cx="347.4" cy="505.8" r="0.9" fill="#484848"/>
<circle cx="342.5" cy="499.4" r="1.3" fill="#5d5d5d"/>
<circle cx="342.5" cy="499.4" r="1" fill="#5d5d5d"/>
<circle cx="342.5" cy="499.4" r="1.2" fill="#5c5c5c"/>
<circle cx="342.5" cy="499.4" r="1" fill="#747474"/>
<circle cx="347.4" cy="505.8" r="1.3" fill="#535353"/>
<circle cx="342.5" cy="499.4" r="0.9" fill="#6f6f6f"/>
<circle cx="347.4" cy="505.8" r="1.2" fill="#747474"/>
<circle cx="347.4" cy="505.8" r="0.7" fill="#6e6e6e"/>
<circle cx="347.4" cy="505.8" r="1" fill="#737373"/>
<circle cx="342.5" cy="499.4" r="1.1" fill="#7b7b7b"/>
<circle cx="352.3" cy="512.1" r="0.9" fill="#5c5c5c"/>
<circle cx="342.5" cy="499.4" r="1.2" fill="#7c7c7c"/>
<circle cx="352.3" cy="512.1" r="1.2" fill="#7c7c7c"/>
<circle cx="347.4" cy="505.8" r="1" fill="#7d7d7d"/>
<path d="M1.3,504.9 C10.1,512.3 36.7,531.8 54,549.1 C71.3,566.4 89.5,588.8 105.1,608.7 C120.7,628.5 136.3,653.7 147.6,668.2 C158.9,682.7 168.9,690.9 173.1,695.4" stroke="#6e6e6e" stroke-width="1.6" fill="none" stroke-linecap="round"/>
<path d="M125.5,394.3 C130.6,403.1 145.3,428.3 156.1,447 C166.9,465.8 178.8,483.9 190.1,506.6 C201.5,529.3 212.8,559 224.2,583.1 C235.5,607.2 252.5,639.8 258.2,651.2" stroke="#505050" stroke-width="1.2" fill="none" stroke-linecap="round"/>
<path d="M28.5,394.3 C34.2,403.1 49.8,426.9 62.5,447 C75.3,467.2 89.5,492.4 105.1,515.1 C120.7,537.8 147.6,571.8 156.1,583.1" stroke="#505050" stroke-width="1.2" fill="none" stroke-linecap="round"/>
<path d="M207.2,394.3 C212.8,403.1 227,426.9 241.2,447 C255.4,467.2 283.7,503.7 292.2,515.1" stroke="#464646" stroke-width="1" fill="none" stroke-linecap="round"/>
<circle cx="241.2" cy="417.3" r="5.5" fill="#999" stroke="#eee" stroke-width="1.5"/>
<circle cx="283.7" cy="407.9" r="3.5" fill="#555" stroke="#999" stroke-width="1.5"/>
<circle cx="231.8" cy="436.8" r="3" fill="#555" stroke="#888" stroke-width="1.5"/>
<circle cx="259" cy="464" r="4" fill="#777" stroke="#ccc" stroke-width="1.5"/>
<circle cx="226.2" cy="484.1" r="5" fill="#aaa" stroke="#fff" stroke-width="1.5"/>
<circle cx="286.3" cy="491.3" r="3.8" fill="#777" stroke="#bbb" stroke-width="1.5"/>
<circle cx="211.4" cy="533" r="5.5" fill="#555" stroke="#ccc" stroke-width="1.5"/>
<circle cx="248" cy="600.2" r="8" fill="#aaa" stroke="#fff" stroke-width="1.5"/>
<circle cx="90.6" cy="540.6" r="4.5" fill="#fff" stroke="#fff" stroke-width="1.5"/>
<circle cx="98.3" cy="587.9" r="2.5" fill="#fff" stroke="#fff" stroke-width="1.5"/>
<circle cx="113.2" cy="586.5" r="3.5" fill="#eee" stroke="#fff" stroke-width="1.5"/>
<circle cx="190.1" cy="503.2" r="2.5" fill="#555" stroke="#777" stroke-width="1.5"/>
<circle cx="258.2" cy="562.7" r="2.5" fill="#666" stroke="#888" stroke-width="1.5"/>
<circle cx="147.6" cy="669" r="4" fill="#ccc" stroke="#eee" stroke-width="1.5"/>
<circle cx="120.4" cy="632.5" r="3" fill="#666" stroke="#888" stroke-width="1.5"/>
<circle cx="66" cy="453.8" r="4" fill="#444" stroke="#777" stroke-width="1.5"/>
<circle cx="11.5" cy="510" r="3.5" fill="#555" stroke="#777" stroke-width="1.5"/>
<ellipse cx="200.3" cy="596.7" rx="5" ry="1.8" fill="#fff"/>
</g></g>
<defs><clipPath id="cp5"><rect x="308" y="396" width="296" height="296"/></clipPath><filter id="fp5" filterUnits="userSpaceOnUse" x="303" y="391" width="306" height="306"><feGaussianBlur stdDeviation="1.0"/></filter></defs>
<g clip-path="url(#cp5)"><rect x="308" y="396" width="296" height="296" fill="#000"/>
<filter id="spk7" filterUnits="userSpaceOnUse" x="308" y="396" width="296" height="296"><feTurbulence type="fractalNoise" baseFrequency="0.25" numOctaves="2" seed="6"/><feColorMatrix type="matrix" values="6 0 0 0 -4.1 6 0 0 0 -4.1 6 0 0 0 -4.1 0 0 0 0 1"/><feGaussianBlur stdDeviation="0.6"/></filter>
<rect x="308" y="396" width="296" height="296" filter="url(#spk7)" opacity="0.6" style="mix-blend-mode:screen"/>
<filter id="spk8" filterUnits="userSpaceOnUse" x="308" y="396" width="296" height="296"><feTurbulence type="fractalNoise" baseFrequency="0.13" numOctaves="2" seed="26"/><feColorMatrix type="matrix" values="5 0 0 0 -3.45 5 0 0 0 -3.45 5 0 0 0 -3.45 0 0 0 0 1"/><feGaussianBlur stdDeviation="0.6"/></filter>
<rect x="308" y="396" width="296" height="296" filter="url(#spk8)" opacity="0.95" style="mix-blend-mode:screen"/>
<filter id="spk9" filterUnits="userSpaceOnUse" x="308" y="396" width="296" height="296"><feTurbulence type="fractalNoise" baseFrequency="0.07" numOctaves="2" seed="16"/><feColorMatrix type="matrix" values="4 0 0 0 -2.8 4 0 0 0 -2.8 4 0 0 0 -2.8 0 0 0 0 1"/><feGaussianBlur stdDeviation="0.6"/></filter>
<rect x="308" y="396" width="296" height="296" filter="url(#spk9)" opacity="0.75" style="mix-blend-mode:screen"/>
<g filter="url(#fp5)">
<path d="M155.1,495.8 159.2,489 163.1,482" stroke="#585858" stroke-width="5.98" fill="none" opacity="0.35" stroke-linejoin="round"/>
<path d="M155.1,495.8 159.2,489 163.1,482" stroke="#a1a1a1" stroke-width="2.3" fill="none" stroke-linejoin="round" stroke-linecap="round"/>
<circle cx="155.1" cy="495.8" r="2.5" fill="#f3f3f3"/>
<circle cx="159.2" cy="489" r="4" fill="#e1e1e1"/>
<circle cx="155.1" cy="495.8" r="4.8" fill="#dddddd"/>
<circle cx="159.2" cy="489" r="2.3" fill="#e9e9e9"/>
<circle cx="163.1" cy="482" r="4.5" fill="#d0d0d0"/>
<circle cx="163.1" cy="482" r="3.5" fill="#fefefe"/>
<circle cx="159.2" cy="489" r="2.8" fill="#f6f6f6"/>
<circle cx="159.2" cy="489" r="4.4" fill="#fefefe"/>
<circle cx="155.1" cy="495.8" r="5" fill="#cacaca"/>
<circle cx="159.2" cy="489" r="4.5" fill="#fafafa"/>
<circle cx="155.1" cy="495.8" r="3.8" fill="#f9f9f9"/>
<circle cx="155.1" cy="495.8" r="4.2" fill="#e8e8e8"/>
<circle cx="163.1" cy="482" r="4.8" fill="#cdcdcd"/>
<circle cx="155.1" cy="495.8" r="2.9" fill="#e9e9e9"/>
<circle cx="159.2" cy="489" r="2.9" fill="#d8d8d8"/>
<circle cx="155.1" cy="495.8" r="4.4" fill="#fdfdfd"/>
<circle cx="155.1" cy="495.8" r="4.5" fill="#d8d8d8"/>
<circle cx="159.2" cy="489" r="4.9" fill="#efefef"/>
<circle cx="159.2" cy="489" r="2.9" fill="#fcfcfc"/>
<circle cx="159.2" cy="489" r="2.8" fill="#e7e7e7"/>
<circle cx="159.2" cy="489" r="3.1" fill="#cbcbcb"/>
<circle cx="159.2" cy="489" r="4.1" fill="#f4f4f4"/>
<path d="M194,553.5 197.6,546.4 201.3,539.3" stroke="#5a5a5a" stroke-width="7.73" fill="none" opacity="0.35" stroke-linejoin="round"/>
<path d="M194,553.5 197.6,546.4 201.3,539.3" stroke="#a5a5a5" stroke-width="2.97" fill="none" stroke-linejoin="round" stroke-linecap="round"/>
<circle cx="201.3" cy="539.3" r="4.3" fill="#f0f0f0"/>
<circle cx="197.6" cy="546.4" r="2.4" fill="#fafafa"/>
<circle cx="201.3" cy="539.3" r="2.2" fill="#cccccc"/>
<circle cx="201.3" cy="539.3" r="4.8" fill="#f6f6f6"/>
<circle cx="201.3" cy="539.3" r="2.6" fill="#e1e1e1"/>
<circle cx="194" cy="553.5" r="3.7" fill="#ececec"/>
<circle cx="194" cy="553.5" r="3.8" fill="#cccccc"/>
<circle cx="197.6" cy="546.4" r="4.2" fill="#cdcdcd"/>
<circle cx="194" cy="553.5" r="2.2" fill="#d2d2d2"/>
<circle cx="197.6" cy="546.4" r="3.7" fill="#e8e8e8"/>
<circle cx="194" cy="553.5" r="3.9" fill="#fcfcfc"/>
<circle cx="201.3" cy="539.3" r="3.8" fill="#fefefe"/>
<circle cx="201.3" cy="539.3" r="3.8" fill="#dcdcdc"/>
<circle cx="201.3" cy="539.3" r="4.6" fill="#f6f6f6"/>
<circle cx="194" cy="553.5" r="4.9" fill="#cfcfcf"/>
<circle cx="197.6" cy="546.4" r="2.6" fill="#fefefe"/>
<circle cx="194" cy="553.5" r="2" fill="#f6f6f6"/>
<circle cx="201.3" cy="539.3" r="2" fill="#f8f8f8"/>
<circle cx="194" cy="553.5" r="2.3" fill="#d4d4d4"/>
<circle cx="197.6" cy="546.4" r="2.2" fill="#f2f2f2"/>
<circle cx="201.3" cy="539.3" r="5" fill="#fefefe"/>
<circle cx="197.6" cy="546.4" r="2.4" fill="#e5e5e5"/>
<path d="M239.1,512.3 242.9,505.3 246.9,498.3" stroke="#616161" stroke-width="5.8" fill="none" opacity="0.35" stroke-linejoin="round"/>
<path d="M239.1,512.3 242.9,505.3 246.9,498.3" stroke="#b2b2b2" stroke-width="2.23" fill="none" stroke-linejoin="round" stroke-linecap="round"/>
<circle cx="242.9" cy="505.3" r="3.5" fill="#d5d5d5"/>
<circle cx="242.9" cy="505.3" r="2.1" fill="#c9c9c9"/>
<circle cx="242.9" cy="505.3" r="3.3" fill="#f6f6f6"/>
<circle cx="242.9" cy="505.3" r="3.8" fill="#d4d4d4"/>
<circle cx="239.1" cy="512.3" r="3.7" fill="#d6d6d6"/>
<circle cx="242.9" cy="505.3" r="3.3" fill="#d5d5d5"/>
<circle cx="246.9" cy="498.3" r="3.4" fill="#d5d5d5"/>
<circle cx="242.9" cy="505.3" r="2.1" fill="#c9c9c9"/>
<circle cx="242.9" cy="505.3" r="3.7" fill="#cacaca"/>
<circle cx="239.1" cy="512.3" r="4.6" fill="#ededed"/>
<circle cx="239.1" cy="512.3" r="4.1" fill="#f8f8f8"/>
<circle cx="239.1" cy="512.3" r="2.1" fill="#c8c8c8"/>
<circle cx="246.9" cy="498.3" r="3.5" fill="#f5f5f5"/>
<circle cx="239.1" cy="512.3" r="2.1" fill="#c9c9c9"/>
<circle cx="242.9" cy="505.3" r="2.5" fill="#d9d9d9"/>
<circle cx="242.9" cy="505.3" r="3.1" fill="#cfcfcf"/>
<circle cx="246.9" cy="498.3" r="2.6" fill="#d9d9d9"/>
<circle cx="239.1" cy="512.3" r="3.8" fill="#dadada"/>
<circle cx="242.9" cy="505.3" r="3.3" fill="#d4d4d4"/>
<circle cx="239.1" cy="512.3" r="2.3" fill="#cecece"/>
<circle cx="242.9" cy="505.3" r="4.2" fill="#dbdbdb"/>
<circle cx="246.9" cy="498.3" r="3.9" fill="#d4d4d4"/>
<path d="M283.3,558.7 287.5,551.9 291.8,545.2 296,538.3 300.4,531.7 304.7,525 309.2,518.3 313.7,511.7 318.4,505.3 323.1,498.7 327.6,492.2 332,485.4 336.6,479 341.3,472.5 345.9,465.9 350.8,459.6 355.4,453 359.9,446.4 364,439.6 368.1,432.7 372.3,425.9 376.3,418.9 380.4,412.1 384.5,405.2 388.4,398.2 392.5,391.4 396.8,384.6 401.1,377.9 405.9,371.4" stroke="#6e6e6e" stroke-width="5.93" fill="none" opacity="0.35" stroke-linejoin="round"/>
<path d="M283.3,558.7 287.5,551.9 291.8,545.2 296,538.3 300.4,531.7 304.7,525 309.2,518.3 313.7,511.7 318.4,505.3 323.1,498.7 327.6,492.2 332,485.4 336.6,479 341.3,472.5 345.9,465.9 350.8,459.6 355.4,453 359.9,446.4 364,439.6 368.1,432.7 372.3,425.9 376.3,418.9 380.4,412.1 384.5,405.2 388.4,398.2 392.5,391.4 396.8,384.6 401.1,377.9 405.9,371.4" stroke="#c8c8c8" stroke-width="2.28" fill="none" stroke-linejoin="round" stroke-linecap="round"/>
<circle cx="396.8" cy="384.6" r="4.4" fill="#cfcfcf"/>
<circle cx="318.4" cy="505.3" r="4.3" fill="#f7f7f7"/>
<circle cx="405.9" cy="371.4" r="2.3" fill="#dfdfdf"/>
<circle cx="364" cy="439.6" r="3.9" fill="#e3e3e3"/>
<circle cx="396.8" cy="384.6" r="3.7" fill="#f0f0f0"/>
<circle cx="341.3" cy="472.5" r="3.3" fill="#f7f7f7"/>
<circle cx="380.4" cy="412.1" r="4.3" fill="#cccccc"/>
<circle cx="318.4" cy="505.3" r="3.6" fill="#d1d1d1"/>
<circle cx="396.8" cy="384.6" r="3.8" fill="#d2d2d2"/>
<circle cx="350.8" cy="459.6" r="4.6" fill="#fcfcfc"/>
<circle cx="332" cy="485.4" r="3.5" fill="#e0e0e0"/>
<circle cx="364" cy="439.6" r="3.7" fill="#ededed"/>
<circle cx="332" cy="485.4" r="4.4" fill="#f3f3f3"/>
<circle cx="396.8" cy="384.6" r="2.2" fill="#e7e7e7"/>
<circle cx="380.4" cy="412.1" r="2.9" fill="#d0d0d0"/>
<circle cx="291.8" cy="545.2" r="4.7" fill="#f2f2f2"/>
<circle cx="380.4" cy="412.1" r="4.3" fill="#e7e7e7"/>
<circle cx="396.8" cy="384.6" r="4.4" fill="#cecece"/>
<circle cx="341.3" cy="472.5" r="4.1" fill="#e1e1e1"/>
<circle cx="327.6" cy="492.2" r="3.9" fill="#f8f8f8"/>
<circle cx="309.2" cy="518.3" r="2.4" fill="#cacaca"/>
<circle cx="372.3" cy="425.9" r="3.5" fill="#f1f1f1"/>
<path d="M320,712.5 324.4,705.8 329,699.2 333.2,692.4 337.7,685.8 342.1,679.1 346.4,672.4 350.6,665.6 354.9,658.8 359,652 362.8,644.9 366.5,637.8 370.3,630.8 374.3,623.8 378.2,616.9 382,609.8 385.8,602.8 389.7,595.8 393.5,588.8 397,581.6 400.4,574.3 403.8,567.1 407,559.8 410.4,552.5 414,545.4 417.6,538.3 421.4,531.2 424.9,524 428.4,516.8 432.2,509.7 435.8,502.6 439.8,495.7 443.9,488.8 448.1,482 452.3,475.2 456.3,468.3 460.3,461.3 464.1,454.3 467.8,447.2 471.6,440.2 475.2,433 479.1,426 482.8,418.9 486.4,411.8 490.2,404.8 494.1,397.8 498.1,390.9 502,383.9 506,376.9 510.2,370.1" stroke="#727272" stroke-width="7.26" fill="none" opacity="0.35" stroke-linejoin="round"/>
<path d="M320,712.5 324.4,705.8 329,699.2 333.2,692.4 337.7,685.8 342.1,679.1 346.4,672.4 350.6,665.6 354.9,658.8 359,652 362.8,644.9 366.5,637.8 370.3,630.8 374.3,623.8 378.2,616.9 382,609.8 385.8,602.8 389.7,595.8 393.5,588.8 397,581.6 400.4,574.3 403.8,567.1 407,559.8 410.4,552.5 414,545.4 417.6,538.3 421.4,531.2 424.9,524 428.4,516.8 432.2,509.7 435.8,502.6 439.8,495.7 443.9,488.8 448.1,482 452.3,475.2 456.3,468.3 460.3,461.3 464.1,454.3 467.8,447.2 471.6,440.2 475.2,433 479.1,426 482.8,418.9 486.4,411.8 490.2,404.8 494.1,397.8 498.1,390.9 502,383.9 506,376.9 510.2,370.1" stroke="#d0d0d0" stroke-width="2.79" fill="none" stroke-linejoin="round" stroke-linecap="round"/>
<circle cx="378.2" cy="616.9" r="5" fill="#cdcdcd"/>
<circle cx="471.6" cy="440.2" r="4.1" fill="#e1e1e1"/>
<circle cx="393.5" cy="588.8" r="3.8" fill="#f8f8f8"/>
<circle cx="490.2" cy="404.8" r="2.8" fill="#dcdcdc"/>
<circle cx="417.6" cy="538.3" r="4.8" fill="#ebebeb"/>
<circle cx="475.2" cy="433" r="4.6" fill="#f8f8f8"/>
<circle cx="403.8" cy="567.1" r="2.2" fill="#e8e8e8"/>
<circle cx="479.1" cy="426" r="3.1" fill="#d6d6d6"/>
<circle cx="479.1" cy="426" r="2" fill="#d3d3d3"/>
<circle cx="346.4" cy="672.4" r="2.5" fill="#d0d0d0"/>
<circle cx="510.2" cy="370.1" r="3.4" fill="#f3f3f3"/>
<circle cx="366.5" cy="637.8" r="4.8" fill="#d0d0d0"/>
<circle cx="393.5" cy="588.8" r="2.7" fill="#dcdcdc"/>
<circle cx="479.1" cy="426" r="2.1" fill="#eeeeee"/>
<circle cx="329" cy="699.2" r="5" fill="#dcdcdc"/>
<circle cx="389.7" cy="595.8" r="3.7" fill="#efefef"/>
<circle cx="490.2" cy="404.8" r="2.4" fill="#e5e5e5"/>
<circle cx="410.4" cy="552.5" r="3.2" fill="#d7d7d7"/>
<circle cx="393.5" cy="588.8" r="4.7" fill="#f6f6f6"/>
<circle cx="403.8" cy="567.1" r="2.3" fill="#cecece"/>
<circle cx="443.9" cy="488.8" r="3.5" fill="#fefefe"/>
<circle cx="467.8" cy="447.2" r="4" fill="#f0f0f0"/>
<path d="M298.4,715.2 301.8,708 305.6,700.9 309,693.6 312.8,686.6 316.8,679.7 321,672.9 325.2,666.1 329.6,659.4 333.7,652.6 337.7,645.6 341.6,638.6 345.6,631.7 349.6,624.8 353.6,617.9 357.7,611 361.8,604.1 365.7,597.1 369.2,589.9 372.5,582.6 375.7,575.3 378.9,568 381.9,560.6 385.1,553.2 388.2,545.9 391.3,538.5 394,530.9 396.7,523.4 399.3,515.8 401.4,508.1 403.5,500.4 405.6,492.7 407.8,485 409.6,477.2 411.7,469.5 413.8,461.8 415.8,454 418.1,446.3 420.4,438.7 422.8,431 425.5,423.5 428.3,416 431,408.5 434,401.1 436.9,393.6 439.9,386.2 442.8,378.7 445.6,371.3" stroke="#616161" stroke-width="4.22" fill="none" opacity="0.35" stroke-linejoin="round"/>
<path d="M298.4,715.2 301.8,708 305.6,700.9 309,693.6 312.8,686.6 316.8,679.7 321,672.9 325.2,666.1 329.6,659.4 333.7,652.6 337.7,645.6 341.6,638.6 345.6,631.7 349.6,624.8 353.6,617.9 357.7,611 361.8,604.1 365.7,597.1 369.2,589.9 372.5,582.6 375.7,575.3 378.9,568 381.9,560.6 385.1,553.2 388.2,545.9 391.3,538.5 394,530.9 396.7,523.4 399.3,515.8 401.4,508.1 403.5,500.4 405.6,492.7 407.8,485 409.6,477.2 411.7,469.5 413.8,461.8 415.8,454 418.1,446.3 420.4,438.7 422.8,431 425.5,423.5 428.3,416 431,408.5 434,401.1 436.9,393.6 439.9,386.2 442.8,378.7 445.6,371.3" stroke="#b0b0b0" stroke-width="1.62" fill="none" stroke-linejoin="round" stroke-linecap="round"/>
<circle cx="349.6" cy="624.8" r="3.9" fill="#cecece"/>
<circle cx="428.3" cy="416" r="2.1" fill="#ededed"/>
<circle cx="369.2" cy="589.9" r="4.6" fill="#e6e6e6"/>
<circle cx="445.6" cy="371.3" r="4.2" fill="#fefefe"/>
<circle cx="411.7" cy="469.5" r="3.6" fill="#f0f0f0"/>
<circle cx="409.6" cy="477.2" r="4.1" fill="#cbcbcb"/>
<circle cx="378.9" cy="568" r="2.5" fill="#c9c9c9"/>
<circle cx="439.9" cy="386.2" r="4.2" fill="#d5d5d5"/>
<circle cx="341.6" cy="638.6" r="4.6" fill="#f1f1f1"/>
<circle cx="337.7" cy="645.6" r="4.2" fill="#fefefe"/>
<circle cx="385.1" cy="553.2" r="3.9" fill="#d0d0d0"/>
<circle cx="349.6" cy="624.8" r="3.5" fill="#ebebeb"/>
<circle cx="301.8" cy="708" r="2.4" fill="#eeeeee"/>
<circle cx="413.8" cy="461.8" r="3.3" fill="#cdcdcd"/>
<circle cx="428.3" cy="416" r="3.2" fill="#d4d4d4"/>
<circle cx="321" cy="672.9" r="3" fill="#fafafa"/>
<circle cx="305.6" cy="700.9" r="4.5" fill="#cbcbcb"/>
<circle cx="369.2" cy="589.9" r="4.2" fill="#fcfcfc"/>
<circle cx="375.7" cy="575.3" r="3.2" fill="#ebebeb"/>
<circle cx="312.8" cy="686.6" r="3.7" fill="#e2e2e2"/>
<circle cx="378.9" cy="568" r="2.1" fill="#d0d0d0"/>
<circle cx="353.6" cy="617.9" r="2.1" fill="#d0d0d0"/>
<path d="M360.6,713 363.7,705.6 367.2,698.4 370.8,691.3 374.6,684.2 378.1,677 381.5,669.8 385,662.6 388.5,655.4 391.9,648.2 395.2,640.9 398.5,633.6 401.7,626.2 404.8,618.9 408,611.6 411.4,604.3 414.9,597.1 418.3,589.9 421.4,582.5 424.5,575.1 427.8,567.8 431.1,560.6 434.7,553.4 438.1,546.2 441.4,538.9 444.6,531.6 448,524.3 451.4,517.1 454.9,509.9 458.1,502.5 461.5,495.3 464.8,488 468.2,480.8 471.4,473.4 474.6,466.1 477.8,458.8 480.7,451.3 483.5,443.8 486.6,436.5 489.6,429 492.8,421.7 496,414.4 499.4,407.1 502.7,399.8 505.9,392.5 509.4,385.3 512.9,378.1 516.6,371" stroke="#646464" stroke-width="4.57" fill="none" opacity="0.35" stroke-linejoin="round"/>
<path d="M360.6,713 363.7,705.6 367.2,698.4 370.8,691.3 374.6,684.2 378.1,677 381.5,669.8 385,662.6 388.5,655.4 391.9,648.2 395.2,640.9 398.5,633.6 401.7,626.2 404.8,618.9 408,611.6 411.4,604.3 414.9,597.1 418.3,589.9 421.4,582.5 424.5,575.1 427.8,567.8 431.1,560.6 434.7,553.4 438.1,546.2 441.4,538.9 444.6,531.6 448,524.3 451.4,517.1 454.9,509.9 458.1,502.5 461.5,495.3 464.8,488 468.2,480.8 471.4,473.4 474.6,466.1 477.8,458.8 480.7,451.3 483.5,443.8 486.6,436.5 489.6,429 492.8,421.7 496,414.4 499.4,407.1 502.7,399.8 505.9,392.5 509.4,385.3 512.9,378.1 516.6,371" stroke="#b7b7b7" stroke-width="1.76" fill="none" stroke-linejoin="round" stroke-linecap="round"/>
<circle cx="421.4" cy="582.5" r="2.4" fill="#dcdcdc"/>
<circle cx="378.1" cy="677" r="3.5" fill="#c9c9c9"/>
<circle cx="461.5" cy="495.3" r="3.2" fill="#dadada"/>
<circle cx="378.1" cy="677" r="2.5" fill="#d1d1d1"/>
<circle cx="502.7" cy="399.8" r="3.9" fill="#f8f8f8"/>
<circle cx="464.8" cy="488" r="4.8" fill="#e3e3e3"/>
<circle cx="414.9" cy="597.1" r="3.8" fill="#cacaca"/>
<circle cx="464.8" cy="488" r="3.6" fill="#f6f6f6"/>
<circle cx="388.5" cy="655.4" r="3.4" fill="#f1f1f1"/>
<circle cx="496" cy="414.4" r="4.2" fill="#e9e9e9"/>
<circle cx="468.2" cy="480.8" r="2.4" fill="#e8e8e8"/>
<circle cx="458.1" cy="502.5" r="2.6" fill="#dcdcdc"/>
<circle cx="483.5" cy="443.8" r="2" fill="#c8c8c8"/>
<circle cx="474.6" cy="466.1" r="3.6" fill="#fdfdfd"/>
<circle cx="363.7" cy="705.6" r="2.8" fill="#e3e3e3"/>
<circle cx="477.8" cy="458.8" r="3.7" fill="#ebebeb"/>
<circle cx="483.5" cy="443.8" r="3.4" fill="#f1f1f1"/>
<circle cx="363.7" cy="705.6" r="3.1" fill="#f1f1f1"/>
<circle cx="477.8" cy="458.8" r="3.9" fill="#ececec"/>
<circle cx="408" cy="611.6" r="3" fill="#dfdfdf"/>
<circle cx="509.4" cy="385.3" r="4.7" fill="#f7f7f7"/>
<circle cx="444.6" cy="531.6" r="3.8" fill="#e4e4e4"/>
<path d="M370.6,713.1 374.1,705.9 377.8,698.9 381.9,691.9 385.8,685 389.7,678 393.6,671 397.3,663.9 400.8,656.7 404.3,649.5 407.7,642.3 410.8,634.9 414.2,627.7 417.6,620.4 421,613.2 424.5,606 428.2,598.9 431.6,591.6 434.9,584.4 438.5,577.2 441.9,570 445.5,562.9 448.9,555.6 452.5,548.5 456.3,541.4 459.8,534.2 463.4,527.1 466.9,519.9 470.2,512.6 473.8,505.5 477.5,498.4 481.5,491.4 485.5,484.5 489,477.3 492.4,470.1 495.8,462.8 499,455.5 502,448.1 505.3,440.8 508.6,433.5 512.2,426.4 516.2,419.4 520,412.4 524.1,405.5 528.3,398.7 532.5,391.9 536.8,385.2 540.9,378.3 544.9,371.3" stroke="#6d6d6d" stroke-width="5.77" fill="none" opacity="0.35" stroke-linejoin="round"/>
<path d="M370.6,713.1 374.1,705.9 377.8,698.9 381.9,691.9 385.8,685 389.7,678 393.6,671 397.3,663.9 400.8,656.7 404.3,649.5 407.7,642.3 410.8,634.9 414.2,627.7 417.6,620.4 421,613.2 424.5,606 428.2,598.9 431.6,591.6 434.9,584.4 438.5,577.2 441.9,570 445.5,562.9 448.9,555.6 452.5,548.5 456.3,541.4 459.8,534.2 463.4,527.1 466.9,519.9 470.2,512.6 473.8,505.5 477.5,498.4 481.5,491.4 485.5,484.5 489,477.3 492.4,470.1 495.8,462.8 499,455.5 502,448.1 505.3,440.8 508.6,433.5 512.2,426.4 516.2,419.4 520,412.4 524.1,405.5 528.3,398.7 532.5,391.9 536.8,385.2 540.9,378.3 544.9,371.3" stroke="#c6c6c6" stroke-width="2.22" fill="none" stroke-linejoin="round" stroke-linecap="round"/>
<circle cx="410.8" cy="634.9" r="2.2" fill="#f3f3f3"/>
<circle cx="428.2" cy="598.9" r="3.6" fill="#e4e4e4"/>
<circle cx="508.6" cy="433.5" r="3.4" fill="#fbfbfb"/>
<circle cx="456.3" cy="541.4" r="4.1" fill="#f5f5f5"/>
<circle cx="477.5" cy="498.4" r="2.9" fill="#d6d6d6"/>
<circle cx="481.5" cy="491.4" r="2.2" fill="#e0e0e0"/>
<circle cx="524.1" cy="405.5" r="2.2" fill="#f4f4f4"/>
<circle cx="508.6" cy="433.5" r="2.9" fill="#e3e3e3"/>
<circle cx="473.8" cy="505.5" r="3.5" fill="#d3d3d3"/>
<circle cx="448.9" cy="555.6" r="2.8" fill="#eaeaea"/>
<circle cx="452.5" cy="548.5" r="2.5" fill="#e1e1e1"/>
<circle cx="524.1" cy="405.5" r="3.3" fill="#e7e7e7"/>
<circle cx="424.5" cy="606" r="4" fill="#d8d8d8"/>
<circle cx="532.5" cy="391.9" r="4.1" fill="#cbcbcb"/>
<circle cx="492.4" cy="470.1" r="2.7" fill="#d4d4d4"/>
<circle cx="470.2" cy="512.6" r="3.9" fill="#f1f1f1"/>
<circle cx="424.5" cy="606" r="3.5" fill="#dddddd"/>
<circle cx="421" cy="613.2" r="2.1" fill="#d6d6d6"/>
<circle cx="452.5" cy="548.5" r="4.2" fill="#f6f6f6"/>
<circle cx="417.6" cy="620.4" r="2.9" fill="#e2e2e2"/>
<circle cx="477.5" cy="498.4" r="2.1" fill="#dbdbdb"/>
<circle cx="397.3" cy="663.9" r="3.7" fill="#e7e7e7"/>
<path d="M479.8,713 482.8,705.6 485.7,698.1 488.3,690.6 491,683 494,675.6 496.6,668.1 499.5,660.6 502.4,653.1 505.5,645.8 508.6,638.4 511.7,631 515.1,623.8 518.6,616.6 521.9,609.3 525.1,602 528.1,594.6 531,587.1 533.9,579.7 537.1,572.3 540.4,565 543.6,557.7 546.8,550.4 550.1,543.1 553.2,535.7 556.2,528.3 558.9,520.7 561.3,513.1 563.7,505.5 566.2,497.9 568.6,490.2 571,482.6 573.2,474.9 575.8,467.3 578.7,459.9 581.8,452.5 584.6,445.1 587.5,437.6 590.7,430.3 594.1,423 597.6,415.8 600.9,408.5 604.5,401.4 607.8,394.1 611.3,386.9 614.5,379.6 617.8,372.3" stroke="#717171" stroke-width="4.94" fill="none" opacity="0.35" stroke-linejoin="round"/>
<path d="M479.8,713 482.8,705.6 485.7,698.1 488.3,690.6 491,683 494,675.6 496.6,668.1 499.5,660.6 502.4,653.1 505.5,645.8 508.6,638.4 511.7,631 515.1,623.8 518.6,616.6 521.9,609.3 525.1,602 528.1,594.6 531,587.1 533.9,579.7 537.1,572.3 540.4,565 543.6,557.7 546.8,550.4 550.1,543.1 553.2,535.7 556.2,528.3 558.9,520.7 561.3,513.1 563.7,505.5 566.2,497.9 568.6,490.2 571,482.6 573.2,474.9 575.8,467.3 578.7,459.9 581.8,452.5 584.6,445.1 587.5,437.6 590.7,430.3 594.1,423 597.6,415.8 600.9,408.5 604.5,401.4 607.8,394.1 611.3,386.9 614.5,379.6 617.8,372.3" stroke="#cecece" stroke-width="1.9" fill="none" stroke-linejoin="round" stroke-linecap="round"/>
<circle cx="604.5" cy="401.4" r="4.2" fill="#dadada"/>
<circle cx="566.2" cy="497.9" r="2.7" fill="#d9d9d9"/>
<circle cx="561.3" cy="513.1" r="2.8" fill="#cecece"/>
<circle cx="578.7" cy="459.9" r="4.9" fill="#d6d6d6"/>
<circle cx="533.9" cy="579.7" r="3.2" fill="#f1f1f1"/>
<circle cx="597.6" cy="415.8" r="3.7" fill="#e2e2e2"/>
<circle cx="566.2" cy="497.9" r="3.8" fill="#dddddd"/>
<circle cx="502.4" cy="653.1" r="2.9" fill="#c8c8c8"/>
<circle cx="496.6" cy="668.1" r="2.2" fill="#dcdcdc"/>
<circle cx="491" cy="683" r="3.1" fill="#f8f8f8"/>
<circle cx="508.6" cy="638.4" r="2.3" fill="#f7f7f7"/>
<circle cx="578.7" cy="459.9" r="2.9" fill="#ececec"/>
<circle cx="581.8" cy="452.5" r="4.7" fill="#eaeaea"/>
<circle cx="611.3" cy="386.9" r="4.2" fill="#ededed"/>
<circle cx="568.6" cy="490.2" r="3.7" fill="#fbfbfb"/>
<circle cx="479.8" cy="713" r="3.9" fill="#d7d7d7"/>
<circle cx="528.1" cy="594.6" r="5" fill="#ececec"/>
<circle cx="511.7" cy="631" r="2.4" fill="#eeeeee"/>
<circle cx="491" cy="683" r="2.4" fill="#f0f0f0"/>
<circle cx="518.6" cy="616.6" r="3.7" fill="#e3e3e3"/>
<circle cx="558.9" cy="520.7" r="2.8" fill="#f2f2f2"/>
<circle cx="571" cy="482.6" r="3.8" fill="#f1f1f1"/>
<path d="M540.1,713.8 543.3,706.5 546.7,699.2 549.9,691.9 553.2,684.6 556.5,677.3 559.8,670 562.9,662.6 566.2,655.3 569.5,648.1 572.9,640.8 576.4,633.6 580.1,626.5 583.8,619.4 587,612.1 590.2,604.8 593.4,597.4 596.8,590.2 600.1,582.9 603.2,575.5 606.4,568.2 609.4,560.8 612.4,553.4 615.4,546 618.5,538.6 621.7,531.2 625,524" stroke="#606060" stroke-width="6.96" fill="none" opacity="0.35" stroke-linejoin="round"/>
<path d="M540.1,713.8 543.3,706.5 546.7,699.2 549.9,691.9 553.2,684.6 556.5,677.3 559.8,670 562.9,662.6 566.2,655.3 569.5,648.1 572.9,640.8 576.4,633.6 580.1,626.5 583.8,619.4 587,612.1 590.2,604.8 593.4,597.4 596.8,590.2 600.1,582.9 603.2,575.5 606.4,568.2 609.4,560.8 612.4,553.4 615.4,546 618.5,538.6 621.7,531.2 625,524" stroke="#afafaf" stroke-width="2.68" fill="none" stroke-linejoin="round" stroke-linecap="round"/>
<circle cx="540.1" cy="713.8" r="4.4" fill="#dddddd"/>
<circle cx="600.1" cy="582.9" r="4.7" fill="#d9d9d9"/>
<circle cx="566.2" cy="655.3" r="3.9" fill="#f1f1f1"/>
<circle cx="569.5" cy="648.1" r="4.2" fill="#d8d8d8"/>
<circle cx="596.8" cy="590.2" r="2.1" fill="#cbcbcb"/>
<circle cx="556.5" cy="677.3" r="4.1" fill="#d6d6d6"/>
<circle cx="606.4" cy="568.2" r="4.3" fill="#e4e4e4"/>
<circle cx="549.9" cy="691.9" r="2.8" fill="#e5e5e5"/>
<circle cx="606.4" cy="568.2" r="2.7" fill="#cbcbcb"/>
<circle cx="596.8" cy="590.2" r="3.7" fill="#e7e7e7"/>
<circle cx="546.7" cy="699.2" r="3.4" fill="#f7f7f7"/>
<circle cx="593.4" cy="597.4" r="3.2" fill="#dedede"/>
<circle cx="596.8" cy="590.2" r="3.7" fill="#e5e5e5"/>
<circle cx="618.5" cy="538.6" r="4.4" fill="#dfdfdf"/>
<circle cx="618.5" cy="538.6" r="4" fill="#d6d6d6"/>
<circle cx="580.1" cy="626.5" r="4.2" fill="#fefefe"/>
<circle cx="556.5" cy="677.3" r="4.5" fill="#f0f0f0"/>
<circle cx="618.5" cy="538.6" r="4.3" fill="#cdcdcd"/>
<circle cx="572.9" cy="640.8" r="2.4" fill="#f4f4f4"/>
<circle cx="580.1" cy="626.5" r="4.6" fill="#f3f3f3"/>
<circle cx="553.2" cy="684.6" r="3.7" fill="#efefef"/>
<circle cx="618.5" cy="538.6" r="4" fill="#c9c9c9"/>
<path d="M633.7,496.1 636.7,488.7 639.7,481.3" stroke="#616161" stroke-width="7.28" fill="none" opacity="0.35" stroke-linejoin="round"/>
<path d="M633.7,496.1 636.7,488.7 639.7,481.3" stroke="#b1b1b1" stroke-width="2.8" fill="none" stroke-linejoin="round" stroke-linecap="round"/>
<circle cx="639.7" cy="481.3" r="4.7" fill="#efefef"/>
<circle cx="633.7" cy="496.1" r="3.8" fill="#e5e5e5"/>
<circle cx="633.7" cy="496.1" r="4" fill="#f1f1f1"/>
<circle cx="639.7" cy="481.3" r="4.8" fill="#efefef"/>
<circle cx="639.7" cy="481.3" r="4.2" fill="#cecece"/>
<circle cx="636.7" cy="488.7" r="4.6" fill="#dadada"/>
<circle cx="633.7" cy="496.1" r="3.8" fill="#eaeaea"/>
<circle cx="639.7" cy="481.3" r="4.4" fill="#dcdcdc"/>
<circle cx="636.7" cy="488.7" r="2.5" fill="#e6e6e6"/>
<circle cx="636.7" cy="488.7" r="3.9" fill="#d1d1d1"/>
<circle cx="633.7" cy="496.1" r="3" fill="#e9e9e9"/>
<circle cx="633.7" cy="496.1" r="2.8" fill="#cfcfcf"/>
<circle cx="639.7" cy="481.3" r="4.3" fill="#d9d9d9"/>
<circle cx="633.7" cy="496.1" r="3.4" fill="#e2e2e2"/>
<circle cx="633.7" cy="496.1" r="2.6" fill="#cfcfcf"/>
<circle cx="639.7" cy="481.3" r="3.1" fill="#e7e7e7"/>
<circle cx="636.7" cy="488.7" r="3.7" fill="#f1f1f1"/>
<circle cx="639.7" cy="481.3" r="3.6" fill="#f8f8f8"/>
<circle cx="636.7" cy="488.7" r="3.3" fill="#d6d6d6"/>
<circle cx="633.7" cy="496.1" r="3.8" fill="#dedede"/>
<circle cx="636.7" cy="488.7" r="5" fill="#cbcbcb"/>
<circle cx="639.7" cy="481.3" r="2.1" fill="#fefefe"/>
<path d="M659.3,609.7 663.1,602.6 666.9,595.6" stroke="#565656" stroke-width="5.46" fill="none" opacity="0.35" stroke-linejoin="round"/>
<path d="M659.3,609.7 663.1,602.6 666.9,595.6" stroke="#9d9d9d" stroke-width="2.1" fill="none" stroke-linejoin="round" stroke-linecap="round"/>
<circle cx="659.3" cy="609.7" r="4.6" fill="#e4e4e4"/>
<circle cx="666.9" cy="595.6" r="5" fill="#d5d5d5"/>
<circle cx="663.1" cy="602.6" r="3" fill="#e4e4e4"/>
<circle cx="663.1" cy="602.6" r="4.9" fill="#f0f0f0"/>
<circle cx="663.1" cy="602.6" r="2.6" fill="#d6d6d6"/>
<circle cx="666.9" cy="595.6" r="3.4" fill="#f4f4f4"/>
<circle cx="666.9" cy="595.6" r="3.5" fill="#dedede"/>
<circle cx="659.3" cy="609.7" r="4" fill="#dcdcdc"/>
<circle cx="663.1" cy="602.6" r="2.3" fill="#f6f6f6"/>
<circle cx="666.9" cy="595.6" r="5" fill="#d8d8d8"/>
<circle cx="663.1" cy="602.6" r="4.2" fill="#cacaca"/>
<circle cx="666.9" cy="595.6" r="2.4" fill="#dfdfdf"/>
<circle cx="666.9" cy="595.6" r="4.2" fill="#eeeeee"/>
<circle cx="666.9" cy="595.6" r="2.1" fill="#d9d9d9"/>
<circle cx="663.1" cy="602.6" r="2.4" fill="#e4e4e4"/>
<circle cx="666.9" cy="595.6" r="2.5" fill="#e1e1e1"/>
<circle cx="666.9" cy="595.6" r="2" fill="#f7f7f7"/>
<circle cx="663.1" cy="602.6" r="4.5" fill="#e7e7e7"/>
<circle cx="666.9" cy="595.6" r="3.7" fill="#d7d7d7"/>
<circle cx="659.3" cy="609.7" r="4.7" fill="#f2f2f2"/>
<circle cx="659.3" cy="609.7" r="4.2" fill="#eeeeee"/>
<circle cx="666.9" cy="595.6" r="2.5" fill="#e0e0e0"/>
<path d="M709.2,489.4 713.6,482.7 717.6,475.8" stroke="#6c6c6c" stroke-width="7.61" fill="none" opacity="0.35" stroke-linejoin="round"/>
<path d="M709.2,489.4 713.6,482.7 717.6,475.8" stroke="#c4c4c4" stroke-width="2.93" fill="none" stroke-linejoin="round" stroke-linecap="round"/>
<circle cx="709.2" cy="489.4" r="3.5" fill="#cecece"/>
<circle cx="717.6" cy="475.8" r="3.7" fill="#e1e1e1"/>
<circle cx="717.6" cy="475.8" r="2.8" fill="#c9c9c9"/>
<circle cx="713.6" cy="482.7" r="4.5" fill="#d7d7d7"/>
<circle cx="709.2" cy="489.4" r="2.1" fill="#dcdcdc"/>
<circle cx="713.6" cy="482.7" r="4.6" fill="#dedede"/>
<circle cx="713.6" cy="482.7" r="4.5" fill="#c8c8c8"/>
<circle cx="717.6" cy="475.8" r="4" fill="#cecece"/>
<circle cx="713.6" cy="482.7" r="2.5" fill="#f0f0f0"/>
<circle cx="713.6" cy="482.7" r="3.9" fill="#f4f4f4"/>
<circle cx="717.6" cy="475.8" r="2.8" fill="#f8f8f8"/>
<circle cx="709.2" cy="489.4" r="3.5" fill="#f1f1f1"/>
<circle cx="709.2" cy="489.4" r="2.1" fill="#d7d7d7"/>
<circle cx="713.6" cy="482.7" r="2.1" fill="#f4f4f4"/>
<circle cx="713.6" cy="482.7" r="4.8" fill="#d1d1d1"/>
<circle cx="709.2" cy="489.4" r="4.9" fill="#eaeaea"/>
<circle cx="717.6" cy="475.8" r="2.6" fill="#f1f1f1"/>
<circle cx="709.2" cy="489.4" r="2.6" fill="#e8e8e8"/>
<circle cx="713.6" cy="482.7" r="4.1" fill="#f2f2f2"/>
<circle cx="709.2" cy="489.4" r="4.8" fill="#f0f0f0"/>
<circle cx="713.6" cy="482.7" r="3.8" fill="#f7f7f7"/>
<circle cx="713.6" cy="482.7" r="2.6" fill="#eaeaea"/>
<path d="M376.1,566.1 L396.5,521.9" stroke="#787878" stroke-width="12" fill="none" opacity="0.35"/>
<path d="M376.1,566.1 L396.5,521.9" stroke="#f0f0f0" stroke-width="5" fill="none" stroke-linecap="round"/>
<path d="M410.1,695.4 C418.6,676.7 445.5,617.4 461.1,583.1 C476.7,548.8 492.3,521.3 503.6,489.6 C515,457.8 524.9,408.8 529.2,392.6" stroke="#6e6e6e" stroke-width="7.2" fill="none" opacity="0.35"/>
<path d="M410.1,695.4 C418.6,676.7 445.5,617.4 461.1,583.1 C476.7,548.8 492.3,521.3 503.6,489.6 C515,457.8 524.9,408.8 529.2,392.6" stroke="#dcdcdc" stroke-width="3" fill="none" stroke-linecap="round"/>
<path d="M308,625.7 C313.7,612.9 332.1,573.2 342,549.1 C351.9,525 359.6,507.1 367.5,481.1 C375.5,455 386,407.3 389.7,392.6" stroke="#6b6b6b" stroke-width="7.2" fill="none" opacity="0.35"/>
<path d="M308,625.7 C313.7,612.9 332.1,573.2 342,549.1 C351.9,525 359.6,507.1 367.5,481.1 C375.5,455 386,407.3 389.7,392.6" stroke="#d7d7d7" stroke-width="3" fill="none" stroke-linecap="round"/>
<path d="M452.6,695.4 C459.7,676.7 481,618.9 495.1,583.1 C509.3,547.4 524.9,512.8 537.7,481.1 C550.4,449.3 566,407.3 571.7,392.6" stroke="#696969" stroke-width="6" fill="none" opacity="0.35"/>
<path d="M452.6,695.4 C459.7,676.7 481,618.9 495.1,583.1 C509.3,547.4 524.9,512.8 537.7,481.1 C550.4,449.3 566,407.3 571.7,392.6" stroke="#d2d2d2" stroke-width="2.5" fill="none" stroke-linecap="round"/>
<path d="M554.7,392.6 C557.2,397.4 566.9,412.4 570,421.5 C573.1,430.6 572.8,442.8 573.4,447" stroke="#707070" stroke-width="8.4" fill="none" opacity="0.35"/>
<path d="M554.7,392.6 C557.2,397.4 566.9,412.4 570,421.5 C573.1,430.6 572.8,442.8 573.4,447" stroke="#e1e1e1" stroke-width="3.5" fill="none" stroke-linecap="round"/>
<circle cx="496.8" cy="649.5" r="6.9" fill="#f4f4f4"/>
<circle cx="418.6" cy="557.6" r="5.4" fill="#f4f4f4"/>
<circle cx="529.2" cy="504.9" r="5.4" fill="#f4f4f4"/>
<circle cx="570" cy="562.7" r="5.4" fill="#f4f4f4"/>
<circle cx="461.1" cy="600.2" r="4.6" fill="#f4f4f4"/>
<circle cx="359" cy="484.5" r="4.6" fill="#f4f4f4"/>
<circle cx="406.7" cy="450.4" r="3.8" fill="#f4f4f4"/>
<circle cx="311.4" cy="457.2" r="4.6" fill="#f4f4f4"/>
<circle cx="597.2" cy="622.3" r="4.6" fill="#f4f4f4"/>
<circle cx="530.9" cy="642.7" r="4.6" fill="#f4f4f4"/>
<circle cx="405" cy="661.4" r="3.8" fill="#f4f4f4"/>
<circle cx="597.2" cy="443.6" r="3.8" fill="#f4f4f4"/>
<circle cx="435.6" cy="401.1" r="5.4" fill="#f4f4f4"/>
<circle cx="471.3" cy="532.1" r="4.6" fill="#f4f4f4"/>
<circle cx="338.6" cy="625.7" r="3.8" fill="#f4f4f4"/>
<circle cx="512.2" cy="603.6" r="3.8" fill="#f4f4f4"/>
<circle cx="563.2" cy="595" r="3.8" fill="#f4f4f4"/>
<circle cx="353.9" cy="651.2" r="3.8" fill="#f4f4f4"/>
<circle cx="314.8" cy="586.5" r="4.6" fill="#f4f4f4"/>
<circle cx="535.9" cy="610.3" r="3.8" fill="#ececec"/>
<circle cx="406.5" cy="676.7" r="4.6" fill="#f2f2f2"/>
<circle cx="467.8" cy="667.8" r="3.6" fill="#fbfbfb"/>
<circle cx="439.3" cy="677.5" r="3.1" fill="#dfdfdf"/>
<circle cx="473.9" cy="558.7" r="5" fill="#f5f5f5"/>
<circle cx="361.8" cy="604.9" r="3.8" fill="#d8d8d8"/>
<circle cx="342.3" cy="665.2" r="5.5" fill="#ededed"/>
<circle cx="477" cy="420.5" r="3.1" fill="#d3d3d3"/>
<circle cx="333.6" cy="507" r="3.3" fill="#d8d8d8"/>
<circle cx="328.4" cy="435.1" r="5.3" fill="#e2e2e2"/>
<circle cx="376.9" cy="529" r="3.3" fill="#dddddd"/>
<circle cx="360.4" cy="616.4" r="5.3" fill="#e6e6e6"/>
<circle cx="592" cy="637.2" r="3.9" fill="#dfdfdf"/>
<circle cx="512.5" cy="504.7" r="2.3" fill="#dbdbdb"/>
<circle cx="549.8" cy="595.7" r="2.1" fill="#f3f3f3"/>
<circle cx="321.9" cy="549.5" r="2.6" fill="#d1d1d1"/>
<circle cx="376.4" cy="578.1" r="4.5" fill="#f7f7f7"/>
<circle cx="457.7" cy="413.8" r="2.1" fill="#c3c3c3"/>
<circle cx="345.9" cy="448" r="3" fill="#c7c7c7"/>
<circle cx="559.8" cy="502.4" r="3.7" fill="#f0f0f0"/>
<circle cx="361.4" cy="544.3" r="2.1" fill="#dddddd"/>
<circle cx="582.8" cy="563.8" r="3.1" fill="#e7e7e7"/>
<circle cx="456.6" cy="543.4" r="4.2" fill="#ececec"/>
<circle cx="571.6" cy="685.1" r="5.4" fill="#f2f2f2"/>
<circle cx="510.1" cy="632.7" r="2.7" fill="#cacaca"/>
<circle cx="557.5" cy="524.9" r="2.1" fill="#eeeeee"/>
<circle cx="347.7" cy="476.6" r="5.2" fill="#cacaca"/>
<circle cx="552.7" cy="474.9" r="4.8" fill="#d6d6d6"/>
<circle cx="474.4" cy="598.4" r="4.5" fill="#cbcbcb"/>
<circle cx="506.7" cy="445.2" r="2.9" fill="#f0f0f0"/>
<circle cx="353.2" cy="518.5" r="2.4" fill="#e3e3e3"/>
<circle cx="359.9" cy="502.9" r="5.4" fill="#dadada"/>
<circle cx="456.3" cy="405.6" r="2.9" fill="#c4c4c4"/>
<circle cx="491.4" cy="441.6" r="2.6" fill="#c7c7c7"/>
<circle cx="527.2" cy="589.1" r="3" fill="#d2d2d2"/>
<circle cx="389.8" cy="558.1" r="4" fill="#c6c6c6"/>
<circle cx="353.4" cy="581.4" r="3" fill="#e9e9e9"/>
<circle cx="360" cy="425" r="2.2" fill="#f5f5f5"/>
<circle cx="466.8" cy="401.8" r="3.2" fill="#e7e7e7"/>
<circle cx="372.7" cy="642.2" r="2" fill="#e0e0e0"/>
<circle cx="478.1" cy="451.8" r="5.5" fill="#e1e1e1"/>
<circle cx="346.7" cy="619.5" r="2.1" fill="#eaeaea"/>
<circle cx="555.1" cy="585.1" r="2.1" fill="#c2c2c2"/>
<circle cx="553.7" cy="646.7" r="2.9" fill="#fafafa"/>
<circle cx="548.8" cy="427.7" r="5.1" fill="#bebebe"/>
<circle cx="404.1" cy="457.9" r="2.7" fill="#dedede"/>
<circle cx="321.6" cy="681.8" r="2.7" fill="#eaeaea"/>
<circle cx="412.1" cy="667.5" r="4" fill="#dedede"/>
<circle cx="533.1" cy="562.4" r="3.6" fill="#c9c9c9"/>
<circle cx="544.7" cy="582" r="3.6" fill="#fefefe"/>
<circle cx="445.5" cy="615.5" r="2.6" fill="#d5d5d5"/>
<circle cx="494.7" cy="472.5" r="5.5" fill="#fefefe"/>
<circle cx="499" cy="608.8" r="2.9" fill="#f0f0f0"/>
<circle cx="562.7" cy="531.9" r="4" fill="#e8e8e8"/>
<circle cx="381.7" cy="409.6" r="2.6" fill="#e0e0e0"/>
<circle cx="496.5" cy="649.3" r="2.9" fill="#c8c8c8"/>
<circle cx="432.2" cy="444.4" r="2.9" fill="#dddddd"/>
<circle cx="510.7" cy="427.2" r="2.6" fill="#dcdcdc"/>
<circle cx="462.2" cy="448.1" r="4.3" fill="#e2e2e2"/>
<circle cx="593.1" cy="678.4" r="4.2" fill="#c3c3c3"/>
</g></g>
<polygon points="398.1,438.6 416.8,435.4 410.7,451.3" fill="#EA2418"/>
<polygon points="510.1,476.9 528.8,473.8 523.2,489.6" fill="#EA2418"/>
<polygon points="353.6,515.6 372.3,512.4 367.1,528.4" fill="#EA2418"/>
<polygon points="486.3,507.5 505,504.3 499.4,520.2" fill="#EA2418"/>
<polygon points="339.9,548 358.6,544.8 353.5,560.9" fill="#EA2418"/>
<polygon points="447.4,577.5 466.1,574.3 460.5,590.1" fill="#EA2418"/>
<defs><clipPath id="cp6"><rect x="627" y="396" width="295" height="296"/></clipPath><filter id="fp6" filterUnits="userSpaceOnUse" x="622" y="391" width="305" height="306"><feGaussianBlur stdDeviation="1.0"/></filter></defs>
<g clip-path="url(#cp6)"><rect x="627" y="396" width="295" height="296" fill="#000"/>
<filter id="spk10" filterUnits="userSpaceOnUse" x="627" y="396" width="295" height="296"><feTurbulence type="fractalNoise" baseFrequency="0.25" numOctaves="2" seed="7"/><feColorMatrix type="matrix" values="6 0 0 0 -4.1 6 0 0 0 -4.1 6 0 0 0 -4.1 0 0 0 0 1"/><feGaussianBlur stdDeviation="0.6"/></filter>
<rect x="627" y="396" width="295" height="296" filter="url(#spk10)" opacity="0.6" style="mix-blend-mode:screen"/>
<filter id="spk11" filterUnits="userSpaceOnUse" x="627" y="396" width="295" height="296"><feTurbulence type="fractalNoise" baseFrequency="0.13" numOctaves="2" seed="27"/><feColorMatrix type="matrix" values="5 0 0 0 -3.45 5 0 0 0 -3.45 5 0 0 0 -3.45 0 0 0 0 1"/><feGaussianBlur stdDeviation="0.6"/></filter>
<rect x="627" y="396" width="295" height="296" filter="url(#spk11)" opacity="0.95" style="mix-blend-mode:screen"/>
<filter id="spk12" filterUnits="userSpaceOnUse" x="627" y="396" width="295" height="296"><feTurbulence type="fractalNoise" baseFrequency="0.07" numOctaves="2" seed="17"/><feColorMatrix type="matrix" values="4 0 0 0 -2.8 4 0 0 0 -2.8 4 0 0 0 -2.8 0 0 0 0 1"/><feGaussianBlur stdDeviation="0.6"/></filter>
<rect x="627" y="396" width="295" height="296" filter="url(#spk12)" opacity="0.75" style="mix-blend-mode:screen"/>
<g filter="url(#fp6)">
<path d="M652.3,369.6 650.7,377.5 649.2,385.3 647.5,393.1 645.8,400.9 644.1,408.8 642.5,416.6 641,424.5 639.7,432.4 638.1,440.2 636.4,448 635.2,455.9 634,463.8 632.8,471.7 631.1,479.5 630.1,487.5 629.3,495.4 628.3,503.4 627,511.3 625.6,519.1 624.2,527 623.1,535 621.9,542.9 620.4,550.7 618.8,558.6 617.1,566.4 615.3,574.2 614,582.1 611.9,589.8 610.2,597.6 608.3,605.4 606.7,613.2" stroke="#4f4f4f" stroke-width="4.51" fill="none" opacity="0.3" stroke-linejoin="round"/>
<path d="M652.3,369.6 650.7,377.5 649.2,385.3 647.5,393.1 645.8,400.9 644.1,408.8 642.5,416.6 641,424.5 639.7,432.4 638.1,440.2 636.4,448 635.2,455.9 634,463.8 632.8,471.7 631.1,479.5 630.1,487.5 629.3,495.4 628.3,503.4 627,511.3 625.6,519.1 624.2,527 623.1,535 621.9,542.9 620.4,550.7 618.8,558.6 617.1,566.4 615.3,574.2 614,582.1 611.9,589.8 610.2,597.6 608.3,605.4 606.7,613.2" stroke="#919191" stroke-width="1.73" fill="none" stroke-linejoin="round" stroke-linecap="round"/>
<circle cx="636.4" cy="448" r="3.1" fill="#d5d5d5"/>
<circle cx="608.3" cy="605.4" r="2.9" fill="#c5c5c5"/>
<circle cx="649.2" cy="385.3" r="2.6" fill="#dbdbdb"/>
<circle cx="628.3" cy="503.4" r="2.7" fill="#b9b9b9"/>
<circle cx="630.1" cy="487.5" r="2.2" fill="#f2f2f2"/>
<circle cx="652.3" cy="369.6" r="2" fill="#c9c9c9"/>
<circle cx="624.2" cy="527" r="3.2" fill="#c1c1c1"/>
<circle cx="632.8" cy="471.7" r="3.7" fill="#d1d1d1"/>
<circle cx="628.3" cy="503.4" r="4.5" fill="#e9e9e9"/>
<circle cx="650.7" cy="377.5" r="2.7" fill="#d4d4d4"/>
<path d="M703.3,370.7 702.7,378.6 702.1,386.6 702,394.6 701.5,402.6 701,410.6 700.4,418.6 699.4,426.5 698.2,434.4 696.7,442.3 695.6,450.2 694.5,458.1 693.8,466.1 692.5,474 691.2,481.9 690,489.8 688.8,497.7 687.6,505.6 686.3,513.5 684.6,521.3 683.1,529.2 681.8,537.1 680.3,544.9 678.6,552.7 676.8,560.5 675.3,568.4 673.7,576.2 672,584 669.7,591.7 667.6,599.4 665.4,607.1 663.2,614.8 660.7,622.4 658.2,630 655.1,637.4 652.2,644.9 649.2,652.3 646.4,659.8 643.8,667.3 641.1,674.9 638.5,682.4 636,690 633.5,697.6 631,705.2 628.9,712.9" stroke="#6c6c6c" stroke-width="6.47" fill="none" opacity="0.3" stroke-linejoin="round"/>
<path d="M703.3,370.7 702.7,378.6 702.1,386.6 702,394.6 701.5,402.6 701,410.6 700.4,418.6 699.4,426.5 698.2,434.4 696.7,442.3 695.6,450.2 694.5,458.1 693.8,466.1 692.5,474 691.2,481.9 690,489.8 688.8,497.7 687.6,505.6 686.3,513.5 684.6,521.3 683.1,529.2 681.8,537.1 680.3,544.9 678.6,552.7 676.8,560.5 675.3,568.4 673.7,576.2 672,584 669.7,591.7 667.6,599.4 665.4,607.1 663.2,614.8 660.7,622.4 658.2,630 655.1,637.4 652.2,644.9 649.2,652.3 646.4,659.8 643.8,667.3 641.1,674.9 638.5,682.4 636,690 633.5,697.6 631,705.2 628.9,712.9" stroke="#c5c5c5" stroke-width="2.49" fill="none" stroke-linejoin="round" stroke-linecap="round"/>
<circle cx="638.5" cy="682.4" r="3.1" fill="#f6f6f6"/>
<circle cx="702.7" cy="378.6" r="4" fill="#fbfbfb"/>
<circle cx="690" cy="489.8" r="2.9" fill="#bfbfbf"/>
<circle cx="681.8" cy="537.1" r="4.2" fill="#bebebe"/>
<circle cx="692.5" cy="474" r="3.2" fill="#f6f6f6"/>
<circle cx="680.3" cy="544.9" r="2.9" fill="#c3c3c3"/>
<circle cx="663.2" cy="614.8" r="3.6" fill="#c8c8c8"/>
<circle cx="669.7" cy="591.7" r="3.8" fill="#f3f3f3"/>
<circle cx="694.5" cy="458.1" r="2.5" fill="#eeeeee"/>
<circle cx="702" cy="394.6" r="3.7" fill="#e2e2e2"/>
<path d="M749.3,374.4 748.5,382.3 747.4,390.3 746.3,398.2 745.3,406.1 744.3,414.1 743.5,422 742.8,430 742,437.9 741.1,445.9 739.9,453.8 738.9,461.7 738.1,469.7 737.2,477.7 736.4,485.6 735.7,493.6 734.7,501.5 733.8,509.5 732.9,517.4 732.1,525.4 731.8,533.4 731.2,541.4 730.7,549.3 730.4,557.3 730.5,565.3 730.6,573.3 730.3,581.3 729.9,589.3 729.6,597.3 728.9,605.3 728,613.2 727.6,621.2 727.2,629.2 726.8,637.2 726.2,645.2 725.7,653.2 725,661.1 724.2,669.1 723.1,677 722.5,685 722.1,693 721.9,701 721.2,709 720.6,716.9" stroke="#575757" stroke-width="5.12" fill="none" opacity="0.3" stroke-linejoin="round"/>
<path d="M749.3,374.4 748.5,382.3 747.4,390.3 746.3,398.2 745.3,406.1 744.3,414.1 743.5,422 742.8,430 742,437.9 741.1,445.9 739.9,453.8 738.9,461.7 738.1,469.7 737.2,477.7 736.4,485.6 735.7,493.6 734.7,501.5 733.8,509.5 732.9,517.4 732.1,525.4 731.8,533.4 731.2,541.4 730.7,549.3 730.4,557.3 730.5,565.3 730.6,573.3 730.3,581.3 729.9,589.3 729.6,597.3 728.9,605.3 728,613.2 727.6,621.2 727.2,629.2 726.8,637.2 726.2,645.2 725.7,653.2 725,661.1 724.2,669.1 723.1,677 722.5,685 722.1,693 721.9,701 721.2,709 720.6,716.9" stroke="#9e9e9e" stroke-width="1.97" fill="none" stroke-linejoin="round" stroke-linecap="round"/>
<circle cx="739.9" cy="453.8" r="2.3" fill="#fcfcfc"/>
<circle cx="728.9" cy="605.3" r="4" fill="#f7f7f7"/>
<circle cx="735.7" cy="493.6" r="3.4" fill="#d7d7d7"/>
<circle cx="747.4" cy="390.3" r="3.4" fill="#c7c7c7"/>
<circle cx="733.8" cy="509.5" r="3.3" fill="#c0c0c0"/>
<circle cx="744.3" cy="414.1" r="3.1" fill="#d5d5d5"/>
<circle cx="742" cy="437.9" r="3.1" fill="#e8e8e8"/>
<circle cx="730.5" cy="565.3" r="4" fill="#b7b7b7"/>
<circle cx="732.9" cy="517.4" r="3" fill="#cdcdcd"/>
<circle cx="742.8" cy="430" r="3.8" fill="#dedede"/>
<path d="M827.1,371.8 826,379.7 824.8,387.6 823.4,395.5 822.2,403.4 821.1,411.3 819.8,419.2 818.8,427.2 817.9,435.1 817.3,443.1 816.8,451.1 816.3,459.1 815.9,467.1 815.3,475 814.9,483 814.6,491 814.1,499 813.6,507 812.6,514.9 812,522.9 811.4,530.9 810.9,538.9 810.5,546.9 810.2,554.9 809.6,562.8 809.2,570.8 808.5,578.8 807.6,586.7 806.7,594.7 805.6,602.6 804.3,610.5 803.7,618.5 803.1,626.5 802.3,634.4 801.8,642.4 801.4,650.4 801.1,658.4 800.6,666.4 800.2,674.4 799.9,682.4 799.5,690.4 798.9,698.3 798.7,706.3 798.4,714.3" stroke="#575757" stroke-width="4.55" fill="none" opacity="0.3" stroke-linejoin="round"/>
<path d="M827.1,371.8 826,379.7 824.8,387.6 823.4,395.5 822.2,403.4 821.1,411.3 819.8,419.2 818.8,427.2 817.9,435.1 817.3,443.1 816.8,451.1 816.3,459.1 815.9,467.1 815.3,475 814.9,483 814.6,491 814.1,499 813.6,507 812.6,514.9 812,522.9 811.4,530.9 810.9,538.9 810.5,546.9 810.2,554.9 809.6,562.8 809.2,570.8 808.5,578.8 807.6,586.7 806.7,594.7 805.6,602.6 804.3,610.5 803.7,618.5 803.1,626.5 802.3,634.4 801.8,642.4 801.4,650.4 801.1,658.4 800.6,666.4 800.2,674.4 799.9,682.4 799.5,690.4 798.9,698.3 798.7,706.3 798.4,714.3" stroke="#9f9f9f" stroke-width="1.75" fill="none" stroke-linejoin="round" stroke-linecap="round"/>
<circle cx="816.3" cy="459.1" r="3.7" fill="#dcdcdc"/>
<circle cx="806.7" cy="594.7" r="2.3" fill="#fafafa"/>
<circle cx="817.9" cy="435.1" r="4.4" fill="#f9f9f9"/>
<circle cx="810.2" cy="554.9" r="2.4" fill="#f3f3f3"/>
<circle cx="816.8" cy="451.1" r="4.3" fill="#f4f4f4"/>
<circle cx="809.2" cy="570.8" r="2.2" fill="#d7d7d7"/>
<circle cx="814.6" cy="491" r="3.7" fill="#e5e5e5"/>
<circle cx="799.9" cy="682.4" r="3.6" fill="#d7d7d7"/>
<circle cx="827.1" cy="371.8" r="2.9" fill="#eeeeee"/>
<circle cx="809.6" cy="562.8" r="3.8" fill="#f1f1f1"/>
<path d="M899,369.5 897.9,377.4 896.6,385.3 895.1,393.1 893.8,401 892.8,409 892,416.9 891,424.9 889.9,432.8 888.5,440.6 886.4,448.4 884.4,456.1 882.9,464 881.7,471.9 880.1,479.7 878.2,487.5 876.5,495.3 874.9,503.2 873.2,511 871.1,518.7 868.9,526.4 866.8,534.1 864.8,541.8 862.8,549.6 860.8,557.3 858.6,565 856.8,572.8 854.7,580.6 852.8,588.3 851.2,596.2 849.6,604 848.2,611.9 846.8,619.8 845.4,627.6 843.9,635.5 842.2,643.3 840.7,651.2 838.9,659 837,666.7 835.2,674.5 833.3,682.3 831.1,690 828.8,697.7 826.7,705.4 824.6,713.1" stroke="#646464" stroke-width="6.66" fill="none" opacity="0.3" stroke-linejoin="round"/>
<path d="M899,369.5 897.9,377.4 896.6,385.3 895.1,393.1 893.8,401 892.8,409 892,416.9 891,424.9 889.9,432.8 888.5,440.6 886.4,448.4 884.4,456.1 882.9,464 881.7,471.9 880.1,479.7 878.2,487.5 876.5,495.3 874.9,503.2 873.2,511 871.1,518.7 868.9,526.4 866.8,534.1 864.8,541.8 862.8,549.6 860.8,557.3 858.6,565 856.8,572.8 854.7,580.6 852.8,588.3 851.2,596.2 849.6,604 848.2,611.9 846.8,619.8 845.4,627.6 843.9,635.5 842.2,643.3 840.7,651.2 838.9,659 837,666.7 835.2,674.5 833.3,682.3 831.1,690 828.8,697.7 826.7,705.4 824.6,713.1" stroke="#b7b7b7" stroke-width="2.56" fill="none" stroke-linejoin="round" stroke-linecap="round"/>
<circle cx="895.1" cy="393.1" r="4.3" fill="#bdbdbd"/>
<circle cx="896.6" cy="385.3" r="2.6" fill="#c5c5c5"/>
<circle cx="881.7" cy="471.9" r="3.2" fill="#dedede"/>
<circle cx="831.1" cy="690" r="4" fill="#eeeeee"/>
<circle cx="874.9" cy="503.2" r="4.4" fill="#bcbcbc"/>
<circle cx="897.9" cy="377.4" r="3.7" fill="#eeeeee"/>
<circle cx="842.2" cy="643.3" r="2.3" fill="#bfbfbf"/>
<circle cx="880.1" cy="479.7" r="2.9" fill="#cccccc"/>
<circle cx="893.8" cy="401" r="3.3" fill="#dddddd"/>
<circle cx="892" cy="416.9" r="3.5" fill="#b9b9b9"/>
<path d="M916.8,371.3 917.1,379.3 917.3,387.2 917.5,395.2 917.6,403.2 917.8,411.2 917.8,419.2 918.1,427.2 918.3,435.2 918.6,443.2 919.1,451.2 919.4,459.2 919.4,467.2 919.4,475.2 919.6,483.2 919.6,491.2 919.8,499.2 919.7,507.2 919.8,515.2 919.6,523.2 919.2,531.2 918.8,539.2 918.7,547.2 918.8,555.2 919,563.2 918.5,571.2 918.1,579.1 917.7,587.1 917.6,595.1 917.4,603.1 917.1,611.1 916.7,619.1 915.8,627.1 914.8,635 914,643 913.4,650.9 913.2,658.9 913,666.9 913.3,674.9 913.3,682.9 913.8,690.9 914.2,698.9 914.5,706.9 915.1,714.9" stroke="#727272" stroke-width="5.11" fill="none" opacity="0.3" stroke-linejoin="round"/>
<path d="M916.8,371.3 917.1,379.3 917.3,387.2 917.5,395.2 917.6,403.2 917.8,411.2 917.8,419.2 918.1,427.2 918.3,435.2 918.6,443.2 919.1,451.2 919.4,459.2 919.4,467.2 919.4,475.2 919.6,483.2 919.6,491.2 919.8,499.2 919.7,507.2 919.8,515.2 919.6,523.2 919.2,531.2 918.8,539.2 918.7,547.2 918.8,555.2 919,563.2 918.5,571.2 918.1,579.1 917.7,587.1 917.6,595.1 917.4,603.1 917.1,611.1 916.7,619.1 915.8,627.1 914.8,635 914,643 913.4,650.9 913.2,658.9 913,666.9 913.3,674.9 913.3,682.9 913.8,690.9 914.2,698.9 914.5,706.9 915.1,714.9" stroke="#d0d0d0" stroke-width="1.96" fill="none" stroke-linejoin="round" stroke-linecap="round"/>
<circle cx="919.1" cy="451.2" r="3.9" fill="#f0f0f0"/>
<circle cx="917.3" cy="387.2" r="2.7" fill="#c3c3c3"/>
<circle cx="914.5" cy="706.9" r="3.7" fill="#f6f6f6"/>
<circle cx="915.1" cy="714.9" r="4.1" fill="#d2d2d2"/>
<circle cx="919.6" cy="491.2" r="3.4" fill="#efefef"/>
<circle cx="918.6" cy="443.2" r="2.1" fill="#e7e7e7"/>
<circle cx="919.8" cy="499.2" r="2.2" fill="#dedede"/>
<circle cx="917.8" cy="411.2" r="4.2" fill="#f0f0f0"/>
<circle cx="917.7" cy="587.1" r="3.6" fill="#e0e0e0"/>
<circle cx="917.1" cy="611.1" r="3.8" fill="#bfbfbf"/>
<path d="M882.2,392.6 C883.3,407.3 886.7,452.1 889,481.1 C891.3,510 893,540.6 895.8,566.1 C898.6,591.6 902.3,612.6 906,634.2 C909.7,655.7 915.9,685.2 917.9,695.4" stroke="#7d7d7d" stroke-width="14.4" fill="none" opacity="0.4"/>
<path d="M882.2,392.6 C883.3,407.3 886.7,452.1 889,481.1 C891.3,510 893,540.6 895.8,566.1 C898.6,591.6 902.3,612.6 906,634.2 C909.7,655.7 915.9,685.2 917.9,695.4" stroke="#fafafa" stroke-width="6" fill="none" stroke-linecap="round"/>
<path d="M674.6,436.8 C674.4,452.7 673.8,499.2 672.9,532.1 C672.1,565 670.7,607 669.5,634.2 C668.4,661.4 666.7,685.2 666.1,695.4" stroke="#696969" stroke-width="7.2" fill="none" opacity="0.4"/>
<path d="M674.6,436.8 C674.4,452.7 673.8,499.2 672.9,532.1 C672.1,565 670.7,607 669.5,634.2 C668.4,661.4 666.7,685.2 666.1,695.4" stroke="#d2d2d2" stroke-width="3" fill="none" stroke-linecap="round"/>
<path d="M691.6,436.8 C692.8,449.9 696.5,490.7 698.5,515.1 C700.4,539.5 703.6,560.5 703.6,583.1 C703.6,605.8 700.4,632.5 698.5,651.2 C696.5,669.9 692.8,688 691.6,695.4" stroke="#757575" stroke-width="14.4" fill="none" opacity="0.4"/>
<path d="M691.6,436.8 C692.8,449.9 696.5,490.7 698.5,515.1 C700.4,539.5 703.6,560.5 703.6,583.1 C703.6,605.8 700.4,632.5 698.5,651.2 C696.5,669.9 692.8,688 691.6,695.4" stroke="#ebebeb" stroke-width="6" fill="none" stroke-linecap="round"/>
<path d="M752.9,436.8 C751.8,449.9 748.9,490.7 746.1,515.1 C743.3,539.5 739.9,560.5 735.9,583.1 C731.9,605.8 726.2,632.5 722.3,651.2 C718.3,669.9 713.8,688 712.1,695.4" stroke="#787878" stroke-width="14.4" fill="none" opacity="0.4"/>
<path d="M752.9,436.8 C751.8,449.9 748.9,490.7 746.1,515.1 C743.3,539.5 739.9,560.5 735.9,583.1 C731.9,605.8 726.2,632.5 722.3,651.2 C718.3,669.9 713.8,688 712.1,695.4" stroke="#f0f0f0" stroke-width="6" fill="none" stroke-linecap="round"/>
<path d="M742.7,447 C741,464.1 736.4,520.8 732.5,549.1 C728.5,577.5 723.7,592.8 718.9,617.2 C714,641.5 706.1,682.4 703.6,695.4" stroke="#6b6b6b" stroke-width="7.2" fill="none" opacity="0.4"/>
<path d="M742.7,447 C741,464.1 736.4,520.8 732.5,549.1 C728.5,577.5 723.7,592.8 718.9,617.2 C714,641.5 706.1,682.4 703.6,695.4" stroke="#d7d7d7" stroke-width="3" fill="none" stroke-linecap="round"/>
<path d="M788.6,438.5 C795.7,445.6 818.4,466.9 831.2,481.1 C843.9,495.2 855.3,510.8 865.2,523.6 C875.1,536.4 886.4,551.9 890.7,557.6" stroke="#6b6b6b" stroke-width="6" fill="none" opacity="0.4"/>
<path d="M788.6,438.5 C795.7,445.6 818.4,466.9 831.2,481.1 C843.9,495.2 855.3,510.8 865.2,523.6 C875.1,536.4 886.4,551.9 890.7,557.6" stroke="#d7d7d7" stroke-width="2.5" fill="none" stroke-linecap="round"/>
<path d="M763.1,557.6 C768.8,561.9 782.9,576 797.1,583.1 C811.3,590.2 832.6,595 848.2,600.2 C863.8,605.3 883.6,611.5 890.7,613.8" stroke="#6b6b6b" stroke-width="6" fill="none" opacity="0.4"/>
<path d="M763.1,557.6 C768.8,561.9 782.9,576 797.1,583.1 C811.3,590.2 832.6,595 848.2,600.2 C863.8,605.3 883.6,611.5 890.7,613.8" stroke="#d7d7d7" stroke-width="2.5" fill="none" stroke-linecap="round"/>
<path d="M771.6,549.1 C775.9,537.8 790,498.1 797.1,481.1 C804.2,464.1 808.5,460.1 814.1,447 C819.8,434 828.3,410.2 831.2,402.8" stroke="#696969" stroke-width="6" fill="none" opacity="0.4"/>
<path d="M771.6,549.1 C775.9,537.8 790,498.1 797.1,481.1 C804.2,464.1 808.5,460.1 814.1,447 C819.8,434 828.3,410.2 831.2,402.8" stroke="#d2d2d2" stroke-width="2.5" fill="none" stroke-linecap="round"/>
<path d="M822.6,676.7 C829.7,674.2 852.4,667.1 865.2,661.4 C877.9,655.7 893.5,645.8 899.2,642.7" stroke="#646464" stroke-width="5.3" fill="none" opacity="0.4"/>
<path d="M822.6,676.7 C829.7,674.2 852.4,667.1 865.2,661.4 C877.9,655.7 893.5,645.8 899.2,642.7" stroke="#c8c8c8" stroke-width="2.2" fill="none" stroke-linecap="round"/>
<path d="M627,498.1 C629.8,512.3 638.3,554.8 644,583.1 C649.7,611.5 658.2,654 661,668.2" stroke="#646464" stroke-width="5.3" fill="none" opacity="0.4"/>
<path d="M627,498.1 C629.8,512.3 638.3,554.8 644,583.1 C649.7,611.5 658.2,654 661,668.2" stroke="#c8c8c8" stroke-width="2.2" fill="none" stroke-linecap="round"/>
<path d="M839.7,532.1 C838.2,540.6 833.1,563.3 831.2,583.1 C829.2,603 828.3,639.8 827.7,651.2" stroke="#646464" stroke-width="4.8" fill="none" opacity="0.4"/>
<path d="M839.7,532.1 C838.2,540.6 833.1,563.3 831.2,583.1 C829.2,603 828.3,639.8 827.7,651.2" stroke="#c8c8c8" stroke-width="2" fill="none" stroke-linecap="round"/>
<circle cx="694.4" cy="448" r="1.7" fill="#afafaf"/>
<circle cx="698.7" cy="524.9" r="2.4" fill="#d6d6d6"/>
<circle cx="712.2" cy="622.1" r="1.6" fill="#aaaaaa"/>
<circle cx="691.4" cy="673.6" r="1.5" fill="#b8b8b8"/>
<circle cx="692.7" cy="645.8" r="2.4" fill="#dddddd"/>
<circle cx="689.6" cy="691.6" r="1.5" fill="#aeaeae"/>
<circle cx="685.5" cy="502.6" r="3.2" fill="#8d8d8d"/>
<circle cx="694.3" cy="547.6" r="1.6" fill="#fefefe"/>
<circle cx="697" cy="456.2" r="1.3" fill="#b7b7b7"/>
<circle cx="705.3" cy="604.1" r="2.1" fill="#d6d6d6"/>
<circle cx="708.8" cy="567.3" r="2.7" fill="#d5d5d5"/>
<circle cx="689.4" cy="450.5" r="2.5" fill="#a7a7a7"/>
<circle cx="701.5" cy="580.2" r="3" fill="#b2b2b2"/>
<circle cx="681" cy="448.7" r="2.1" fill="#a9a9a9"/>
<circle cx="698" cy="569.8" r="1.8" fill="#c7c7c7"/>
<circle cx="700.6" cy="666.8" r="3.3" fill="#909090"/>
<circle cx="692.6" cy="590.9" r="3.1" fill="#cacaca"/>
<circle cx="697.2" cy="511.4" r="3" fill="#8d8d8d"/>
<circle cx="707.5" cy="575.2" r="2.2" fill="#a8a8a8"/>
<circle cx="695.7" cy="491.2" r="1.8" fill="#949494"/>
<circle cx="695.9" cy="507.5" r="1.7" fill="#a0a0a0"/>
<circle cx="702" cy="675.1" r="2.7" fill="#d9d9d9"/>
<circle cx="694.1" cy="578.5" r="1.8" fill="#e0e0e0"/>
<circle cx="698.1" cy="664.5" r="3.4" fill="#cbcbcb"/>
<circle cx="699.8" cy="640" r="1.3" fill="#c5c5c5"/>
<circle cx="696.1" cy="553" r="3.1" fill="#ececec"/>
<circle cx="702.7" cy="636.3" r="3.2" fill="#fefefe"/>
<circle cx="707.4" cy="499.9" r="1.5" fill="#b9b9b9"/>
<circle cx="710.2" cy="553.2" r="2.8" fill="#ececec"/>
<circle cx="694.7" cy="502.4" r="1.8" fill="#fafafa"/>
<circle cx="697.7" cy="564.9" r="2.7" fill="#cccccc"/>
<circle cx="693.5" cy="511.3" r="2.8" fill="#eaeaea"/>
<circle cx="697.6" cy="589.4" r="1.4" fill="#ababab"/>
<circle cx="702.7" cy="447.2" r="1.6" fill="#f8f8f8"/>
<circle cx="707.5" cy="447.9" r="3.1" fill="#e9e9e9"/>
<circle cx="698.2" cy="625.2" r="3.5" fill="#b6b6b6"/>
<circle cx="704.6" cy="627.3" r="1.4" fill="#bbbbbb"/>
<circle cx="701.1" cy="550.2" r="3.4" fill="#cccccc"/>
<circle cx="708" cy="681.5" r="1.9" fill="#bbbbbb"/>
<circle cx="709" cy="592.5" r="3.2" fill="#fafafa"/>
<circle cx="701.8" cy="583" r="2.6" fill="#cccccc"/>
<circle cx="709.1" cy="606.2" r="2.4" fill="#cfcfcf"/>
<circle cx="696.3" cy="667.3" r="1.8" fill="#d9d9d9"/>
<circle cx="684.4" cy="689" r="2.1" fill="#e8e8e8"/>
<circle cx="684.9" cy="517.4" r="1.6" fill="#c2c2c2"/>
<circle cx="702" cy="488" r="3.4" fill="#dbdbdb"/>
<circle cx="684.5" cy="663" r="1.3" fill="#a5a5a5"/>
<circle cx="709.7" cy="547.2" r="3.2" fill="#e2e2e2"/>
<circle cx="692.8" cy="557.3" r="3.1" fill="#dcdcdc"/>
<circle cx="693.8" cy="691.7" r="1.7" fill="#999999"/>
<circle cx="700.1" cy="681.6" r="3" fill="#e2e2e2"/>
<circle cx="681.5" cy="474.4" r="1.6" fill="#c1c1c1"/>
<circle cx="698.3" cy="648.8" r="2.9" fill="#b2b2b2"/>
<circle cx="691.1" cy="636.2" r="2.8" fill="#cdcdcd"/>
<circle cx="697.9" cy="546.6" r="2" fill="#e2e2e2"/>
<circle cx="686" cy="685" r="1.8" fill="#b7b7b7"/>
<circle cx="703.5" cy="607.6" r="2.3" fill="#b8b8b8"/>
<circle cx="683.2" cy="670.5" r="2.3" fill="#fbfbfb"/>
<circle cx="698.4" cy="595.3" r="2.5" fill="#ededed"/>
<circle cx="692" cy="490.2" r="2.6" fill="#d9d9d9"/>
<circle cx="690.2" cy="561.3" r="1.9" fill="#fdfdfd"/>
<circle cx="686.4" cy="454.2" r="2.4" fill="#f8f8f8"/>
<circle cx="697.3" cy="545.4" r="3.2" fill="#cacaca"/>
<circle cx="685.6" cy="444.5" r="2.3" fill="#fefefe"/>
<circle cx="704.4" cy="516.2" r="1.5" fill="#b3b3b3"/>
<circle cx="699.9" cy="662.8" r="2.2" fill="#f4f4f4"/>
<circle cx="694.6" cy="643.9" r="3.4" fill="#aaaaaa"/>
<circle cx="698.7" cy="654.3" r="2.9" fill="#bababa"/>
<circle cx="707.7" cy="645.7" r="3.4" fill="#afafaf"/>
<circle cx="695" cy="461.7" r="3.1" fill="#b7b7b7"/>
<circle cx="748.7" cy="459.4" r="2.9" fill="#e9e9e9"/>
<circle cx="724.1" cy="649.9" r="2.7" fill="#c2c2c2"/>
<circle cx="753.3" cy="498.2" r="1.4" fill="#a5a5a5"/>
<circle cx="720.9" cy="636.9" r="2" fill="#d2d2d2"/>
<circle cx="762.2" cy="512.7" r="3.3" fill="#b1b1b1"/>
<circle cx="755.7" cy="488.9" r="2.9" fill="#fefefe"/>
<circle cx="719.2" cy="662.9" r="2.5" fill="#e3e3e3"/>
<circle cx="739" cy="487.4" r="1.6" fill="#929292"/>
<circle cx="709.9" cy="683.6" r="3.2" fill="#f9f9f9"/>
<circle cx="727.5" cy="583.1" r="1.3" fill="#f3f3f3"/>
<circle cx="731.5" cy="629.7" r="1.7" fill="#929292"/>
<circle cx="738" cy="598" r="2.7" fill="#fbfbfb"/>
<circle cx="728.7" cy="618.1" r="1.8" fill="#f0f0f0"/>
<circle cx="727.1" cy="675.1" r="3.1" fill="#a7a7a7"/>
<circle cx="717.8" cy="656.9" r="2.8" fill="#b2b2b2"/>
<circle cx="734.8" cy="595.6" r="1.9" fill="#f3f3f3"/>
<circle cx="745" cy="498.3" r="2.9" fill="#8d8d8d"/>
<circle cx="747.2" cy="584.1" r="1.3" fill="#cecece"/>
<circle cx="739.5" cy="556.2" r="2.9" fill="#efefef"/>
<circle cx="728" cy="655.9" r="3.3" fill="#f2f2f2"/>
<circle cx="746.9" cy="496" r="2.9" fill="#bcbcbc"/>
<circle cx="708.5" cy="677.4" r="2.8" fill="#c7c7c7"/>
<circle cx="739.4" cy="507.8" r="2.7" fill="#d4d4d4"/>
<circle cx="735.3" cy="602.8" r="2.3" fill="#d8d8d8"/>
<circle cx="715.8" cy="657.4" r="2.5" fill="#9d9d9d"/>
<circle cx="753.4" cy="454.5" r="2.4" fill="#b9b9b9"/>
<circle cx="715.6" cy="674.2" r="3.5" fill="#f3f3f3"/>
<circle cx="719.1" cy="636.1" r="1.3" fill="#c2c2c2"/>
<circle cx="755.6" cy="446.8" r="2" fill="#a9a9a9"/>
<circle cx="719.8" cy="648" r="1.4" fill="#cacaca"/>
<circle cx="722.7" cy="641.9" r="3.5" fill="#ececec"/>
<circle cx="741.5" cy="535.3" r="2" fill="#f3f3f3"/>
<circle cx="737.1" cy="562.6" r="3.2" fill="#9c9c9c"/>
<circle cx="719.4" cy="677.1" r="1.8" fill="#bbbbbb"/>
<circle cx="743.8" cy="504.6" r="1.6" fill="#a6a6a6"/>
<circle cx="743.1" cy="568" r="2.7" fill="#8d8d8d"/>
<circle cx="755.2" cy="458.1" r="3" fill="#ababab"/>
<circle cx="748.2" cy="514.1" r="2.7" fill="#999999"/>
<circle cx="730.3" cy="626.7" r="1.6" fill="#8f8f8f"/>
<circle cx="736.1" cy="582.2" r="1.2" fill="#8e8e8e"/>
<circle cx="732.3" cy="576.3" r="1.7" fill="#e6e6e6"/>
<circle cx="722.2" cy="613.8" r="1.9" fill="#dfdfdf"/>
<circle cx="741.8" cy="514" r="2.6" fill="#b7b7b7"/>
<circle cx="730.3" cy="624.8" r="1.9" fill="#e4e4e4"/>
<circle cx="742.9" cy="541" r="1.9" fill="#8f8f8f"/>
<circle cx="723.1" cy="615.3" r="3.3" fill="#d8d8d8"/>
<circle cx="741.8" cy="550.4" r="2.6" fill="#f2f2f2"/>
<circle cx="716.4" cy="691.8" r="1.4" fill="#949494"/>
<circle cx="735.9" cy="533.6" r="1.6" fill="#ababab"/>
<circle cx="730.4" cy="657.5" r="2" fill="#9d9d9d"/>
<circle cx="724.5" cy="664.2" r="3.3" fill="#ababab"/>
<circle cx="734.4" cy="570" r="2.2" fill="#adadad"/>
<circle cx="752.3" cy="444.9" r="2.4" fill="#b5b5b5"/>
<circle cx="716.4" cy="652.6" r="3.3" fill="#8e8e8e"/>
<circle cx="714.4" cy="658.1" r="1.7" fill="#a9a9a9"/>
<circle cx="762.2" cy="448.5" r="1.8" fill="#f2f2f2"/>
<circle cx="733.7" cy="575.8" r="2.7" fill="#cbcbcb"/>
<circle cx="743.7" cy="525.6" r="2.7" fill="#f3f3f3"/>
<circle cx="753.5" cy="482.6" r="2.7" fill="#e0e0e0"/>
<circle cx="716.9" cy="686.6" r="1.6" fill="#afafaf"/>
<circle cx="731.3" cy="570.8" r="2.1" fill="#a7a7a7"/>
<circle cx="745.8" cy="506.6" r="2.1" fill="#959595"/>
<circle cx="728.5" cy="594.8" r="2.9" fill="#ededed"/>
<circle cx="726.6" cy="632.3" r="1.7" fill="#f8f8f8"/>
<circle cx="726.8" cy="623.3" r="1.9" fill="#909090"/>
<circle cx="716" cy="689" r="2.2" fill="#bdbdbd"/>
<circle cx="756.8" cy="462.9" r="3.3" fill="#d5d5d5"/>
<circle cx="742.8" cy="529.8" r="3" fill="#ececec"/>
<circle cx="739.6" cy="470.9" r="1.8" fill="#cecece"/>
<circle cx="764.8" cy="442.3" r="3.1" fill="#8d8d8d"/>
<circle cx="895.8" cy="520" r="3.1" fill="#f6f6f6"/>
<circle cx="902.4" cy="626.5" r="3.5" fill="#ececec"/>
<circle cx="885.6" cy="434.6" r="1.6" fill="#fafafa"/>
<circle cx="917.5" cy="678.7" r="1.6" fill="#e8e8e8"/>
<circle cx="905.9" cy="648" r="1.2" fill="#9b9b9b"/>
<circle cx="902" cy="606.7" r="3.3" fill="#fafafa"/>
<circle cx="899.9" cy="635.4" r="1.9" fill="#f0f0f0"/>
<circle cx="881" cy="446.1" r="1.6" fill="#aaaaaa"/>
<circle cx="881.8" cy="437.3" r="2" fill="#f0f0f0"/>
<circle cx="918.8" cy="686.2" r="1.4" fill="#e3e3e3"/>
<circle cx="890.9" cy="548.5" r="3.4" fill="#ededed"/>
<circle cx="912" cy="660.4" r="2.9" fill="#a8a8a8"/>
<circle cx="906" cy="618.5" r="2.5" fill="#cdcdcd"/>
<circle cx="886" cy="457.6" r="1.9" fill="#9e9e9e"/>
<circle cx="884.5" cy="455.7" r="3.4" fill="#d2d2d2"/>
<circle cx="888.4" cy="506" r="3.1" fill="#a3a3a3"/>
<circle cx="889.9" cy="495.2" r="3.2" fill="#a2a2a2"/>
<circle cx="888.8" cy="546" r="3.4" fill="#919191"/>
<circle cx="889.7" cy="482.1" r="1.6" fill="#eeeeee"/>
<circle cx="894.7" cy="532.6" r="2.1" fill="#9c9c9c"/>
<circle cx="897.7" cy="561.5" r="3.5" fill="#cdcdcd"/>
<circle cx="893.1" cy="499.3" r="2.9" fill="#b3b3b3"/>
<circle cx="913.9" cy="686" r="2.8" fill="#d8d8d8"/>
<circle cx="902.4" cy="539.7" r="3.4" fill="#fefefe"/>
<circle cx="908" cy="641.9" r="2.3" fill="#9d9d9d"/>
<circle cx="901.9" cy="527.6" r="2.7" fill="#9c9c9c"/>
<circle cx="896" cy="424" r="1.4" fill="#aaaaaa"/>
<circle cx="897" cy="597.9" r="2.9" fill="#eaeaea"/>
<circle cx="895.4" cy="549.6" r="1.3" fill="#e9e9e9"/>
<circle cx="886.4" cy="417.5" r="1.9" fill="#f6f6f6"/>
<circle cx="892" cy="527" r="1.5" fill="#b0b0b0"/>
<circle cx="910.9" cy="661.7" r="2.5" fill="#a1a1a1"/>
<circle cx="884.5" cy="491.5" r="1.5" fill="#fbfbfb"/>
<circle cx="886.6" cy="437.3" r="1.5" fill="#fefefe"/>
<circle cx="889.5" cy="514.6" r="3.1" fill="#cdcdcd"/>
<circle cx="894" cy="567.6" r="1.5" fill="#c4c4c4"/>
<circle cx="891.8" cy="508.1" r="2.4" fill="#cccccc"/>
<circle cx="909.4" cy="685.7" r="3.2" fill="#e4e4e4"/>
<circle cx="897" cy="579.9" r="3.1" fill="#ebebeb"/>
<circle cx="890.3" cy="535.6" r="3" fill="#b2b2b2"/>
<circle cx="776.7" cy="549.1" r="6.9" fill="#f2f2f2"/>
<circle cx="807.3" cy="654.6" r="7.7" fill="#f2f2f2"/>
<circle cx="700.2" cy="540.6" r="6.2" fill="#f2f2f2"/>
<circle cx="732.5" cy="566.1" r="5.4" fill="#f2f2f2"/>
<circle cx="722.3" cy="596.7" r="5.4" fill="#f2f2f2"/>
<circle cx="686.5" cy="598.4" r="4.6" fill="#f2f2f2"/>
<circle cx="832.9" cy="622.3" r="4.6" fill="#f2f2f2"/>
<circle cx="776.7" cy="612.1" r="4.6" fill="#f2f2f2"/>
<circle cx="761.4" cy="583.1" r="4.6" fill="#f2f2f2"/>
<circle cx="861.8" cy="438.5" r="6.2" fill="#f2f2f2"/>
<circle cx="655.9" cy="464.1" r="4.6" fill="#f2f2f2"/>
<circle cx="889" cy="572.9" r="4.6" fill="#f2f2f2"/>
<circle cx="900.9" cy="634.2" r="4.6" fill="#f2f2f2"/>
<circle cx="669.5" cy="659.7" r="4.6" fill="#f2f2f2"/>
<circle cx="644" cy="625.7" r="3.8" fill="#f2f2f2"/>
<circle cx="853.3" cy="498.1" r="3.8" fill="#f2f2f2"/>
<circle cx="790.3" cy="460.6" r="3.8" fill="#f2f2f2"/>
<circle cx="707" cy="681.8" r="4.6" fill="#f2f2f2"/>
<circle cx="830.5" cy="657.7" r="4.6" fill="#dedede"/>
<circle cx="678.7" cy="457.1" r="4.6" fill="#e8e8e8"/>
<circle cx="677.9" cy="498.7" r="3.5" fill="#b7b7b7"/>
<circle cx="687.1" cy="618.4" r="3.9" fill="#d1d1d1"/>
<circle cx="849.3" cy="543" r="2.4" fill="#ececec"/>
<circle cx="754.8" cy="550.5" r="3.4" fill="#e9e9e9"/>
<circle cx="902.1" cy="401.7" r="4" fill="#d9d9d9"/>
<circle cx="827.7" cy="655.6" r="2.6" fill="#f4f4f4"/>
<circle cx="830" cy="629.7" r="4.8" fill="#e8e8e8"/>
<circle cx="876.9" cy="674.7" r="4.1" fill="#f7f7f7"/>
<circle cx="846.1" cy="643.9" r="3.5" fill="#d2d2d2"/>
<circle cx="728.2" cy="661.8" r="3.7" fill="#f1f1f1"/>
<circle cx="652.6" cy="639" r="4" fill="#e3e3e3"/>
<circle cx="851" cy="463.5" r="4.1" fill="#f5f5f5"/>
<circle cx="847" cy="677.5" r="3.2" fill="#dddddd"/>
<circle cx="702.8" cy="519.8" r="2.7" fill="#c6c6c6"/>
<circle cx="761.4" cy="449.6" r="4.2" fill="#b6b6b6"/>
<circle cx="870.1" cy="443.6" r="4.3" fill="#eeeeee"/>
<circle cx="912.6" cy="557.4" r="2.9" fill="#cdcdcd"/>
<circle cx="886.3" cy="428.9" r="2.5" fill="#b7b7b7"/>
<circle cx="833.9" cy="541.2" r="4.9" fill="#cecece"/>
<circle cx="832.1" cy="478.6" r="4.8" fill="#d5d5d5"/>
<circle cx="896.3" cy="628.5" r="3.7" fill="#bababa"/>
<circle cx="819.6" cy="436.3" r="3.7" fill="#ededed"/>
<circle cx="642.6" cy="666.9" r="3.5" fill="#c7c7c7"/>
<circle cx="812.9" cy="529.9" r="2.2" fill="#e2e2e2"/>
<circle cx="921.2" cy="678.5" r="3.6" fill="#bababa"/>
<circle cx="810.1" cy="426.8" r="2.2" fill="#e6e6e6"/>
<circle cx="860.3" cy="462.4" r="3.6" fill="#f7f7f7"/>
<circle cx="848.6" cy="431.4" r="3.4" fill="#e9e9e9"/>
<circle cx="666.5" cy="517.5" r="2" fill="#dcdcdc"/>
<circle cx="809.2" cy="477.4" r="2.8" fill="#e7e7e7"/>
<circle cx="757.4" cy="690.4" r="4.3" fill="#b4b4b4"/>
<circle cx="906.7" cy="526.6" r="3.1" fill="#eaeaea"/>
<circle cx="811.8" cy="640.2" r="3.5" fill="#f3f3f3"/>
<circle cx="917.6" cy="504.6" r="3.4" fill="#bbbbbb"/>
<circle cx="647.4" cy="411.2" r="3.5" fill="#e6e6e6"/>
<circle cx="665.8" cy="603.8" r="2.5" fill="#ececec"/>
<circle cx="805.4" cy="398.3" r="5" fill="#dddddd"/>
<circle cx="664.3" cy="407.3" r="3.5" fill="#e1e1e1"/>
<circle cx="893.5" cy="421.8" r="4.9" fill="#cacaca"/>
<circle cx="788.7" cy="516.7" r="4.4" fill="#dddddd"/>
<circle cx="836.2" cy="686.8" r="4" fill="#cbcbcb"/>
<circle cx="789.6" cy="473.5" r="3.8" fill="#c1c1c1"/>
<circle cx="839.6" cy="619.1" r="3.7" fill="#f7f7f7"/>
</g></g>
<rect x="627" y="396" width="181" height="40" fill="#000"/>
<text transform="translate(638,424.7) scale(1.0216,1)" font-size="30.2" style="font-weight:normal" fill="#fff">Annexin V</text>
<rect x="834.6" y="674.2" width="79.9" height="11" fill="#fff"/>
<defs>
<filter id="b1" filterUnits="userSpaceOnUse" x="0" y="600" width="1200" height="700"><feGaussianBlur stdDeviation="1"/></filter>
<filter id="b2" filterUnits="userSpaceOnUse" x="0" y="600" width="1200" height="700"><feGaussianBlur stdDeviation="2"/></filter>
<filter id="b3" filterUnits="userSpaceOnUse" x="0" y="600" width="1200" height="700"><feGaussianBlur stdDeviation="3"/></filter>
<filter id="b4" filterUnits="userSpaceOnUse" x="0" y="600" width="1200" height="700"><feGaussianBlur stdDeviation="4"/></filter>
<filter id="b6" filterUnits="userSpaceOnUse" x="0" y="600" width="1200" height="700"><feGaussianBlur stdDeviation="6"/></filter>
<filter id="b8" filterUnits="userSpaceOnUse" x="0" y="600" width="1200" height="700"><feGaussianBlur stdDeviation="8"/></filter>
</defs>
<text transform="translate(1.66,760.3) scale(0.9875,1)" font-size="62.9">D</text>
<text transform="translate(84.29,795) scale(1.0199,1)" font-size="30.43">Time after cut [h]</text>
<rect x="41.6" y="807.6" width="323.7" height="3.7" fill="#000"/>
<text transform="translate(33.1,841.8) scale(1.0012,1)" font-size="29.86">0</text>
<text transform="translate(143.42,841.8) scale(1.0327,1)" font-size="29.86">2</text>
<text transform="translate(247.65,841.8) scale(1.0082,1)" font-size="29.86">6</text>
<text transform="translate(347.55,841.8) scale(1.0017,1)" font-size="29.86">24</text>
<text transform="translate(418.08,837.1) scale(1.0358,1)" font-size="29.52">αII-spectrin</text>
<text transform="translate(418.64,874.5) scale(1.0209,1)" font-size="29.52">[kDA]</text>
<text transform="translate(416.45,925.79) scale(0.9702,1)" font-size="30.99" fill="#141E64">280</text>
<text transform="translate(416.79,1001.61) scale(1.0212,1)" font-size="29.53" fill="#3CA564">145/150</text>
<text transform="translate(416.81,1048.19) scale(0.9501,1)" font-size="31.41" fill="#F0373C">120</text>
<text transform="translate(416.69,1146.3) scale(0.9645,1)" font-size="31.45">actin</text>
<rect x="5.3" y="850.8" width="406.3" height="236.4" fill="#000"/>
<rect x="7.7" y="853.2" width="401.5" height="231.6" fill="#F8F8F8"/>
<defs>
<clipPath id="cd1"><rect x="7.7" y="853.2" width="401.5" height="231.6"/></clipPath>
<clipPath id="cd2"><rect x="7.4" y="1098.1" width="401.6" height="82.9"/></clipPath>
</defs>
<g clip-path="url(#cd1)">
<rect x="29" y="895" width="34" height="27" fill="#000" filter="url(#b4)" opacity="0.13"/>
<path d="M28,922 L62,922 A3,3 0 0 1 62,928 L28,928 A3,3 0 0 1 28,922 Z" fill="#1a1a1a" filter="url(#b1)"/>
<line x1="27.5" y1="892" x2="26.5" y2="925" stroke="#000" stroke-width="2.5" opacity="0.45" filter="url(#b2)"/>
<rect x="133.6" y="891" width="34.8" height="29" fill="#000" filter="url(#b4)" opacity="0.12"/>
<path d="M132.85,919.75 L167.15,919.75 A3.25,3.25 0 0 1 167.15,926.25 L132.85,926.25 A3.25,3.25 0 0 1 132.85,919.75 Z" fill="#1a1a1a" filter="url(#b1)"/>
<line x1="132.1" y1="888" x2="131.1" y2="923" stroke="#000" stroke-width="2.5" opacity="0.45" filter="url(#b2)"/>
<rect x="244" y="887" width="32.4" height="31" fill="#000" filter="url(#b4)" opacity="0.09"/>
<path d="M242,919 L276.4,919 A2,2 0 0 1 276.4,923 L242,923 A2,2 0 0 1 242,919 Z" fill="#1a1a1a" filter="url(#b1)"/>
<line x1="242.5" y1="884" x2="241.5" y2="921" stroke="#000" stroke-width="2.5" opacity="0.45" filter="url(#b2)"/>
<path d="M358,919 L391,919 A3,3 0 0 1 391,925 L358,925 A3,3 0 0 1 358,919 Z" fill="#888" filter="url(#b3)" opacity="0.25"/>
<ellipse cx="372" cy="889" rx="18" ry="10" fill="#888" filter="url(#b6)" opacity="0.12"/>
<path d="M33.25,989.95 L64.75,989.95 A2.25,2.25 0 0 1 64.75,994.45 L33.25,994.45 A2.25,2.25 0 0 1 33.25,989.95 Z" fill="#1a1a1a" filter="url(#b1)"/>
<path d="M139.4,988.6 L171.4,988.6 A5,5 0 0 1 171.4,998.6 L139.4,998.6 A5,5 0 0 1 139.4,988.6 Z" fill="#000" filter="url(#b2)"/>
<path d="M246,987 L277,987 A5,5 0 0 1 277,997 L246,997 A5,5 0 0 1 246,987 Z" fill="#000" filter="url(#b2)"/>
<path d="M354.3,982.5 L383.7,982.5 A7.5,7.5 0 0 1 383.7,997.5 L354.3,997.5 A7.5,7.5 0 0 1 354.3,982.5 Z" fill="#000" filter="url(#b2)"/>
<ellipse cx="369" cy="982" rx="26" ry="8" fill="#000" filter="url(#b4)" opacity="0.5"/>
<path d="M34,1030 L66,1030 A2,2 0 0 1 66,1034 L34,1034 A2,2 0 0 1 34,1030 Z" fill="#999" filter="url(#b2)" opacity="0.35"/>
<rect x="35" y="1036" width="30" height="19" fill="#000" filter="url(#b4)" opacity="0.05"/>
<path d="M138,1030 L175,1030 A2,2 0 0 1 175,1034 L138,1034 A2,2 0 0 1 138,1030 Z" fill="#999" filter="url(#b2)" opacity="0.35"/>
<rect x="139" y="1036" width="35" height="19" fill="#000" filter="url(#b4)" opacity="0.05"/>
<path d="M245,1030 L280,1030 A2,2 0 0 1 280,1034 L245,1034 A2,2 0 0 1 245,1030 Z" fill="#999" filter="url(#b2)" opacity="0.35"/>
<rect x="246" y="1036" width="33" height="19" fill="#000" filter="url(#b4)" opacity="0.05"/>
<path d="M349,1030 L388,1030 A2,2 0 0 1 388,1034 L349,1034 A2,2 0 0 1 349,1030 Z" fill="#999" filter="url(#b2)" opacity="0.35"/>
<rect x="350" y="1036" width="37" height="19" fill="#000" filter="url(#b4)" opacity="0.05"/>
</g>
<rect x="5" y="1095.7" width="406.4" height="87.7" fill="#000"/>
<rect x="7.4" y="1098.1" width="401.6" height="82.9" fill="#FBFBFB"/>
<g clip-path="url(#cd2)">
<path d="M28,1135 Q38,1129 48,1134 Q58,1139 72,1134" fill="none" stroke="#151515" stroke-width="7" filter="url(#b2)"/>
<path d="M138.5,1136.5 L169.5,1136.5 A4.5,4.5 0 0 1 169.5,1145.5 L138.5,1145.5 A4.5,4.5 0 0 1 138.5,1136.5 Z" fill="#2a2a2a" filter="url(#b2)"/>
<path d="M140.5,1134.5 L167.5,1134.5 A2.5,2.5 0 0 1 167.5,1139.5 L140.5,1139.5 A2.5,2.5 0 0 1 140.5,1134.5 Z" fill="#666" filter="url(#b3)" opacity="0.5"/>
<path d="M239,1132.5 L277,1132.5 A3,3 0 0 1 277,1138.5 L239,1138.5 A3,3 0 0 1 239,1132.5 Z" fill="#222" filter="url(#b1)"/>
<path d="M346.25,1131.75 L380.75,1128.75 A3.25,3.25 0 0 1 380.75,1135.25 L346.25,1138.25 A3.25,3.25 0 0 1 346.25,1131.75 Z" fill="#1a1a1a" filter="url(#b1)"/>
</g>
<text transform="translate(561.28,766) scale(0.9337,1)" font-size="64.64">E</text>
<text transform="translate(624.39,794.6) scale(1.0035,1)" font-size="30.87">Time after cut [h]</text>
<rect x="659.1" y="809.7" width="169.6" height="4.4" fill="#000"/>
<text transform="translate(651.47,844.39) scale(0.9965,1)" font-size="30.85">0</text>
<text transform="translate(704.57,844.4) scale(1.0465,1)" font-size="30.86">2</text>
<text transform="translate(758.55,844.39) scale(1.0695,1)" font-size="30.85">6</text>
<text transform="translate(809.05,844.4) scale(0.9692,1)" font-size="30.86">24</text>
<text transform="translate(907.78,794.7) scale(1.0338,1)" font-size="30">pos.</text>
<text transform="translate(908.58,832.18) scale(0.9454,1)" font-size="32.24">ctrl</text>
<text transform="translate(976.66,813.03) scale(1.0300,1)" font-size="29.84">(STS)</text>
<text transform="translate(1010.11,891.85) scale(1.0642,1)" font-size="28.79">pro-casp3</text>
<text transform="translate(1010.88,963.7) scale(1.0558,1)" font-size="28.83">cleaved</text>
<text transform="translate(1010.89,1001.39) scale(1.0222,1)" font-size="29.56">casp3</text>
<text transform="translate(1009.47,1086.9) scale(1.0431,1)" font-size="29.52">α-tubulin</text>
<polygon points="978.3,882.8 999.7,873.6 999.7,892" fill="#000"/>
<polygon points="978.3,982.8 999.7,973.6 999.7,992" fill="#000"/>
<polygon points="978.3,1079.7 999.7,1070.5 999.7,1088.9" fill="#000"/>
<rect x="612.3" y="851.1" width="260.7" height="60.7" fill="#000"/>
<rect x="615" y="853.8" width="255.3" height="55.3" fill="#F5F5F5"/>
<rect x="890.2" y="852.7" width="86" height="57.1" fill="#000"/>
<rect x="892.9" y="855.4" width="80.6" height="51.7" fill="#F5F5F5"/>
<rect x="612.3" y="934.3" width="260.7" height="85.1" fill="#000"/>
<rect x="615" y="937" width="255.3" height="79.7" fill="#F7F7F7"/>
<rect x="890.2" y="934.3" width="86" height="84.7" fill="#000"/>
<rect x="892.9" y="937" width="80.6" height="79.3" fill="#F0F0F0"/>
<rect x="612.3" y="1042.1" width="260.7" height="64.7" fill="#000"/>
<rect x="615" y="1044.8" width="255.3" height="59.3" fill="#E2E2E2"/>
<rect x="890.2" y="1045.5" width="86" height="60.2" fill="#000"/>
<rect x="892.9" y="1048.2" width="80.6" height="54.8" fill="#F4F4F4"/>
<defs>
<clipPath id="ce1"><rect x="615" y="853.8" width="255.3" height="55.3"/></clipPath>
<clipPath id="ce2"><rect x="615" y="937" width="255.3" height="79.7"/></clipPath>
<clipPath id="ce3"><rect x="615" y="1044.8" width="255.3" height="59.3"/></clipPath>
<clipPath id="ce4"><rect x="892.9" y="937" width="80.6" height="79.3"/></clipPath>
<clipPath id="ce5"><rect x="892.9" y="1048.2" width="80.6" height="54.8"/></clipPath>
</defs>
<g clip-path="url(#ce1)">
<path d="M640.8,880.6 L675.1,880.6 A4,4 0 0 1 675.1,888.6 L640.8,888.6 A4,4 0 0 1 640.8,880.6 Z" fill="#111" filter="url(#b2)"/>
<path d="M697.35,878.25 L728.85,877.25 A3.75,3.75 0 0 1 728.85,884.75 L697.35,885.75 A3.75,3.75 0 0 1 697.35,878.25 Z" fill="#1a1a1a" filter="url(#b2)"/>
<path d="M753.8,875.2 L788.3,875.2 A4.5,4.5 0 0 1 788.3,884.2 L753.8,884.2 A4.5,4.5 0 0 1 753.8,875.2 Z" fill="#000" filter="url(#b2)"/>
<path d="M811.8,874.5 L844,871.5 A4.5,4.5 0 0 1 844,880.5 L811.8,883.5 A4.5,4.5 0 0 1 811.8,874.5 Z" fill="#000" filter="url(#b2)"/>
</g>
<g clip-path="url(#ce2)">
<path d="M627,981 L670,981 A5,5 0 0 1 670,991 L627,991 A5,5 0 0 1 627,981 Z" fill="#333" filter="url(#b4)" opacity="0.2"/>
<path d="M695,979 L737,979 A5,5 0 0 1 737,989 L695,989 A5,5 0 0 1 695,979 Z" fill="#333" filter="url(#b4)" opacity="0.3"/>
<path d="M765,976 L801,976 A5,5 0 0 1 801,986 L765,986 A5,5 0 0 1 765,976 Z" fill="#333" filter="url(#b4)" opacity="0.25"/>
<path d="M823,980 L857,980 A5,5 0 0 1 857,990 L823,990 A5,5 0 0 1 823,980 Z" fill="#333" filter="url(#b4)" opacity="0.28"/>
<ellipse cx="872" cy="967" rx="6" ry="12" fill="#000" filter="url(#b2)" opacity="0.8"/>
<ellipse cx="669" cy="1016" rx="3.5" ry="3" fill="#000" filter="url(#b1)" opacity="0.9"/>
</g>
<g clip-path="url(#ce3)">
<ellipse cx="700" cy="1065" rx="60" ry="30" fill="#888" filter="url(#b8)" opacity="0.25"/>
<ellipse cx="800" cy="1090" rx="70" ry="30" fill="#777" filter="url(#b8)" opacity="0.25"/>
<path d="M641.8,1074.6 L679.7,1074.6 A5,5 0 0 1 679.7,1084.6 L641.8,1084.6 A5,5 0 0 1 641.8,1074.6 Z" fill="#222" filter="url(#b2)" opacity="0.85"/>
<path d="M702,1068 L738.6,1068 A4,4 0 0 1 738.6,1076 L702,1076 A4,4 0 0 1 702,1068 Z" fill="#333" filter="url(#b2)" opacity="0.7"/>
<path d="M761,1070 L796.7,1070 A5,5 0 0 1 796.7,1080 L761,1080 A5,5 0 0 1 761,1070 Z" fill="#111" filter="url(#b2)" opacity="0.9"/>
<path d="M818.5,1072.8 L855.1,1072.8 A4.5,4.5 0 0 1 855.1,1081.8 L818.5,1081.8 A4.5,4.5 0 0 1 818.5,1072.8 Z" fill="#1a1a1a" filter="url(#b2)" opacity="0.85"/>
</g>
<g clip-path="url(#ce4)">
<path d="M914.7,953.3 L949.5,953.3 A6,6 0 0 1 949.5,965.3 L914.7,965.3 A6,6 0 0 1 914.7,953.3 Z" fill="#000" filter="url(#b2)"/>
<path d="M909.3,976.5 L949.3,976.5 A9.5,9.5 0 0 1 949.3,995.5 L909.3,995.5 A9.5,9.5 0 0 1 909.3,976.5 Z" fill="#000" filter="url(#b2)"/>
<ellipse cx="975" cy="1000" rx="4" ry="18" fill="#000" filter="url(#b3)" opacity="0.5"/>
</g>
<g clip-path="url(#ce5)">
<ellipse cx="905" cy="1060" rx="14" ry="14" fill="#666" filter="url(#b4)" opacity="0.5"/>
<path d="M898.5,1073.5 L957.5,1074.5 A4.5,4.5 0 0 1 957.5,1083.5 L898.5,1082.5 A4.5,4.5 0 0 1 898.5,1073.5 Z" fill="#222" filter="url(#b3)" opacity="0.85"/>
</g>
<text transform="translate(1168.14,768.3) scale(0.9254,1)" font-size="64.2">F</text>
<text transform="translate(1203.6,1116.12) rotate(-90) scale(0.9456,1)" font-size="34.78">Caspase activation</text>
<text transform="translate(1245.41,1171.17) rotate(-90) scale(0.9685,1)" font-size="33.26">[fold change vs. 0h ± SEM]</text>
<rect x="1306.3" y="816.7" width="5.2" height="294.7" fill="#000"/>
<rect x="1291.5" y="1106.4" width="458.5" height="5" fill="#000"/>
<rect x="1292.3" y="1106.2" width="15.7" height="5.2" fill="#000"/>
<text transform="translate(1269.91,1119.63) scale(0.9700,1)" font-size="31.4">0</text>
<rect x="1292.3" y="1068.1" width="15.7" height="5.2" fill="#000"/>
<text transform="translate(1269.46,1081.53) scale(0.9700,1)" font-size="31.4">1</text>
<rect x="1292.3" y="1030" width="15.7" height="5.2" fill="#000"/>
<text transform="translate(1269.91,1043.59) scale(0.9700,1)" font-size="31.4">2</text>
<rect x="1292.3" y="991.9" width="15.7" height="5.2" fill="#000"/>
<text transform="translate(1269.76,1005.33) scale(0.9700,1)" font-size="31.4">3</text>
<rect x="1292.3" y="953.8" width="15.7" height="5.2" fill="#000"/>
<text transform="translate(1268.85,967.23) scale(0.9700,1)" font-size="31.4">4</text>
<rect x="1292.3" y="915.7" width="15.7" height="5.2" fill="#000"/>
<text transform="translate(1269.46,928.98) scale(0.9700,1)" font-size="31.4">5</text>
<rect x="1292.3" y="877.6" width="15.7" height="5.2" fill="#000"/>
<text transform="translate(1269.76,891.03) scale(0.9700,1)" font-size="31.4">6</text>
<rect x="1292.3" y="839.5" width="15.7" height="5.2" fill="#000"/>
<text transform="translate(1269.91,852.93) scale(0.9700,1)" font-size="31.4">7</text>
<rect x="1351.6" y="1109" width="5.4" height="16.1" fill="#000"/>
<rect x="1420.2" y="1109" width="5.4" height="16.1" fill="#000"/>
<rect x="1489.3" y="1109" width="5.4" height="16.1" fill="#000"/>
<rect x="1558.2" y="1109" width="5.4" height="16.1" fill="#000"/>
<rect x="1626.8" y="1109" width="5.4" height="16.1" fill="#000"/>
<rect x="1695.5" y="1109" width="5.4" height="16.1" fill="#000"/>
<text transform="translate(1345.89,1159.59) scale(0.9696,1)" font-size="31.27">0</text>
<text transform="translate(1414.61,1159.6) scale(0.9922,1)" font-size="31.29">2</text>
<text transform="translate(1483.2,1159.59) scale(1.0089,1)" font-size="31.27">6</text>
<text transform="translate(1543.34,1159.6) scale(0.9709,1)" font-size="31.29">24</text>
<text transform="translate(1599.28,1159.59) scale(0.9833,1)" font-size="31.27">STS</text>
<text transform="translate(1673.47,1159.58) scale(0.9684,1)" font-size="31.7">Col</text>
<rect x="1358.6" y="1173.1" width="195.9" height="5.8" fill="#000"/>
<text transform="translate(1332.38,1212) scale(1.0839,1)" font-size="29.86">Time after cut [h]</text>
<line x1="1318" y1="1071.2" x2="1750" y2="1071.2" stroke="#000" stroke-width="3" stroke-linecap="round" stroke-dasharray="0 8.8"/>
<line x1="1595.2" y1="819.5" x2="1595.2" y2="1104" stroke="#000" stroke-width="3" stroke-linecap="round" stroke-dasharray="0 8.2"/>
<rect x="1412.8" y="1035.3" width="159.2" height="3.2" fill="#000"/>
<text transform="translate(1473.31,1030.12) scale(1.0495,1)" font-size="27.64" style="font-weight:normal">n.s.</text>
<circle cx="1337.6" cy="1071.2" r="6" fill="#140A8C"/>
<circle cx="1349.1" cy="1071.2" r="6" fill="#140A8C"/>
<circle cx="1360.3" cy="1071.2" r="6" fill="#140A8C"/>
<circle cx="1371.5" cy="1071.2" r="6" fill="#140A8C"/>
<circle cx="1406.4" cy="1059.2" r="6" fill="#1E00FA"/>
<circle cx="1441.1" cy="1059.2" r="6" fill="#1E00FA"/>
<circle cx="1423.2" cy="1078.4" r="6" fill="#1E00FA"/>
<circle cx="1423.2" cy="1066" r="6" fill="#1E00FA"/>
<rect x="1400.8" y="1060.8" width="44.8" height="7.6" fill="#1E00FA"/>
<rect x="1412" y="1060" width="22.4" height="12.8" fill="#1E00FA"/>
<circle cx="1474.4" cy="1068" r="6" fill="#645AFA"/>
<circle cx="1492" cy="1068" r="6" fill="#645AFA"/>
<circle cx="1509.6" cy="1068" r="6" fill="#645AFA"/>
<circle cx="1492" cy="1084" r="6" fill="#645AFA"/>
<rect x="1469.6" y="1066.4" width="45.3" height="8" fill="#645AFA"/>
<rect x="1480.8" y="1066" width="22.1" height="12.4" fill="#645AFA"/>
<circle cx="1543.2" cy="1092.8" r="6" fill="#8C87FA"/>
<circle cx="1555.2" cy="1082.4" r="6" fill="#8C87FA"/>
<circle cx="1566.4" cy="1090.4" r="6" fill="#8C87FA"/>
<circle cx="1578.4" cy="1085.6" r="6" fill="#8C87FA"/>
<rect x="1538.4" y="1086.4" width="44.8" height="4.8" fill="#8C87FA"/>
<rect x="1550.4" y="1084" width="21.6" height="8.8" fill="#8C87FA"/>
<circle cx="1629.6" cy="825.3" r="5.8" fill="#000"/>
<circle cx="1612.4" cy="915.7" r="5.8" fill="#000"/>
<circle cx="1629.6" cy="926.1" r="5.8" fill="#000"/>
<circle cx="1629.6" cy="1008.3" r="5.8" fill="#000"/>
<rect x="1606.7" y="916.1" width="45.3" height="5.5" fill="#000"/>
<rect x="1627" y="879.8" width="5.1" height="79.4" fill="#000"/>
<rect x="1618.7" y="879.5" width="22.1" height="5.2" fill="#000"/>
<rect x="1618.7" y="954" width="22.1" height="5.3" fill="#000"/>
<text transform="translate(1614.69,802.77) scale(1.2203,1)" font-size="22.57" style="font-weight:normal">***</text>
<circle cx="1698.3" cy="942.5" r="5.8" fill="#000"/>
<circle cx="1698.3" cy="953" r="5.8" fill="#000"/>
<circle cx="1681.4" cy="980.3" r="5.8" fill="#000"/>
<circle cx="1715.9" cy="980.3" r="5.8" fill="#000"/>
<rect x="1675.9" y="962" width="45.3" height="5.2" fill="#000"/>
<rect x="1696" y="952.3" width="4.8" height="23.9" fill="#000"/>
<rect x="1687.4" y="952.3" width="22.1" height="5.2" fill="#000"/>
<rect x="1687.4" y="970.9" width="22.1" height="5.3" fill="#000"/>
<text transform="translate(1682.99,927.29) scale(1.2986,1)" font-size="21.14" style="font-weight:normal">***</text>
<text transform="translate(3.6,1245.25) scale(0.9629,1)" font-size="64.93">G</text>
<rect x="198.1" y="1201.1" width="68.8" height="30.4" fill="#000"/>
<rect x="203.5" y="1206.5" width="58.3" height="19.7" fill="#C1651E"/>
<rect x="198.1" y="1236.9" width="68.8" height="30.1" fill="#000"/>
<rect x="203.5" y="1242.2" width="58.3" height="19.5" fill="#4BA5AF"/>
<text x="290.44" y="1225.5" font-size="26.96" letter-spacing="1.456" style="font-weight:normal">Fragmentation</text>
<text x="290.81" y="1260.4" font-size="26.52" letter-spacing="1.288" style="font-weight:normal">Integrity</text>
<rect x="171.7" y="1272.9" width="5.6" height="371.1" fill="#000"/>
<rect x="158.3" y="1283.35" width="15.7" height="5.5" fill="#000"/>
<text transform="translate(102.09,1297) scale(0.9700,1)" font-size="31.6">150</text>
<rect x="158.3" y="1394.65" width="15.7" height="5.5" fill="#000"/>
<text transform="translate(102.09,1408.3) scale(0.9700,1)" font-size="31.6">100</text>
<rect x="158.3" y="1505.95" width="15.7" height="5.5" fill="#000"/>
<text transform="translate(119.1,1519.6) scale(0.9700,1)" font-size="31.6">50</text>
<rect x="158.3" y="1617.35" width="15.7" height="5.5" fill="#000"/>
<text transform="translate(136.11,1631) scale(0.9700,1)" font-size="31.6">0</text>
<rect x="228.4" y="1641" width="5.6" height="17" fill="#000"/>
<rect x="355.3" y="1641" width="5.6" height="17" fill="#000"/>
<rect x="483.2" y="1641" width="5.6" height="17" fill="#000"/>
<rect x="191.2" y="1398.2" width="31.8" height="243.3" fill="#000"/>
<rect x="196.4" y="1403.4" width="21.4" height="238.1" fill="#C1651E"/>
<rect x="239.3" y="1620.1" width="31.7" height="21.4" fill="#000"/>
<rect x="244.5" y="1625.3" width="21.3" height="16.2" fill="#3E8B96"/>
<rect x="332.1" y="1313.7" width="5.4" height="96.3" fill="#000"/>
<rect x="327.05" y="1313.7" width="15.5" height="5.2" fill="#000"/>
<rect x="318.9" y="1409.4" width="30.8" height="232.1" fill="#000"/>
<rect x="324.1" y="1414.6" width="20.4" height="226.9" fill="#C1651E"/>
<rect x="380.2" y="1626.9" width="5" height="10.1" fill="#000"/>
<rect x="375.2" y="1626.9" width="15" height="5.2" fill="#000"/>
<rect x="366.9" y="1636.3" width="31.1" height="5.2" fill="#000"/>
<rect x="459.1" y="1296.6" width="5.4" height="50.4" fill="#000"/>
<rect x="454.05" y="1296.6" width="15.5" height="5.2" fill="#000"/>
<rect x="446.8" y="1346.8" width="30.5" height="294.7" fill="#000"/>
<rect x="452" y="1352" width="20.1" height="289.5" fill="#C1651E"/>
<rect x="507.5" y="1627.2" width="5" height="9.8" fill="#000"/>
<rect x="502.25" y="1627.2" width="15.5" height="5.2" fill="#000"/>
<rect x="494.9" y="1635.7" width="30.5" height="5.8" fill="#000"/>
<text transform="translate(312.26,1307.49) scale(1.0222,1)" font-size="30.73" style="font-weight:normal">n.s.</text>
<text transform="translate(439.07,1286.59) scale(1.0215,1)" font-size="30.55" style="font-weight:normal">n.s.</text>
<text transform="translate(361.46,1617.09) scale(1.0283,1)" font-size="30.55" style="font-weight:normal">n.s.</text>
<text transform="translate(486.88,1617.69) scale(1.0193,1)" font-size="30.55" style="font-weight:normal">n.s.</text>
<text transform="translate(207.37,1692.3) scale(0.9493,1)" font-size="32.37">cut</text>
<text transform="translate(322.38,1692.3) scale(0.9783,1)" font-size="31.3">qVD</text>
<text transform="translate(439.94,1692.3) scale(1.0097,1)" font-size="31.3">zVAD</text>
<text transform="translate(305.04,1727.79) scale(1.0042,1)" font-size="30.05">[10 µM]</text>
<text transform="translate(424.75,1727.79) scale(0.9965,1)" font-size="30.05">[100 µM]</text>
<rect x="171.7" y="1639.2" width="373.3" height="4.8" fill="#000"/>
<text transform="translate(35.9,1605.79) rotate(-90) scale(0.9656,1)" font-size="34.93">Neurite parameter</text>
<text transform="translate(77.7,1616.55) rotate(-90) scale(0.9425,1)" font-size="33.8">[% of control ± SEM]</text>
<text transform="translate(663.4,1245.3) scale(0.9942,1)" font-size="61.88">H</text>
<rect x="830.8" y="1272.2" width="5.1" height="371.8" fill="#000"/>
<rect x="817.2" y="1302.95" width="15.8" height="5.5" fill="#000"/>
<text transform="translate(760.51,1316.53) scale(0.9700,1)" font-size="31.4">100</text>
<rect x="817.2" y="1455.85" width="15.8" height="5.5" fill="#000"/>
<text transform="translate(777.41,1469.43) scale(0.9700,1)" font-size="31.4">50</text>
<rect x="817.2" y="1608.75" width="15.8" height="5.5" fill="#000"/>
<text transform="translate(794.31,1622.33) scale(0.9700,1)" font-size="31.4">0</text>
<rect x="887.5" y="1641" width="5.6" height="17" fill="#000"/>
<rect x="1017.2" y="1641" width="5.6" height="17" fill="#000"/>
<rect x="850" y="1306.3" width="30.8" height="335.2" fill="#000"/>
<rect x="855.2" y="1311.5" width="20.4" height="330" fill="#C1651E"/>
<rect x="899.8" y="1612" width="30" height="29.5" fill="#000"/>
<rect x="905" y="1617.2" width="19.6" height="24.3" fill="#3E8B96"/>
<rect x="993" y="1331.6" width="5.4" height="30.4" fill="#000"/>
<rect x="987.95" y="1331.6" width="15.5" height="5.2" fill="#000"/>
<rect x="980.4" y="1361.7" width="30.6" height="279.8" fill="#000"/>
<rect x="985.6" y="1366.9" width="20.2" height="274.6" fill="#C1651E"/>
<rect x="1042" y="1600.4" width="5.4" height="27.6" fill="#000"/>
<rect x="1036.95" y="1600.4" width="15.5" height="5.2" fill="#000"/>
<rect x="1029.4" y="1627.9" width="30.6" height="13.6" fill="#000"/>
<rect x="1034.6" y="1633.1" width="20.2" height="8.4" fill="#3E8B96"/>
<text transform="translate(971.88,1320) scale(1.0882,1)" font-size="30" style="font-weight:normal">n.s.</text>
<text transform="translate(1019.38,1590.2) scale(1.0882,1)" font-size="30" style="font-weight:normal">n.s.</text>
<text transform="translate(866.79,1692.7) scale(1.0790,1)" font-size="28.09">cut</text>
<text transform="translate(978.46,1692.7) scale(0.9397,1)" font-size="31.74">Nec1</text>
<text transform="translate(967.64,1727.04) scale(0.9384,1)" font-size="32.19">[10 µM]</text>
<rect x="830.8" y="1639" width="249.2" height="4.9" fill="#000"/>
<text transform="translate(693.9,1605.7) rotate(-90) scale(0.9673,1)" font-size="34.93">Neurite parameter</text>
<text transform="translate(735.45,1616.45) rotate(-90) scale(0.9482,1)" font-size="33.58">[% of control ± SEM]</text>
<text transform="translate(1171.43,1244) scale(0.9472,1)" font-size="61.16">I</text>
<rect x="1342" y="1274.3" width="5.5" height="39.2" fill="#000"/>
<rect x="1330.3" y="1308.6" width="27.9" height="5.4" fill="#000"/>
<rect x="1342" y="1351" width="5.5" height="296" fill="#000"/>
<rect x="1330.3" y="1350.8" width="27.9" height="5.4" fill="#000"/>
<rect x="1327.9" y="1278.55" width="17.1" height="5.5" fill="#000"/>
<text transform="translate(1272.45,1291.93) scale(0.9700,1)" font-size="30.8">200</text>
<rect x="1327.9" y="1364.25" width="17.1" height="5.5" fill="#000"/>
<text transform="translate(1272.45,1377.63) scale(0.9700,1)" font-size="30.8">100</text>
<rect x="1327.9" y="1490.05" width="17.1" height="5.5" fill="#000"/>
<text transform="translate(1289.03,1503.43) scale(0.9700,1)" font-size="30.8">50</text>
<rect x="1327.9" y="1615.45" width="17.1" height="5.5" fill="#000"/>
<text transform="translate(1305.61,1628.83) scale(0.9700,1)" font-size="30.8">0</text>
<rect x="1396.6" y="1644" width="5.6" height="15.7" fill="#000"/>
<rect x="1524.7" y="1644" width="5.6" height="15.7" fill="#000"/>
<rect x="1652.2" y="1644" width="5.6" height="15.7" fill="#000"/>
<rect x="1360.6" y="1366" width="31.4" height="278" fill="#000"/>
<rect x="1365.8" y="1371.2" width="21" height="272.8" fill="#C1651E"/>
<rect x="1409.5" y="1619.9" width="30.3" height="24.1" fill="#000"/>
<rect x="1414.7" y="1625.1" width="19.9" height="18.9" fill="#3E8B96"/>
<rect x="1488.7" y="1353.5" width="30.3" height="290.5" fill="#000"/>
<rect x="1493.9" y="1353.5" width="19.9" height="290.5" fill="#C1651E"/>
<rect x="1501.3" y="1276.5" width="5" height="7.5" fill="#000"/>
<rect x="1493.8" y="1276.5" width="20" height="5.2" fill="#000"/>
<rect x="1488.7" y="1280.4" width="30.3" height="31" fill="#000"/>
<rect x="1493.9" y="1285.6" width="19.9" height="25.8" fill="#C1651E"/>
<rect x="1493.9" y="1306" width="19.9" height="5.4" fill="#C1651E"/>
<rect x="1616.8" y="1353.5" width="30.4" height="290.5" fill="#000"/>
<rect x="1622" y="1353.5" width="20" height="290.5" fill="#C1651E"/>
<rect x="1629.5" y="1298.5" width="5" height="7.5" fill="#000"/>
<rect x="1624" y="1298.5" width="16" height="5.2" fill="#000"/>
<rect x="1616.8" y="1304.6" width="30.4" height="6.8" fill="#000"/>
<rect x="1622" y="1309" width="20" height="2.4" fill="#C1651E"/>
<rect x="1548.9" y="1623.2" width="5.4" height="7.8" fill="#000"/>
<rect x="1543.85" y="1623.2" width="15.5" height="5.2" fill="#000"/>
<rect x="1536" y="1630" width="31.3" height="14" fill="#000"/>
<rect x="1541.2" y="1635.2" width="20.9" height="8.8" fill="#3E8B96"/>
<rect x="1676.8" y="1587.2" width="5.4" height="26.8" fill="#000"/>
<rect x="1671.75" y="1587.2" width="15.5" height="5.2" fill="#000"/>
<rect x="1664.7" y="1613" width="29.7" height="31" fill="#000"/>
<rect x="1669.9" y="1618.2" width="19.3" height="25.8" fill="#3E8B96"/>
<text transform="translate(1525.39,1609.49) scale(1.0620,1)" font-size="30.55" style="font-weight:normal">n.s.</text>
<text transform="translate(1658.64,1577.39) scale(1.0395,1)" font-size="30.55" style="font-weight:normal">n.s.</text>
<text transform="translate(1376.29,1694.5) scale(1.0790,1)" font-size="28.09">cut</text>
<text transform="translate(1494.99,1694.5) scale(0.9848,1)" font-size="31.45">DFP</text>
<text transform="translate(1616.56,1694.5) scale(0.9478,1)" font-size="31.45">Fer-1</text>
<text transform="translate(1465.12,1730.49) scale(0.9870,1)" font-size="31.02">[200 µM]</text>
<text transform="translate(1610.14,1730.49) scale(0.9713,1)" font-size="31.02">[1 µM]</text>
<rect x="1342" y="1641.8" width="372.6" height="5" fill="#000"/>
<text transform="translate(1205.1,1607.99) rotate(-90) scale(0.9723,1)" font-size="34.64">Neurite parameter</text>
<text transform="translate(1246.7,1618.75) rotate(-90) scale(0.9682,1)" font-size="32.83">[% of control ± SEM]</text>
</svg>
</body></html>
